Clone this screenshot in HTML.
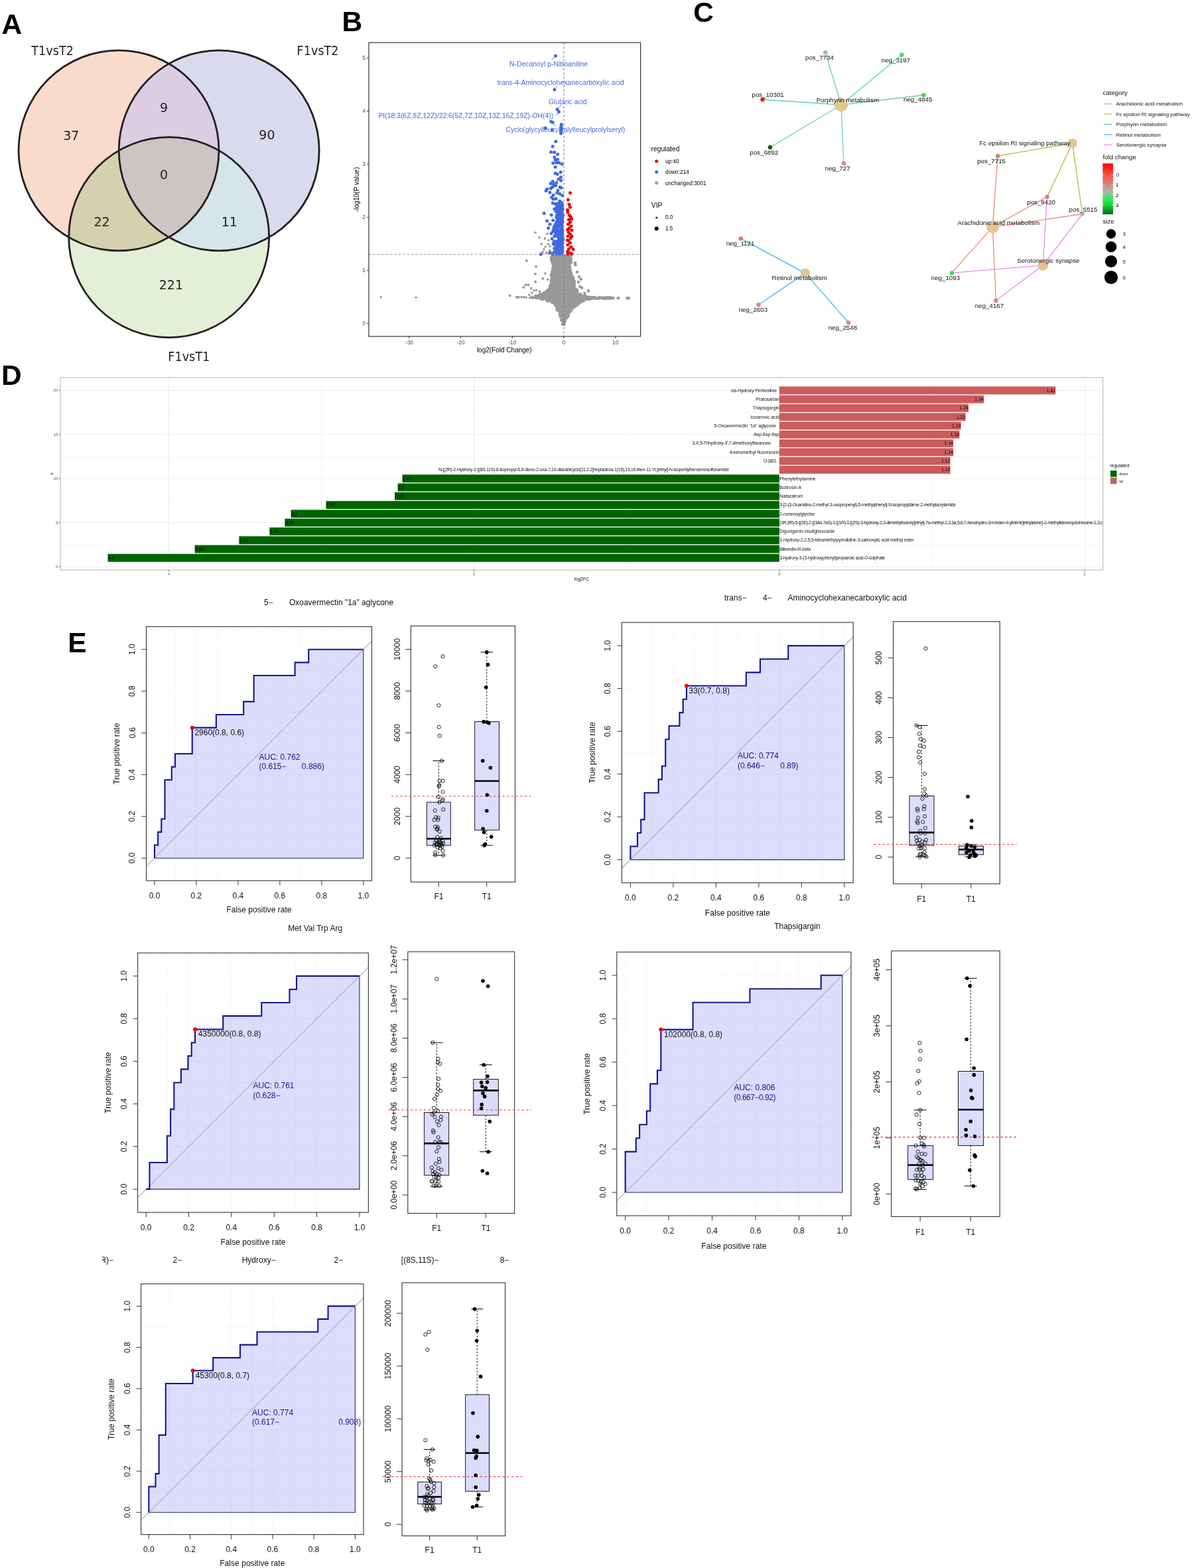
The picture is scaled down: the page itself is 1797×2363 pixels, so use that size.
<!DOCTYPE html>
<html><head><meta charset="utf-8"><title>Figure</title><style>html,body{margin:0;padding:0;background:#fff;}svg{display:block;}</style></head><body>
<svg width="1797" height="2363" viewBox="0 0 1797 2363"><defs><clipPath id="vc1"><circle cx="179" cy="226.8" r="151"/></clipPath><clipPath id="vc2"><circle cx="330.2" cy="226.8" r="151"/></clipPath></defs>
<circle cx="179" cy="226.8" r="151" fill="#f9dbcb"/>
<circle cx="330.2" cy="226.8" r="151" fill="#dadaee"/>
<circle cx="254.7" cy="357.6" r="151" fill="#e3efd6"/>
<circle cx="330.2" cy="226.8" r="151" fill="#dccde3" clip-path="url(#vc1)"/>
<circle cx="254.7" cy="357.6" r="151" fill="#d5d1ae" clip-path="url(#vc1)"/>
<circle cx="254.7" cy="357.6" r="151" fill="#d6e5ea" clip-path="url(#vc2)"/>
<g clip-path="url(#vc1)">
<circle cx="254.7" cy="357.6" r="151" fill="#cbc6c4" clip-path="url(#vc2)"/>
</g>
<circle cx="179" cy="226.8" r="151" fill="none" stroke="#231f1e" stroke-width="2.8"/>
<circle cx="330.2" cy="226.8" r="151" fill="none" stroke="#231f1e" stroke-width="2.8"/>
<circle cx="254.7" cy="357.6" r="151" fill="none" stroke="#231f1e" stroke-width="2.8"/>
<text x="47.3" y="83.2" font-size="19.6" fill="#231f1e" font-family="DejaVu Sans Condensed, DejaVu Sans, sans-serif">T1vsT2</text>
<text x="447.6" y="83.2" font-size="19.6" fill="#231f1e" font-family="DejaVu Sans Condensed, DejaVu Sans, sans-serif">F1vsT2</text>
<text x="253.3" y="543.5" font-size="19.6" fill="#231f1e" font-family="DejaVu Sans Condensed, DejaVu Sans, sans-serif">F1vsT1</text>
<text x="107.3" y="210.5" font-size="19" text-anchor="middle" fill="#231f1e" font-family="DejaVu Sans, sans-serif">37</text>
<text x="247" y="169.3" font-size="19" text-anchor="middle" fill="#231f1e" font-family="DejaVu Sans, sans-serif">9</text>
<text x="402.4" y="210" font-size="19" text-anchor="middle" fill="#231f1e" font-family="DejaVu Sans, sans-serif">90</text>
<text x="247" y="270.3" font-size="19" text-anchor="middle" fill="#231f1e" font-family="DejaVu Sans, sans-serif">0</text>
<text x="153.5" y="341" font-size="19" text-anchor="middle" fill="#231f1e" font-family="DejaVu Sans, sans-serif">22</text>
<text x="345.8" y="341" font-size="19" text-anchor="middle" fill="#231f1e" font-family="DejaVu Sans, sans-serif">11</text>
<text x="257.9" y="436" font-size="19" text-anchor="middle" fill="#231f1e" font-family="DejaVu Sans, sans-serif">221</text>
<defs><clipPath id="bclip"><rect x="556" y="64.2" width="409.6" height="442.8"/></clipPath></defs>
<circle cx="850.53" cy="489" r="2.3" fill="#999999"/>
<circle cx="848.16" cy="489" r="2.3" fill="#999999"/>
<circle cx="850.34" cy="486.6" r="2.3" fill="#999999"/>
<circle cx="849.31" cy="486.6" r="2.3" fill="#999999"/>
<circle cx="848.1" cy="484.21" r="2.3" fill="#999999"/>
<circle cx="850.67" cy="484.09" r="2.3" fill="#999999"/>
<circle cx="848.91" cy="484.2" r="2.3" fill="#999999"/>
<circle cx="851.5" cy="484.2" r="2.3" fill="#999999"/>
<circle cx="846.34" cy="482.32" r="2.3" fill="#999999"/>
<circle cx="848.46" cy="481.36" r="2.3" fill="#999999"/>
<circle cx="851.87" cy="482.52" r="2.3" fill="#999999"/>
<circle cx="846.56" cy="481.8" r="2.3" fill="#999999"/>
<circle cx="851.98" cy="481.8" r="2.3" fill="#999999"/>
<circle cx="847.66" cy="478.67" r="2.3" fill="#999999"/>
<circle cx="850.08" cy="479.06" r="2.3" fill="#999999"/>
<circle cx="851.53" cy="478.79" r="2.3" fill="#999999"/>
<circle cx="847" cy="479.4" r="2.3" fill="#999999"/>
<circle cx="854" cy="479.4" r="2.3" fill="#999999"/>
<circle cx="844.66" cy="477.13" r="2.3" fill="#999999"/>
<circle cx="847.99" cy="476.8" r="2.3" fill="#999999"/>
<circle cx="850.44" cy="476.3" r="2.3" fill="#999999"/>
<circle cx="852.26" cy="476.53" r="2.3" fill="#999999"/>
<circle cx="855.86" cy="476.88" r="2.3" fill="#999999"/>
<circle cx="845.27" cy="477" r="2.3" fill="#999999"/>
<circle cx="856.34" cy="477" r="2.3" fill="#999999"/>
<circle cx="844.14" cy="474.28" r="2.3" fill="#999999"/>
<circle cx="847.29" cy="474.92" r="2.3" fill="#999999"/>
<circle cx="849.01" cy="474.72" r="2.3" fill="#999999"/>
<circle cx="852.06" cy="475.2" r="2.3" fill="#999999"/>
<circle cx="854.99" cy="474.26" r="2.3" fill="#999999"/>
<circle cx="844.32" cy="474.6" r="2.3" fill="#999999"/>
<circle cx="856.9" cy="474.6" r="2.3" fill="#999999"/>
<circle cx="844.99" cy="472.61" r="2.3" fill="#999999"/>
<circle cx="847.17" cy="472.18" r="2.3" fill="#999999"/>
<circle cx="849.59" cy="472.47" r="2.3" fill="#999999"/>
<circle cx="853.35" cy="472.32" r="2.3" fill="#999999"/>
<circle cx="856.13" cy="471.9" r="2.3" fill="#999999"/>
<circle cx="845.22" cy="472.2" r="2.3" fill="#999999"/>
<circle cx="856.81" cy="472.2" r="2.3" fill="#999999"/>
<circle cx="843.46" cy="469.73" r="2.3" fill="#999999"/>
<circle cx="846.47" cy="470.51" r="2.3" fill="#999999"/>
<circle cx="848.49" cy="470.06" r="2.3" fill="#999999"/>
<circle cx="850.43" cy="470.12" r="2.3" fill="#999999"/>
<circle cx="853.96" cy="470.59" r="2.3" fill="#999999"/>
<circle cx="856.84" cy="469.46" r="2.3" fill="#999999"/>
<circle cx="858.75" cy="470.07" r="2.3" fill="#999999"/>
<circle cx="843.43" cy="469.8" r="2.3" fill="#999999"/>
<circle cx="859.42" cy="469.8" r="2.3" fill="#999999"/>
<circle cx="839.5" cy="466.79" r="2.3" fill="#999999"/>
<circle cx="841.92" cy="467.83" r="2.3" fill="#999999"/>
<circle cx="844.63" cy="467" r="2.3" fill="#999999"/>
<circle cx="847.65" cy="467.99" r="2.3" fill="#999999"/>
<circle cx="849.76" cy="467.32" r="2.3" fill="#999999"/>
<circle cx="853.11" cy="468.01" r="2.3" fill="#999999"/>
<circle cx="856.14" cy="467.98" r="2.3" fill="#999999"/>
<circle cx="857.87" cy="467.26" r="2.3" fill="#999999"/>
<circle cx="860.6" cy="468.01" r="2.3" fill="#999999"/>
<circle cx="840.13" cy="467.4" r="2.3" fill="#999999"/>
<circle cx="860.98" cy="467.4" r="2.3" fill="#999999"/>
<circle cx="840.71" cy="464.57" r="2.3" fill="#999999"/>
<circle cx="843.4" cy="464.98" r="2.3" fill="#999999"/>
<circle cx="846.57" cy="464.62" r="2.3" fill="#999999"/>
<circle cx="848.23" cy="464.87" r="2.3" fill="#999999"/>
<circle cx="851.42" cy="465.11" r="2.3" fill="#999999"/>
<circle cx="854.95" cy="465.3" r="2.3" fill="#999999"/>
<circle cx="856.85" cy="465.19" r="2.3" fill="#999999"/>
<circle cx="859.71" cy="464.29" r="2.3" fill="#999999"/>
<circle cx="862.67" cy="465.45" r="2.3" fill="#999999"/>
<circle cx="841.33" cy="465" r="2.3" fill="#999999"/>
<circle cx="862.04" cy="465" r="2.3" fill="#999999"/>
<circle cx="839.31" cy="462.44" r="2.3" fill="#999999"/>
<circle cx="841.45" cy="462.81" r="2.3" fill="#999999"/>
<circle cx="843.98" cy="461.91" r="2.3" fill="#999999"/>
<circle cx="846.82" cy="462.06" r="2.3" fill="#999999"/>
<circle cx="849.63" cy="461.88" r="2.3" fill="#999999"/>
<circle cx="851.68" cy="462.04" r="2.3" fill="#999999"/>
<circle cx="854.44" cy="462.38" r="2.3" fill="#999999"/>
<circle cx="856.92" cy="463.2" r="2.3" fill="#999999"/>
<circle cx="860.46" cy="462.04" r="2.3" fill="#999999"/>
<circle cx="862.49" cy="462.36" r="2.3" fill="#999999"/>
<circle cx="865.27" cy="462" r="2.3" fill="#999999"/>
<circle cx="839.58" cy="462.6" r="2.3" fill="#999999"/>
<circle cx="866.09" cy="462.6" r="2.3" fill="#999999"/>
<circle cx="837.66" cy="460.17" r="2.3" fill="#999999"/>
<circle cx="839.65" cy="459.56" r="2.3" fill="#999999"/>
<circle cx="842.66" cy="459.82" r="2.3" fill="#999999"/>
<circle cx="846.04" cy="459.66" r="2.3" fill="#999999"/>
<circle cx="847.35" cy="460.92" r="2.3" fill="#999999"/>
<circle cx="850.76" cy="459.63" r="2.3" fill="#999999"/>
<circle cx="853.38" cy="459.44" r="2.3" fill="#999999"/>
<circle cx="855.96" cy="460.97" r="2.3" fill="#999999"/>
<circle cx="859.09" cy="460.51" r="2.3" fill="#999999"/>
<circle cx="860.73" cy="459.99" r="2.3" fill="#999999"/>
<circle cx="863.18" cy="460.64" r="2.3" fill="#999999"/>
<circle cx="866.36" cy="460.65" r="2.3" fill="#999999"/>
<circle cx="868.64" cy="459.76" r="2.3" fill="#999999"/>
<circle cx="837.81" cy="460.2" r="2.3" fill="#999999"/>
<circle cx="869.52" cy="460.2" r="2.3" fill="#999999"/>
<circle cx="836.47" cy="458.29" r="2.3" fill="#999999"/>
<circle cx="839.02" cy="458.18" r="2.3" fill="#999999"/>
<circle cx="840.67" cy="457.83" r="2.3" fill="#999999"/>
<circle cx="843.48" cy="457.05" r="2.3" fill="#999999"/>
<circle cx="845.55" cy="457.45" r="2.3" fill="#999999"/>
<circle cx="848.52" cy="458.11" r="2.3" fill="#999999"/>
<circle cx="852.24" cy="457.72" r="2.3" fill="#999999"/>
<circle cx="854.81" cy="458.58" r="2.3" fill="#999999"/>
<circle cx="857.44" cy="457.58" r="2.3" fill="#999999"/>
<circle cx="858.86" cy="457.36" r="2.3" fill="#999999"/>
<circle cx="861.42" cy="457.33" r="2.3" fill="#999999"/>
<circle cx="864.71" cy="458.44" r="2.3" fill="#999999"/>
<circle cx="867.65" cy="457.77" r="2.3" fill="#999999"/>
<circle cx="869.95" cy="458.28" r="2.3" fill="#999999"/>
<circle cx="871.64" cy="458.06" r="2.3" fill="#999999"/>
<circle cx="836.01" cy="457.8" r="2.3" fill="#999999"/>
<circle cx="872.38" cy="457.8" r="2.3" fill="#999999"/>
<circle cx="832.5" cy="455.36" r="2.3" fill="#999999"/>
<circle cx="834.18" cy="455.86" r="2.3" fill="#999999"/>
<circle cx="837.03" cy="455.88" r="2.3" fill="#999999"/>
<circle cx="840.65" cy="455.23" r="2.3" fill="#999999"/>
<circle cx="842.34" cy="456.11" r="2.3" fill="#999999"/>
<circle cx="845.46" cy="454.87" r="2.3" fill="#999999"/>
<circle cx="847.1" cy="454.84" r="2.3" fill="#999999"/>
<circle cx="850.95" cy="455.89" r="2.3" fill="#999999"/>
<circle cx="852.33" cy="455.92" r="2.3" fill="#999999"/>
<circle cx="856.27" cy="455.65" r="2.3" fill="#999999"/>
<circle cx="857.86" cy="455.48" r="2.3" fill="#999999"/>
<circle cx="860.11" cy="454.62" r="2.3" fill="#999999"/>
<circle cx="864.05" cy="455.64" r="2.3" fill="#999999"/>
<circle cx="865.94" cy="456.09" r="2.3" fill="#999999"/>
<circle cx="868.39" cy="455.99" r="2.3" fill="#999999"/>
<circle cx="871.62" cy="454.94" r="2.3" fill="#999999"/>
<circle cx="873.3" cy="455.07" r="2.3" fill="#999999"/>
<circle cx="832.2" cy="455.4" r="2.3" fill="#999999"/>
<circle cx="875.85" cy="455.4" r="2.3" fill="#999999"/>
<circle cx="824.32" cy="452.87" r="2.3" fill="#999999"/>
<circle cx="826.71" cy="453.66" r="2.3" fill="#999999"/>
<circle cx="829.67" cy="452.93" r="2.3" fill="#999999"/>
<circle cx="832.64" cy="453.65" r="2.3" fill="#999999"/>
<circle cx="834.98" cy="453.67" r="2.3" fill="#999999"/>
<circle cx="837.71" cy="453.05" r="2.3" fill="#999999"/>
<circle cx="840.34" cy="452.23" r="2.3" fill="#999999"/>
<circle cx="842.81" cy="452.49" r="2.3" fill="#999999"/>
<circle cx="844.71" cy="453.48" r="2.3" fill="#999999"/>
<circle cx="847.58" cy="452.96" r="2.3" fill="#999999"/>
<circle cx="851.06" cy="453.09" r="2.3" fill="#999999"/>
<circle cx="853.03" cy="453.03" r="2.3" fill="#999999"/>
<circle cx="855.99" cy="453.45" r="2.3" fill="#999999"/>
<circle cx="857.87" cy="453.1" r="2.3" fill="#999999"/>
<circle cx="860.7" cy="452.64" r="2.3" fill="#999999"/>
<circle cx="864.14" cy="453.01" r="2.3" fill="#999999"/>
<circle cx="866.4" cy="453.42" r="2.3" fill="#999999"/>
<circle cx="869.56" cy="452.91" r="2.3" fill="#999999"/>
<circle cx="871.68" cy="453.01" r="2.3" fill="#999999"/>
<circle cx="874.12" cy="453.31" r="2.3" fill="#999999"/>
<circle cx="876.63" cy="453.05" r="2.3" fill="#999999"/>
<circle cx="879.27" cy="453.71" r="2.3" fill="#999999"/>
<circle cx="824.8" cy="453" r="2.3" fill="#999999"/>
<circle cx="880.04" cy="453" r="2.3" fill="#999999"/>
<circle cx="816.03" cy="450.22" r="2.3" fill="#999999"/>
<circle cx="818.01" cy="451.31" r="2.3" fill="#999999"/>
<circle cx="821.06" cy="450.02" r="2.3" fill="#999999"/>
<circle cx="822.51" cy="450.51" r="2.3" fill="#999999"/>
<circle cx="825.04" cy="450.19" r="2.3" fill="#999999"/>
<circle cx="827.64" cy="450.87" r="2.3" fill="#999999"/>
<circle cx="831.37" cy="451.24" r="2.3" fill="#999999"/>
<circle cx="832.97" cy="450.95" r="2.3" fill="#999999"/>
<circle cx="836.38" cy="450.03" r="2.3" fill="#999999"/>
<circle cx="839.33" cy="451.35" r="2.3" fill="#999999"/>
<circle cx="840.87" cy="451.32" r="2.3" fill="#999999"/>
<circle cx="843.76" cy="450.58" r="2.3" fill="#999999"/>
<circle cx="847.3" cy="451.13" r="2.3" fill="#999999"/>
<circle cx="848.58" cy="450.49" r="2.3" fill="#999999"/>
<circle cx="851.74" cy="450.34" r="2.3" fill="#999999"/>
<circle cx="853.83" cy="450.31" r="2.3" fill="#999999"/>
<circle cx="857.27" cy="449.83" r="2.3" fill="#999999"/>
<circle cx="859.61" cy="450.5" r="2.3" fill="#999999"/>
<circle cx="861.35" cy="450.33" r="2.3" fill="#999999"/>
<circle cx="864.92" cy="450.62" r="2.3" fill="#999999"/>
<circle cx="866.62" cy="451.38" r="2.3" fill="#999999"/>
<circle cx="870.38" cy="451.35" r="2.3" fill="#999999"/>
<circle cx="871.89" cy="450.22" r="2.3" fill="#999999"/>
<circle cx="874.38" cy="451.05" r="2.3" fill="#999999"/>
<circle cx="877.35" cy="450.01" r="2.3" fill="#999999"/>
<circle cx="880.19" cy="451.26" r="2.3" fill="#999999"/>
<circle cx="883.43" cy="450.21" r="2.3" fill="#999999"/>
<circle cx="884.96" cy="451.27" r="2.3" fill="#999999"/>
<circle cx="888.23" cy="450.92" r="2.3" fill="#999999"/>
<circle cx="815.42" cy="450.6" r="2.3" fill="#999999"/>
<circle cx="888.57" cy="450.6" r="2.3" fill="#999999"/>
<circle cx="807.71" cy="448.08" r="2.3" fill="#999999"/>
<circle cx="809.32" cy="448.9" r="2.3" fill="#999999"/>
<circle cx="812.82" cy="448.68" r="2.3" fill="#999999"/>
<circle cx="814.54" cy="448.77" r="2.3" fill="#999999"/>
<circle cx="817.11" cy="448.78" r="2.3" fill="#999999"/>
<circle cx="820.33" cy="447.94" r="2.3" fill="#999999"/>
<circle cx="823.09" cy="448.88" r="2.3" fill="#999999"/>
<circle cx="825.23" cy="447.61" r="2.3" fill="#999999"/>
<circle cx="828.25" cy="447.78" r="2.3" fill="#999999"/>
<circle cx="830.18" cy="447.66" r="2.3" fill="#999999"/>
<circle cx="832.68" cy="447.72" r="2.3" fill="#999999"/>
<circle cx="835.7" cy="447.89" r="2.3" fill="#999999"/>
<circle cx="839.02" cy="447.86" r="2.3" fill="#999999"/>
<circle cx="841.2" cy="447.68" r="2.3" fill="#999999"/>
<circle cx="843.56" cy="447.43" r="2.3" fill="#999999"/>
<circle cx="846.01" cy="447.42" r="2.3" fill="#999999"/>
<circle cx="849.38" cy="448.28" r="2.3" fill="#999999"/>
<circle cx="851.11" cy="448.16" r="2.3" fill="#999999"/>
<circle cx="854.9" cy="447.57" r="2.3" fill="#999999"/>
<circle cx="857.31" cy="448.09" r="2.3" fill="#999999"/>
<circle cx="859.4" cy="448.74" r="2.3" fill="#999999"/>
<circle cx="861.83" cy="448.21" r="2.3" fill="#999999"/>
<circle cx="864.9" cy="448.97" r="2.3" fill="#999999"/>
<circle cx="866.95" cy="448.73" r="2.3" fill="#999999"/>
<circle cx="870.14" cy="448.42" r="2.3" fill="#999999"/>
<circle cx="872.25" cy="447.96" r="2.3" fill="#999999"/>
<circle cx="874.29" cy="447.61" r="2.3" fill="#999999"/>
<circle cx="876.92" cy="448.59" r="2.3" fill="#999999"/>
<circle cx="879.81" cy="447.66" r="2.3" fill="#999999"/>
<circle cx="882.14" cy="448.75" r="2.3" fill="#999999"/>
<circle cx="886" cy="448.47" r="2.3" fill="#999999"/>
<circle cx="887.66" cy="447.79" r="2.3" fill="#999999"/>
<circle cx="890.27" cy="448.14" r="2.3" fill="#999999"/>
<circle cx="807.5" cy="448.2" r="2.3" fill="#999999"/>
<circle cx="891.3" cy="448.2" r="2.3" fill="#999999"/>
<circle cx="807.6" cy="446.54" r="2.3" fill="#999999"/>
<circle cx="811.33" cy="445.88" r="2.3" fill="#999999"/>
<circle cx="812.77" cy="446.55" r="2.3" fill="#999999"/>
<circle cx="815.47" cy="445.57" r="2.3" fill="#999999"/>
<circle cx="817.58" cy="445.61" r="2.3" fill="#999999"/>
<circle cx="820.94" cy="445.8" r="2.3" fill="#999999"/>
<circle cx="823.1" cy="445.81" r="2.3" fill="#999999"/>
<circle cx="825.38" cy="445.42" r="2.3" fill="#999999"/>
<circle cx="828.12" cy="445.64" r="2.3" fill="#999999"/>
<circle cx="830.64" cy="445.04" r="2.3" fill="#999999"/>
<circle cx="833.66" cy="445.37" r="2.3" fill="#999999"/>
<circle cx="836.71" cy="445.85" r="2.3" fill="#999999"/>
<circle cx="839.58" cy="446.05" r="2.3" fill="#999999"/>
<circle cx="842.12" cy="446.41" r="2.3" fill="#999999"/>
<circle cx="844.2" cy="445.52" r="2.3" fill="#999999"/>
<circle cx="847.75" cy="445.24" r="2.3" fill="#999999"/>
<circle cx="849.93" cy="446.03" r="2.3" fill="#999999"/>
<circle cx="851.45" cy="446.34" r="2.3" fill="#999999"/>
<circle cx="855.4" cy="446" r="2.3" fill="#999999"/>
<circle cx="857.75" cy="446.3" r="2.3" fill="#999999"/>
<circle cx="859.4" cy="445.84" r="2.3" fill="#999999"/>
<circle cx="862.58" cy="446.34" r="2.3" fill="#999999"/>
<circle cx="865.66" cy="446.32" r="2.3" fill="#999999"/>
<circle cx="867.91" cy="446.43" r="2.3" fill="#999999"/>
<circle cx="870.67" cy="446.11" r="2.3" fill="#999999"/>
<circle cx="872.54" cy="445.05" r="2.3" fill="#999999"/>
<circle cx="874.99" cy="445.58" r="2.3" fill="#999999"/>
<circle cx="877.54" cy="446.34" r="2.3" fill="#999999"/>
<circle cx="880.87" cy="446" r="2.3" fill="#999999"/>
<circle cx="808.08" cy="445.8" r="2.3" fill="#999999"/>
<circle cx="881.58" cy="445.8" r="2.3" fill="#999999"/>
<circle cx="814.3" cy="442.61" r="2.3" fill="#999999"/>
<circle cx="817.39" cy="443.8" r="2.3" fill="#999999"/>
<circle cx="819.52" cy="443.46" r="2.3" fill="#999999"/>
<circle cx="822.37" cy="442.71" r="2.3" fill="#999999"/>
<circle cx="825.09" cy="443" r="2.3" fill="#999999"/>
<circle cx="826.64" cy="443.02" r="2.3" fill="#999999"/>
<circle cx="830.28" cy="442.93" r="2.3" fill="#999999"/>
<circle cx="832.9" cy="444.16" r="2.3" fill="#999999"/>
<circle cx="835.11" cy="443.21" r="2.3" fill="#999999"/>
<circle cx="837.68" cy="443.69" r="2.3" fill="#999999"/>
<circle cx="840.74" cy="443.59" r="2.3" fill="#999999"/>
<circle cx="843.14" cy="442.72" r="2.3" fill="#999999"/>
<circle cx="844.95" cy="443.01" r="2.3" fill="#999999"/>
<circle cx="848.51" cy="443.09" r="2.3" fill="#999999"/>
<circle cx="850.82" cy="442.62" r="2.3" fill="#999999"/>
<circle cx="852.61" cy="443.03" r="2.3" fill="#999999"/>
<circle cx="856.19" cy="443.71" r="2.3" fill="#999999"/>
<circle cx="858.8" cy="443.07" r="2.3" fill="#999999"/>
<circle cx="861.14" cy="443.34" r="2.3" fill="#999999"/>
<circle cx="863.66" cy="442.79" r="2.3" fill="#999999"/>
<circle cx="866.95" cy="442.92" r="2.3" fill="#999999"/>
<circle cx="869.68" cy="444.1" r="2.3" fill="#999999"/>
<circle cx="870.74" cy="443.33" r="2.3" fill="#999999"/>
<circle cx="874.63" cy="444.15" r="2.3" fill="#999999"/>
<circle cx="814.42" cy="443.4" r="2.3" fill="#999999"/>
<circle cx="875.1" cy="443.4" r="2.3" fill="#999999"/>
<circle cx="819.6" cy="441.71" r="2.3" fill="#999999"/>
<circle cx="822.2" cy="441.13" r="2.3" fill="#999999"/>
<circle cx="824.69" cy="441.04" r="2.3" fill="#999999"/>
<circle cx="828.59" cy="440.41" r="2.3" fill="#999999"/>
<circle cx="830.97" cy="441.01" r="2.3" fill="#999999"/>
<circle cx="833.68" cy="441.33" r="2.3" fill="#999999"/>
<circle cx="835.23" cy="441.64" r="2.3" fill="#999999"/>
<circle cx="838.24" cy="440.24" r="2.3" fill="#999999"/>
<circle cx="840.07" cy="440.99" r="2.3" fill="#999999"/>
<circle cx="843.38" cy="440.68" r="2.3" fill="#999999"/>
<circle cx="845.49" cy="440.75" r="2.3" fill="#999999"/>
<circle cx="848.37" cy="441.54" r="2.3" fill="#999999"/>
<circle cx="850.46" cy="441.4" r="2.3" fill="#999999"/>
<circle cx="854.4" cy="440.39" r="2.3" fill="#999999"/>
<circle cx="857.14" cy="441.34" r="2.3" fill="#999999"/>
<circle cx="859.7" cy="440.66" r="2.3" fill="#999999"/>
<circle cx="861.46" cy="440.83" r="2.3" fill="#999999"/>
<circle cx="865.06" cy="441.14" r="2.3" fill="#999999"/>
<circle cx="866.64" cy="440.88" r="2.3" fill="#999999"/>
<circle cx="869.1" cy="440.28" r="2.3" fill="#999999"/>
<circle cx="820.16" cy="441" r="2.3" fill="#999999"/>
<circle cx="870.09" cy="441" r="2.3" fill="#999999"/>
<circle cx="823.61" cy="439.3" r="2.3" fill="#999999"/>
<circle cx="826.15" cy="438.23" r="2.3" fill="#999999"/>
<circle cx="829.17" cy="438.1" r="2.3" fill="#999999"/>
<circle cx="831.55" cy="439.33" r="2.3" fill="#999999"/>
<circle cx="834.96" cy="439.1" r="2.3" fill="#999999"/>
<circle cx="837.16" cy="439.26" r="2.3" fill="#999999"/>
<circle cx="840.25" cy="438.68" r="2.3" fill="#999999"/>
<circle cx="842.5" cy="437.88" r="2.3" fill="#999999"/>
<circle cx="845.12" cy="438.52" r="2.3" fill="#999999"/>
<circle cx="847.75" cy="438.83" r="2.3" fill="#999999"/>
<circle cx="849.61" cy="437.88" r="2.3" fill="#999999"/>
<circle cx="853.23" cy="438" r="2.3" fill="#999999"/>
<circle cx="855.1" cy="438.35" r="2.3" fill="#999999"/>
<circle cx="857.43" cy="438.98" r="2.3" fill="#999999"/>
<circle cx="861.11" cy="438.22" r="2.3" fill="#999999"/>
<circle cx="863.2" cy="438.28" r="2.3" fill="#999999"/>
<circle cx="865.64" cy="438.43" r="2.3" fill="#999999"/>
<circle cx="867.62" cy="438.06" r="2.3" fill="#999999"/>
<circle cx="824.05" cy="438.6" r="2.3" fill="#999999"/>
<circle cx="870.07" cy="438.6" r="2.3" fill="#999999"/>
<circle cx="827.48" cy="435.75" r="2.3" fill="#999999"/>
<circle cx="830.73" cy="436.99" r="2.3" fill="#999999"/>
<circle cx="832.6" cy="435.62" r="2.3" fill="#999999"/>
<circle cx="834.79" cy="435.55" r="2.3" fill="#999999"/>
<circle cx="837.63" cy="435.55" r="2.3" fill="#999999"/>
<circle cx="840.06" cy="435.81" r="2.3" fill="#999999"/>
<circle cx="843.19" cy="436.82" r="2.3" fill="#999999"/>
<circle cx="846.08" cy="436.06" r="2.3" fill="#999999"/>
<circle cx="848.14" cy="436.24" r="2.3" fill="#999999"/>
<circle cx="850.69" cy="435.94" r="2.3" fill="#999999"/>
<circle cx="852.78" cy="435.84" r="2.3" fill="#999999"/>
<circle cx="856.83" cy="435.6" r="2.3" fill="#999999"/>
<circle cx="858.69" cy="436.41" r="2.3" fill="#999999"/>
<circle cx="861.86" cy="435.75" r="2.3" fill="#999999"/>
<circle cx="863.52" cy="435.8" r="2.3" fill="#999999"/>
<circle cx="866.32" cy="436.11" r="2.3" fill="#999999"/>
<circle cx="869.81" cy="436.76" r="2.3" fill="#999999"/>
<circle cx="827.58" cy="436.2" r="2.3" fill="#999999"/>
<circle cx="869.03" cy="436.2" r="2.3" fill="#999999"/>
<circle cx="829.56" cy="434.14" r="2.3" fill="#999999"/>
<circle cx="833.54" cy="433.76" r="2.3" fill="#999999"/>
<circle cx="835.64" cy="433" r="2.3" fill="#999999"/>
<circle cx="837.93" cy="434.48" r="2.3" fill="#999999"/>
<circle cx="841.23" cy="434.37" r="2.3" fill="#999999"/>
<circle cx="844.06" cy="433.4" r="2.3" fill="#999999"/>
<circle cx="845.28" cy="433.25" r="2.3" fill="#999999"/>
<circle cx="848.54" cy="434.09" r="2.3" fill="#999999"/>
<circle cx="851.81" cy="434.15" r="2.3" fill="#999999"/>
<circle cx="853.94" cy="434.22" r="2.3" fill="#999999"/>
<circle cx="856.24" cy="433.88" r="2.3" fill="#999999"/>
<circle cx="858.17" cy="434.25" r="2.3" fill="#999999"/>
<circle cx="861.08" cy="434.47" r="2.3" fill="#999999"/>
<circle cx="864.34" cy="433.49" r="2.3" fill="#999999"/>
<circle cx="830.4" cy="433.8" r="2.3" fill="#999999"/>
<circle cx="865.81" cy="433.8" r="2.3" fill="#999999"/>
<circle cx="829.4" cy="431.72" r="2.3" fill="#999999"/>
<circle cx="831.16" cy="430.71" r="2.3" fill="#999999"/>
<circle cx="834.42" cy="431.53" r="2.3" fill="#999999"/>
<circle cx="836.8" cy="430.96" r="2.3" fill="#999999"/>
<circle cx="839.74" cy="430.62" r="2.3" fill="#999999"/>
<circle cx="841.86" cy="431.34" r="2.3" fill="#999999"/>
<circle cx="845.51" cy="431.63" r="2.3" fill="#999999"/>
<circle cx="847.99" cy="431.36" r="2.3" fill="#999999"/>
<circle cx="849.55" cy="431" r="2.3" fill="#999999"/>
<circle cx="853.32" cy="431.73" r="2.3" fill="#999999"/>
<circle cx="854.87" cy="430.63" r="2.3" fill="#999999"/>
<circle cx="857.78" cy="431.68" r="2.3" fill="#999999"/>
<circle cx="860.25" cy="431.01" r="2.3" fill="#999999"/>
<circle cx="863.25" cy="432.08" r="2.3" fill="#999999"/>
<circle cx="865.14" cy="430.65" r="2.3" fill="#999999"/>
<circle cx="829.28" cy="431.4" r="2.3" fill="#999999"/>
<circle cx="865.72" cy="431.4" r="2.3" fill="#999999"/>
<circle cx="830.67" cy="428.52" r="2.3" fill="#999999"/>
<circle cx="833.46" cy="429.38" r="2.3" fill="#999999"/>
<circle cx="835.59" cy="428.53" r="2.3" fill="#999999"/>
<circle cx="838.93" cy="428.7" r="2.3" fill="#999999"/>
<circle cx="841.29" cy="428.57" r="2.3" fill="#999999"/>
<circle cx="842.94" cy="429.42" r="2.3" fill="#999999"/>
<circle cx="845.65" cy="429.72" r="2.3" fill="#999999"/>
<circle cx="848.57" cy="428.5" r="2.3" fill="#999999"/>
<circle cx="850.74" cy="428.87" r="2.3" fill="#999999"/>
<circle cx="854.05" cy="429.72" r="2.3" fill="#999999"/>
<circle cx="855.82" cy="428.83" r="2.3" fill="#999999"/>
<circle cx="858.52" cy="429.76" r="2.3" fill="#999999"/>
<circle cx="861.01" cy="428.28" r="2.3" fill="#999999"/>
<circle cx="863.48" cy="428.83" r="2.3" fill="#999999"/>
<circle cx="830.48" cy="429" r="2.3" fill="#999999"/>
<circle cx="865.49" cy="429" r="2.3" fill="#999999"/>
<circle cx="832.79" cy="427.4" r="2.3" fill="#999999"/>
<circle cx="835.71" cy="426.33" r="2.3" fill="#999999"/>
<circle cx="837.12" cy="427.3" r="2.3" fill="#999999"/>
<circle cx="840.62" cy="425.85" r="2.3" fill="#999999"/>
<circle cx="843.09" cy="426.41" r="2.3" fill="#999999"/>
<circle cx="845.22" cy="426.33" r="2.3" fill="#999999"/>
<circle cx="847.49" cy="425.8" r="2.3" fill="#999999"/>
<circle cx="850.27" cy="426.36" r="2.3" fill="#999999"/>
<circle cx="853.95" cy="426" r="2.3" fill="#999999"/>
<circle cx="856.57" cy="426.13" r="2.3" fill="#999999"/>
<circle cx="858.19" cy="427.11" r="2.3" fill="#999999"/>
<circle cx="861.54" cy="426.49" r="2.3" fill="#999999"/>
<circle cx="862.9" cy="426.56" r="2.3" fill="#999999"/>
<circle cx="832.52" cy="426.6" r="2.3" fill="#999999"/>
<circle cx="866.09" cy="426.6" r="2.3" fill="#999999"/>
<circle cx="830.93" cy="423.98" r="2.3" fill="#999999"/>
<circle cx="834.66" cy="423.45" r="2.3" fill="#999999"/>
<circle cx="836.48" cy="424.7" r="2.3" fill="#999999"/>
<circle cx="839.65" cy="423.47" r="2.3" fill="#999999"/>
<circle cx="841.08" cy="423.5" r="2.3" fill="#999999"/>
<circle cx="845.1" cy="423.81" r="2.3" fill="#999999"/>
<circle cx="847.42" cy="424.84" r="2.3" fill="#999999"/>
<circle cx="849.37" cy="423.84" r="2.3" fill="#999999"/>
<circle cx="852.96" cy="424.39" r="2.3" fill="#999999"/>
<circle cx="854.44" cy="424.55" r="2.3" fill="#999999"/>
<circle cx="857.13" cy="423.84" r="2.3" fill="#999999"/>
<circle cx="859.23" cy="424.61" r="2.3" fill="#999999"/>
<circle cx="863.29" cy="424.41" r="2.3" fill="#999999"/>
<circle cx="865.93" cy="423.44" r="2.3" fill="#999999"/>
<circle cx="831.52" cy="424.2" r="2.3" fill="#999999"/>
<circle cx="865.5" cy="424.2" r="2.3" fill="#999999"/>
<circle cx="831.79" cy="422.53" r="2.3" fill="#999999"/>
<circle cx="833.47" cy="421.4" r="2.3" fill="#999999"/>
<circle cx="836.14" cy="421.79" r="2.3" fill="#999999"/>
<circle cx="839.54" cy="421.29" r="2.3" fill="#999999"/>
<circle cx="841.94" cy="422.18" r="2.3" fill="#999999"/>
<circle cx="844.57" cy="422.24" r="2.3" fill="#999999"/>
<circle cx="846.83" cy="421.52" r="2.3" fill="#999999"/>
<circle cx="848.97" cy="421.58" r="2.3" fill="#999999"/>
<circle cx="852.31" cy="421.13" r="2.3" fill="#999999"/>
<circle cx="853.97" cy="422.2" r="2.3" fill="#999999"/>
<circle cx="856.65" cy="421.1" r="2.3" fill="#999999"/>
<circle cx="858.91" cy="421.88" r="2.3" fill="#999999"/>
<circle cx="861.98" cy="422.57" r="2.3" fill="#999999"/>
<circle cx="831.15" cy="421.8" r="2.3" fill="#999999"/>
<circle cx="863.52" cy="421.8" r="2.3" fill="#999999"/>
<circle cx="832.5" cy="418.73" r="2.3" fill="#999999"/>
<circle cx="834.83" cy="419.4" r="2.3" fill="#999999"/>
<circle cx="838.41" cy="419.32" r="2.3" fill="#999999"/>
<circle cx="840.25" cy="419.27" r="2.3" fill="#999999"/>
<circle cx="843.47" cy="419.68" r="2.3" fill="#999999"/>
<circle cx="846.27" cy="419.96" r="2.3" fill="#999999"/>
<circle cx="848.74" cy="418.79" r="2.3" fill="#999999"/>
<circle cx="851.62" cy="419.07" r="2.3" fill="#999999"/>
<circle cx="853.78" cy="419.2" r="2.3" fill="#999999"/>
<circle cx="856.65" cy="418.92" r="2.3" fill="#999999"/>
<circle cx="858.47" cy="418.99" r="2.3" fill="#999999"/>
<circle cx="860.92" cy="420.01" r="2.3" fill="#999999"/>
<circle cx="864.2" cy="419.12" r="2.3" fill="#999999"/>
<circle cx="832.97" cy="419.4" r="2.3" fill="#999999"/>
<circle cx="864.22" cy="419.4" r="2.3" fill="#999999"/>
<circle cx="831.64" cy="416.57" r="2.3" fill="#999999"/>
<circle cx="834.72" cy="417.25" r="2.3" fill="#999999"/>
<circle cx="837.61" cy="416.36" r="2.3" fill="#999999"/>
<circle cx="839.39" cy="417.51" r="2.3" fill="#999999"/>
<circle cx="842.57" cy="417.66" r="2.3" fill="#999999"/>
<circle cx="843.89" cy="416.67" r="2.3" fill="#999999"/>
<circle cx="846.62" cy="416.5" r="2.3" fill="#999999"/>
<circle cx="850.58" cy="417.13" r="2.3" fill="#999999"/>
<circle cx="853.12" cy="416.8" r="2.3" fill="#999999"/>
<circle cx="855.61" cy="416.92" r="2.3" fill="#999999"/>
<circle cx="857.24" cy="417.44" r="2.3" fill="#999999"/>
<circle cx="860.94" cy="416.37" r="2.3" fill="#999999"/>
<circle cx="862.98" cy="417.19" r="2.3" fill="#999999"/>
<circle cx="831.73" cy="417" r="2.3" fill="#999999"/>
<circle cx="863.44" cy="417" r="2.3" fill="#999999"/>
<circle cx="831.03" cy="414.13" r="2.3" fill="#999999"/>
<circle cx="833.81" cy="414.76" r="2.3" fill="#999999"/>
<circle cx="837.04" cy="414.13" r="2.3" fill="#999999"/>
<circle cx="838.62" cy="414.32" r="2.3" fill="#999999"/>
<circle cx="842.29" cy="414.1" r="2.3" fill="#999999"/>
<circle cx="844.3" cy="414.13" r="2.3" fill="#999999"/>
<circle cx="847.67" cy="414.68" r="2.3" fill="#999999"/>
<circle cx="849.1" cy="413.96" r="2.3" fill="#999999"/>
<circle cx="852.23" cy="414.68" r="2.3" fill="#999999"/>
<circle cx="855.22" cy="413.95" r="2.3" fill="#999999"/>
<circle cx="857.06" cy="414.91" r="2.3" fill="#999999"/>
<circle cx="860.06" cy="414.25" r="2.3" fill="#999999"/>
<circle cx="831.7" cy="414.6" r="2.3" fill="#999999"/>
<circle cx="860.75" cy="414.6" r="2.3" fill="#999999"/>
<circle cx="832.02" cy="412.31" r="2.3" fill="#999999"/>
<circle cx="834.7" cy="412.07" r="2.3" fill="#999999"/>
<circle cx="838.11" cy="412.99" r="2.3" fill="#999999"/>
<circle cx="839.91" cy="411.72" r="2.3" fill="#999999"/>
<circle cx="843.09" cy="411.73" r="2.3" fill="#999999"/>
<circle cx="844.53" cy="412.84" r="2.3" fill="#999999"/>
<circle cx="847.8" cy="412.71" r="2.3" fill="#999999"/>
<circle cx="850.37" cy="412.81" r="2.3" fill="#999999"/>
<circle cx="853.06" cy="411.66" r="2.3" fill="#999999"/>
<circle cx="854.95" cy="412.28" r="2.3" fill="#999999"/>
<circle cx="858.55" cy="412.86" r="2.3" fill="#999999"/>
<circle cx="860.27" cy="412.4" r="2.3" fill="#999999"/>
<circle cx="832.42" cy="412.2" r="2.3" fill="#999999"/>
<circle cx="861.44" cy="412.2" r="2.3" fill="#999999"/>
<circle cx="832.3" cy="409.45" r="2.3" fill="#999999"/>
<circle cx="835.5" cy="410.48" r="2.3" fill="#999999"/>
<circle cx="837.44" cy="409.78" r="2.3" fill="#999999"/>
<circle cx="841.16" cy="410.55" r="2.3" fill="#999999"/>
<circle cx="842.78" cy="409.2" r="2.3" fill="#999999"/>
<circle cx="846.58" cy="410.56" r="2.3" fill="#999999"/>
<circle cx="848.44" cy="409.09" r="2.3" fill="#999999"/>
<circle cx="851.75" cy="409.62" r="2.3" fill="#999999"/>
<circle cx="854.31" cy="409.99" r="2.3" fill="#999999"/>
<circle cx="856.79" cy="409.26" r="2.3" fill="#999999"/>
<circle cx="859.32" cy="409.36" r="2.3" fill="#999999"/>
<circle cx="832.97" cy="409.8" r="2.3" fill="#999999"/>
<circle cx="859.47" cy="409.8" r="2.3" fill="#999999"/>
<circle cx="833.75" cy="406.89" r="2.3" fill="#999999"/>
<circle cx="835.37" cy="407.24" r="2.3" fill="#999999"/>
<circle cx="838.45" cy="407.21" r="2.3" fill="#999999"/>
<circle cx="840.42" cy="407" r="2.3" fill="#999999"/>
<circle cx="843.98" cy="408.04" r="2.3" fill="#999999"/>
<circle cx="845.49" cy="407.5" r="2.3" fill="#999999"/>
<circle cx="849.23" cy="406.66" r="2.3" fill="#999999"/>
<circle cx="851.96" cy="406.79" r="2.3" fill="#999999"/>
<circle cx="854.18" cy="407.48" r="2.3" fill="#999999"/>
<circle cx="856.82" cy="407.09" r="2.3" fill="#999999"/>
<circle cx="859.09" cy="407.53" r="2.3" fill="#999999"/>
<circle cx="833.32" cy="407.4" r="2.3" fill="#999999"/>
<circle cx="859.95" cy="407.4" r="2.3" fill="#999999"/>
<circle cx="833.45" cy="404.9" r="2.3" fill="#999999"/>
<circle cx="835.38" cy="405.19" r="2.3" fill="#999999"/>
<circle cx="838.72" cy="404.58" r="2.3" fill="#999999"/>
<circle cx="841.76" cy="405.45" r="2.3" fill="#999999"/>
<circle cx="843.87" cy="404.49" r="2.3" fill="#999999"/>
<circle cx="846.5" cy="404.37" r="2.3" fill="#999999"/>
<circle cx="848.54" cy="404.89" r="2.3" fill="#999999"/>
<circle cx="851.08" cy="404.91" r="2.3" fill="#999999"/>
<circle cx="854.35" cy="404.27" r="2.3" fill="#999999"/>
<circle cx="857.16" cy="404.33" r="2.3" fill="#999999"/>
<circle cx="833.64" cy="405" r="2.3" fill="#999999"/>
<circle cx="858.94" cy="405" r="2.3" fill="#999999"/>
<circle cx="834.27" cy="401.89" r="2.3" fill="#999999"/>
<circle cx="836.86" cy="402.4" r="2.3" fill="#999999"/>
<circle cx="840.17" cy="402.02" r="2.3" fill="#999999"/>
<circle cx="842.62" cy="403.39" r="2.3" fill="#999999"/>
<circle cx="845.02" cy="403.1" r="2.3" fill="#999999"/>
<circle cx="846.76" cy="403.37" r="2.3" fill="#999999"/>
<circle cx="849.84" cy="403.33" r="2.3" fill="#999999"/>
<circle cx="853.12" cy="402.06" r="2.3" fill="#999999"/>
<circle cx="855.51" cy="403.29" r="2.3" fill="#999999"/>
<circle cx="856.96" cy="402.36" r="2.3" fill="#999999"/>
<circle cx="834.35" cy="402.6" r="2.3" fill="#999999"/>
<circle cx="859.35" cy="402.6" r="2.3" fill="#999999"/>
<circle cx="834.7" cy="399.84" r="2.3" fill="#999999"/>
<circle cx="837.17" cy="399.63" r="2.3" fill="#999999"/>
<circle cx="839.26" cy="400.87" r="2.3" fill="#999999"/>
<circle cx="841.39" cy="399.82" r="2.3" fill="#999999"/>
<circle cx="844.47" cy="399.91" r="2.3" fill="#999999"/>
<circle cx="846.32" cy="399.69" r="2.3" fill="#999999"/>
<circle cx="849.12" cy="400.9" r="2.3" fill="#999999"/>
<circle cx="852.55" cy="400.83" r="2.3" fill="#999999"/>
<circle cx="854.33" cy="400.66" r="2.3" fill="#999999"/>
<circle cx="856.85" cy="400.25" r="2.3" fill="#999999"/>
<circle cx="834.16" cy="400.2" r="2.3" fill="#999999"/>
<circle cx="857.84" cy="400.2" r="2.3" fill="#999999"/>
<circle cx="834.06" cy="397.89" r="2.3" fill="#999999"/>
<circle cx="836.19" cy="398.41" r="2.3" fill="#999999"/>
<circle cx="838.03" cy="398.59" r="2.3" fill="#999999"/>
<circle cx="841.47" cy="397.63" r="2.3" fill="#999999"/>
<circle cx="844.34" cy="397.42" r="2.3" fill="#999999"/>
<circle cx="847.25" cy="397.92" r="2.3" fill="#999999"/>
<circle cx="848.84" cy="398.22" r="2.3" fill="#999999"/>
<circle cx="851.57" cy="397.28" r="2.3" fill="#999999"/>
<circle cx="854.65" cy="397.08" r="2.3" fill="#999999"/>
<circle cx="857.37" cy="397.41" r="2.3" fill="#999999"/>
<circle cx="833.56" cy="397.8" r="2.3" fill="#999999"/>
<circle cx="858.64" cy="397.8" r="2.3" fill="#999999"/>
<circle cx="833.13" cy="395.66" r="2.3" fill="#999999"/>
<circle cx="835.29" cy="394.6" r="2.3" fill="#999999"/>
<circle cx="837.44" cy="394.84" r="2.3" fill="#999999"/>
<circle cx="840.98" cy="395.29" r="2.3" fill="#999999"/>
<circle cx="843.41" cy="396.03" r="2.3" fill="#999999"/>
<circle cx="845.4" cy="394.96" r="2.3" fill="#999999"/>
<circle cx="848.83" cy="394.64" r="2.3" fill="#999999"/>
<circle cx="850.39" cy="395.17" r="2.3" fill="#999999"/>
<circle cx="853.16" cy="395.17" r="2.3" fill="#999999"/>
<circle cx="855.95" cy="395.53" r="2.3" fill="#999999"/>
<circle cx="859.13" cy="394.93" r="2.3" fill="#999999"/>
<circle cx="833.09" cy="395.4" r="2.3" fill="#999999"/>
<circle cx="861.12" cy="395.4" r="2.3" fill="#999999"/>
<circle cx="831.88" cy="393.7" r="2.3" fill="#999999"/>
<circle cx="834.66" cy="392.44" r="2.3" fill="#999999"/>
<circle cx="837.02" cy="393.22" r="2.3" fill="#999999"/>
<circle cx="840.86" cy="393.45" r="2.3" fill="#999999"/>
<circle cx="842.71" cy="392.62" r="2.3" fill="#999999"/>
<circle cx="844.69" cy="393.23" r="2.3" fill="#999999"/>
<circle cx="848.17" cy="392.76" r="2.3" fill="#999999"/>
<circle cx="850.9" cy="392.91" r="2.3" fill="#999999"/>
<circle cx="853.97" cy="393.37" r="2.3" fill="#999999"/>
<circle cx="855.46" cy="393.65" r="2.3" fill="#999999"/>
<circle cx="857.74" cy="393.05" r="2.3" fill="#999999"/>
<circle cx="832.57" cy="393" r="2.3" fill="#999999"/>
<circle cx="860.44" cy="393" r="2.3" fill="#999999"/>
<circle cx="830.99" cy="391.05" r="2.3" fill="#999999"/>
<circle cx="833.52" cy="390.68" r="2.3" fill="#999999"/>
<circle cx="837.6" cy="390.03" r="2.3" fill="#999999"/>
<circle cx="839.02" cy="390.77" r="2.3" fill="#999999"/>
<circle cx="842.11" cy="390.83" r="2.3" fill="#999999"/>
<circle cx="845.2" cy="390.08" r="2.3" fill="#999999"/>
<circle cx="846.99" cy="390.28" r="2.3" fill="#999999"/>
<circle cx="849.18" cy="391.22" r="2.3" fill="#999999"/>
<circle cx="852.95" cy="390.94" r="2.3" fill="#999999"/>
<circle cx="854.31" cy="391.15" r="2.3" fill="#999999"/>
<circle cx="858.09" cy="390.54" r="2.3" fill="#999999"/>
<circle cx="860.69" cy="390.52" r="2.3" fill="#999999"/>
<circle cx="831.8" cy="390.6" r="2.3" fill="#999999"/>
<circle cx="860.27" cy="390.6" r="2.3" fill="#999999"/>
<circle cx="831.25" cy="387.46" r="2.3" fill="#999999"/>
<circle cx="834.02" cy="388.6" r="2.3" fill="#999999"/>
<circle cx="837.19" cy="388.75" r="2.3" fill="#999999"/>
<circle cx="839.82" cy="387.83" r="2.3" fill="#999999"/>
<circle cx="842.17" cy="388.1" r="2.3" fill="#999999"/>
<circle cx="845.14" cy="388.24" r="2.3" fill="#999999"/>
<circle cx="846.91" cy="388.43" r="2.3" fill="#999999"/>
<circle cx="850.63" cy="387.75" r="2.3" fill="#999999"/>
<circle cx="853.09" cy="387.42" r="2.3" fill="#999999"/>
<circle cx="854.7" cy="387.78" r="2.3" fill="#999999"/>
<circle cx="858.07" cy="388.91" r="2.3" fill="#999999"/>
<circle cx="831.78" cy="388.2" r="2.3" fill="#999999"/>
<circle cx="859.89" cy="388.2" r="2.3" fill="#999999"/>
<circle cx="834.23" cy="385.53" r="2.3" fill="#999999"/>
<circle cx="835.81" cy="386.45" r="2.3" fill="#999999"/>
<circle cx="839.04" cy="386.11" r="2.3" fill="#999999"/>
<circle cx="841.69" cy="386.57" r="2.3" fill="#999999"/>
<circle cx="843.98" cy="386.34" r="2.3" fill="#999999"/>
<circle cx="846.94" cy="386.37" r="2.3" fill="#999999"/>
<circle cx="849.13" cy="386.16" r="2.3" fill="#999999"/>
<circle cx="851.94" cy="385.49" r="2.3" fill="#999999"/>
<circle cx="853.97" cy="386" r="2.3" fill="#999999"/>
<circle cx="856.35" cy="386.46" r="2.3" fill="#999999"/>
<circle cx="859.06" cy="385.04" r="2.3" fill="#999999"/>
<circle cx="833.73" cy="385.8" r="2.3" fill="#999999"/>
<circle cx="860.52" cy="385.8" r="2.3" fill="#999999"/>
<circle cx="884.8" cy="450.09" r="2.3" fill="#999999"/>
<circle cx="895.52" cy="448.13" r="2.3" fill="#999999"/>
<circle cx="881.29" cy="447.56" r="2.3" fill="#999999"/>
<circle cx="911.17" cy="449.14" r="2.3" fill="#999999"/>
<circle cx="911.37" cy="449.29" r="2.3" fill="#999999"/>
<circle cx="882.96" cy="449.16" r="2.3" fill="#999999"/>
<circle cx="896.35" cy="449.62" r="2.3" fill="#999999"/>
<circle cx="916.88" cy="449.41" r="2.3" fill="#999999"/>
<circle cx="882.97" cy="449.95" r="2.3" fill="#999999"/>
<circle cx="921.15" cy="449.39" r="2.3" fill="#999999"/>
<circle cx="884.82" cy="448.1" r="2.3" fill="#999999"/>
<circle cx="885.04" cy="447.63" r="2.3" fill="#999999"/>
<circle cx="918.15" cy="449.3" r="2.3" fill="#999999"/>
<circle cx="908.54" cy="449.46" r="2.3" fill="#999999"/>
<circle cx="908.42" cy="448.61" r="2.3" fill="#999999"/>
<circle cx="884.49" cy="447.79" r="2.3" fill="#999999"/>
<circle cx="914.08" cy="448.57" r="2.3" fill="#999999"/>
<circle cx="894.36" cy="448.75" r="2.3" fill="#999999"/>
<circle cx="880.94" cy="448.18" r="2.3" fill="#999999"/>
<circle cx="892.72" cy="449.43" r="2.3" fill="#999999"/>
<circle cx="896.56" cy="448.54" r="2.3" fill="#999999"/>
<circle cx="923.38" cy="448.98" r="2.3" fill="#999999"/>
<circle cx="918.31" cy="449.09" r="2.3" fill="#999999"/>
<circle cx="881.39" cy="448.65" r="2.3" fill="#999999"/>
<circle cx="899.64" cy="449.48" r="2.3" fill="#999999"/>
<circle cx="895.61" cy="449.38" r="2.3" fill="#999999"/>
<circle cx="904.2" cy="448.43" r="2.3" fill="#999999"/>
<circle cx="918.8" cy="448.53" r="2.3" fill="#999999"/>
<circle cx="916.89" cy="448.58" r="2.3" fill="#999999"/>
<circle cx="880.06" cy="448.01" r="2.3" fill="#999999"/>
<circle cx="914.3" cy="449.57" r="2.3" fill="#999999"/>
<circle cx="880.2" cy="448.87" r="2.3" fill="#999999"/>
<circle cx="902.12" cy="449.5" r="2.3" fill="#999999"/>
<circle cx="888.3" cy="448.9" r="2.3" fill="#999999"/>
<circle cx="895.62" cy="449.66" r="2.3" fill="#999999"/>
<circle cx="891.73" cy="449.99" r="2.3" fill="#999999"/>
<circle cx="892.77" cy="448.25" r="2.3" fill="#999999"/>
<circle cx="911.48" cy="448.95" r="2.3" fill="#999999"/>
<circle cx="884.95" cy="449.28" r="2.3" fill="#999999"/>
<circle cx="883.64" cy="449.72" r="2.3" fill="#999999"/>
<circle cx="911.37" cy="449.36" r="2.3" fill="#999999"/>
<circle cx="908.26" cy="448.72" r="2.3" fill="#999999"/>
<circle cx="898.06" cy="448.71" r="2.3" fill="#999999"/>
<circle cx="920.07" cy="448.55" r="2.3" fill="#999999"/>
<circle cx="919.98" cy="448.49" r="2.3" fill="#999999"/>
<circle cx="889.28" cy="448.31" r="2.3" fill="#999999"/>
<circle cx="920.55" cy="448.97" r="2.3" fill="#999999"/>
<circle cx="897.07" cy="449.75" r="2.3" fill="#999999"/>
<circle cx="890.51" cy="448.82" r="2.3" fill="#999999"/>
<circle cx="903.92" cy="449.4" r="2.3" fill="#999999"/>
<circle cx="913.88" cy="449.15" r="2.3" fill="#999999"/>
<circle cx="895.68" cy="448.54" r="2.3" fill="#999999"/>
<circle cx="886.99" cy="449.82" r="2.3" fill="#999999"/>
<circle cx="909.79" cy="449.32" r="2.3" fill="#999999"/>
<circle cx="887.63" cy="448.75" r="2.3" fill="#999999"/>
<circle cx="914.8" cy="449.06" r="2.3" fill="#999999"/>
<circle cx="885.67" cy="448.81" r="2.3" fill="#999999"/>
<circle cx="919.83" cy="448.7" r="2.3" fill="#999999"/>
<circle cx="888.62" cy="448.4" r="2.3" fill="#999999"/>
<circle cx="911.64" cy="449.44" r="2.3" fill="#999999"/>
<circle cx="886.96" cy="448" r="2.3" fill="#999999"/>
<circle cx="891.14" cy="448.49" r="2.3" fill="#999999"/>
<circle cx="903.5" cy="448.32" r="2.3" fill="#999999"/>
<circle cx="894.76" cy="448.22" r="2.3" fill="#999999"/>
<circle cx="923.88" cy="449.16" r="2.3" fill="#999999"/>
<circle cx="884.58" cy="450.19" r="2.3" fill="#999999"/>
<circle cx="884.57" cy="448.59" r="2.3" fill="#999999"/>
<circle cx="924.27" cy="449.21" r="2.3" fill="#999999"/>
<circle cx="913" cy="448.87" r="2.3" fill="#999999"/>
<circle cx="888.83" cy="449.27" r="2.3" fill="#999999"/>
<circle cx="802.35" cy="447.55" r="1.9" fill="#999999"/>
<circle cx="808.54" cy="447.17" r="1.9" fill="#999999"/>
<circle cx="808.78" cy="448.84" r="1.9" fill="#999999"/>
<circle cx="815.26" cy="448.2" r="1.9" fill="#999999"/>
<circle cx="813.91" cy="448.12" r="1.9" fill="#999999"/>
<circle cx="803.12" cy="448.43" r="1.9" fill="#999999"/>
<circle cx="808.9" cy="448.73" r="1.9" fill="#999999"/>
<circle cx="819.98" cy="448.05" r="1.9" fill="#999999"/>
<circle cx="812.63" cy="448.75" r="1.9" fill="#999999"/>
<circle cx="809.27" cy="447.6" r="1.9" fill="#999999"/>
<circle cx="815.89" cy="449.04" r="1.9" fill="#999999"/>
<circle cx="817.03" cy="448.64" r="1.9" fill="#999999"/>
<circle cx="818.75" cy="448.6" r="1.9" fill="#999999"/>
<circle cx="814.11" cy="448.1" r="1.9" fill="#999999"/>
<circle cx="806.89" cy="448.48" r="1.9" fill="#999999"/>
<circle cx="802.15" cy="448.02" r="1.9" fill="#999999"/>
<circle cx="817.21" cy="448.67" r="1.9" fill="#999999"/>
<circle cx="813.85" cy="447.65" r="1.9" fill="#999999"/>
<circle cx="809.32" cy="448.1" r="1.9" fill="#999999"/>
<circle cx="813.67" cy="448" r="1.9" fill="#999999"/>
<circle cx="814.86" cy="449.15" r="1.9" fill="#999999"/>
<circle cx="804.03" cy="448.54" r="1.9" fill="#999999"/>
<circle cx="817.12" cy="447.96" r="1.9" fill="#999999"/>
<circle cx="810.78" cy="449.24" r="1.9" fill="#999999"/>
<circle cx="800.84" cy="448.3" r="1.9" fill="#999999"/>
<circle cx="803.54" cy="448.82" r="1.9" fill="#999999"/>
<circle cx="820.69" cy="448.24" r="1.9" fill="#999999"/>
<circle cx="802.22" cy="448.36" r="1.9" fill="#999999"/>
<circle cx="811.9" cy="448.68" r="1.9" fill="#999999"/>
<circle cx="811.27" cy="448.51" r="1.9" fill="#999999"/>
<circle cx="932" cy="449.3" r="2.4" fill="#999999"/>
<circle cx="945.6" cy="449.3" r="2.4" fill="#999999"/>
<circle cx="947.6" cy="449.3" r="2.4" fill="#999999"/>
<circle cx="867" cy="396.3" r="2.3" fill="#999999"/>
<circle cx="867.5" cy="399.3" r="2.3" fill="#999999"/>
<circle cx="876" cy="420.7" r="2.3" fill="#999999"/>
<circle cx="873" cy="417" r="2.3" fill="#999999"/>
<circle cx="877.2" cy="433.8" r="2.3" fill="#999999"/>
<circle cx="874.5" cy="432" r="2.3" fill="#999999"/>
<circle cx="887" cy="438.3" r="2.4" fill="#999999"/>
<circle cx="881.4" cy="442.1" r="2.3" fill="#999999"/>
<circle cx="870" cy="410" r="2.3" fill="#999999"/>
<circle cx="872" cy="425" r="2.3" fill="#999999"/>
<circle cx="793.9" cy="392.7" r="1.8" fill="#999999"/>
<circle cx="808.2" cy="401.6" r="1.8" fill="#999999"/>
<circle cx="807" cy="412.7" r="1.8" fill="#999999"/>
<circle cx="821.9" cy="412" r="1.8" fill="#999999"/>
<circle cx="818.3" cy="419.9" r="1.9" fill="#999999"/>
<circle cx="825.8" cy="421.3" r="1.8" fill="#999999"/>
<circle cx="807.4" cy="424.9" r="1.8" fill="#999999"/>
<circle cx="792.4" cy="429.3" r="1.8" fill="#999999"/>
<circle cx="796.5" cy="429.3" r="1.8" fill="#999999"/>
<circle cx="789.5" cy="433.2" r="1.8" fill="#999999"/>
<circle cx="800.8" cy="434.6" r="1.8" fill="#999999"/>
<circle cx="805.2" cy="437.6" r="1.8" fill="#999999"/>
<circle cx="808.8" cy="437.6" r="1.8" fill="#999999"/>
<circle cx="813.6" cy="438.8" r="1.8" fill="#999999"/>
<circle cx="801.9" cy="441.3" r="1.8" fill="#999999"/>
<circle cx="798" cy="444.5" r="1.8" fill="#999999"/>
<circle cx="768.6" cy="445.3" r="1.8" fill="#999999"/>
<circle cx="779" cy="448" r="1.8" fill="#999999"/>
<circle cx="782" cy="448" r="1.8" fill="#999999"/>
<circle cx="789.75" cy="447.7" r="1.8" fill="#999999"/>
<circle cx="793.3" cy="448.3" r="1.8" fill="#999999"/>
<circle cx="798.7" cy="448.7" r="1.8" fill="#999999"/>
<circle cx="574.3" cy="447.7" r="1.8" fill="#999999"/>
<circle cx="627.1" cy="448.3" r="1.8" fill="#999999"/>
<circle cx="768.6" cy="445.7" r="1.8" fill="#999999"/>
<circle cx="778.6" cy="447.7" r="1.8" fill="#999999"/>
<circle cx="781.4" cy="447.7" r="1.8" fill="#999999"/>
<circle cx="786" cy="447.7" r="1.8" fill="#999999"/>
<circle cx="790" cy="447.7" r="1.8" fill="#999999"/>
<circle cx="789.1" cy="432.9" r="1.8" fill="#999999"/>
<circle cx="793" cy="429.4" r="1.8" fill="#999999"/>
<circle cx="796.6" cy="429.4" r="1.8" fill="#999999"/>
<circle cx="793.7" cy="392.9" r="1.8" fill="#999999"/>
<circle cx="807.1" cy="350.6" r="1.8" fill="#999999"/>
<circle cx="808" cy="402" r="1.8" fill="#999999"/>
<circle cx="807.1" cy="412.9" r="1.8" fill="#999999"/>
<circle cx="807.1" cy="424.3" r="1.8" fill="#999999"/>
<circle cx="821.4" cy="359.4" r="1.8" fill="#999999"/>
<circle cx="816.3" cy="367.7" r="1.8" fill="#999999"/>
<circle cx="820" cy="375.7" r="1.8" fill="#999999"/>
<circle cx="826.3" cy="367.7" r="1.8" fill="#999999"/>
<circle cx="825.1" cy="352.3" r="1.8" fill="#999999"/>
<circle cx="818" cy="380" r="1.9" fill="#999999"/>
<circle cx="824" cy="381" r="2" fill="#999999"/>
<circle cx="829" cy="378" r="2" fill="#999999"/>
<circle cx="822" cy="372" r="1.8" fill="#999999"/>
<circle cx="813" cy="358" r="1.8" fill="#999999"/>
<circle cx="827" cy="362" r="1.8" fill="#999999"/>
<circle cx="829" cy="371" r="1.8" fill="#999999"/>
<circle cx="831" cy="381" r="2.1" fill="#999999"/>
<circle cx="837.5" cy="84.3" r="2.5" fill="#4169e1"/>
<circle cx="836" cy="135" r="2.5" fill="#4169e1"/>
<circle cx="840.2" cy="164.8" r="2.5" fill="#4169e1"/>
<circle cx="842.5" cy="168.6" r="2.5" fill="#4169e1"/>
<circle cx="830.8" cy="183.2" r="2.5" fill="#4169e1"/>
<circle cx="833.2" cy="184.5" r="2.5" fill="#4169e1"/>
<circle cx="822.3" cy="193" r="2.5" fill="#4169e1"/>
<circle cx="832.5" cy="196" r="2.5" fill="#4169e1"/>
<circle cx="846.2" cy="187.5" r="2.5" fill="#4169e1"/>
<circle cx="846.2" cy="190.5" r="2.5" fill="#4169e1"/>
<circle cx="846.2" cy="193.5" r="2.5" fill="#4169e1"/>
<circle cx="846" cy="196.5" r="2.5" fill="#4169e1"/>
<circle cx="845.8" cy="199.5" r="2.5" fill="#4169e1"/>
<circle cx="845.6" cy="201" r="2.5" fill="#4169e1"/>
<circle cx="837.9" cy="213.2" r="2.5" fill="#4169e1"/>
<circle cx="833.2" cy="220.8" r="2.5" fill="#4169e1"/>
<circle cx="830.7" cy="229.3" r="2.5" fill="#4169e1"/>
<circle cx="835.7" cy="229.6" r="2.5" fill="#4169e1"/>
<circle cx="840.7" cy="232.6" r="2.5" fill="#4169e1"/>
<circle cx="835.9" cy="237" r="2.5" fill="#4169e1"/>
<circle cx="840.7" cy="240.3" r="2.5" fill="#4169e1"/>
<circle cx="833.7" cy="245.7" r="2.5" fill="#4169e1"/>
<circle cx="838.7" cy="245.2" r="2.5" fill="#4169e1"/>
<circle cx="842.7" cy="245.2" r="2.5" fill="#4169e1"/>
<circle cx="837.2" cy="251.7" r="2.5" fill="#4169e1"/>
<circle cx="847.2" cy="247.2" r="2.5" fill="#4169e1"/>
<circle cx="837.2" cy="241" r="2.5" fill="#4169e1"/>
<circle cx="837.2" cy="261.2" r="2.5" fill="#4169e1"/>
<circle cx="840.2" cy="262.5" r="2.5" fill="#4169e1"/>
<circle cx="845.2" cy="259.5" r="2.5" fill="#4169e1"/>
<circle cx="845.5" cy="266.9" r="2.5" fill="#4169e1"/>
<circle cx="845.7" cy="272.1" r="2.5" fill="#4169e1"/>
<circle cx="833.2" cy="273.6" r="2.5" fill="#4169e1"/>
<circle cx="830.2" cy="276.6" r="2.5" fill="#4169e1"/>
<circle cx="834.7" cy="277.6" r="2.5" fill="#4169e1"/>
<circle cx="837.7" cy="279.6" r="2.5" fill="#4169e1"/>
<circle cx="844.2" cy="282.1" r="2.5" fill="#4169e1"/>
<circle cx="824.7" cy="285.1" r="2.5" fill="#4169e1"/>
<circle cx="823.2" cy="287.6" r="2.5" fill="#4169e1"/>
<circle cx="830.2" cy="284.1" r="2.5" fill="#4169e1"/>
<circle cx="832.5" cy="282" r="2.5" fill="#4169e1"/>
<circle cx="835" cy="280" r="2.5" fill="#4169e1"/>
<circle cx="839.7" cy="290.6" r="2.5" fill="#4169e1"/>
<circle cx="843.7" cy="292.1" r="2.5" fill="#4169e1"/>
<circle cx="847.7" cy="294.5" r="2.5" fill="#4169e1"/>
<circle cx="834.2" cy="294" r="2.5" fill="#4169e1"/>
<circle cx="831.7" cy="297.5" r="2.5" fill="#4169e1"/>
<circle cx="838.2" cy="299.5" r="2.5" fill="#4169e1"/>
<circle cx="843.7" cy="303" r="2.5" fill="#4169e1"/>
<circle cx="833.2" cy="306" r="2.5" fill="#4169e1"/>
<circle cx="837.2" cy="307.5" r="2.5" fill="#4169e1"/>
<circle cx="839.7" cy="309.5" r="2.5" fill="#4169e1"/>
<circle cx="843.7" cy="312.5" r="2.5" fill="#4169e1"/>
<circle cx="835.7" cy="315" r="2.5" fill="#4169e1"/>
<circle cx="820.3" cy="321.4" r="2.5" fill="#4169e1"/>
<circle cx="831.2" cy="324" r="2.5" fill="#4169e1"/>
<circle cx="824.7" cy="332.9" r="2.5" fill="#4169e1"/>
<circle cx="833.7" cy="331.9" r="2.5" fill="#4169e1"/>
<circle cx="826.7" cy="343.8" r="2.5" fill="#4169e1"/>
<circle cx="833.7" cy="348.3" r="2.5" fill="#4169e1"/>
<circle cx="832.2" cy="359.8" r="2.5" fill="#4169e1"/>
<circle cx="834.2" cy="367.2" r="2.5" fill="#4169e1"/>
<circle cx="835.7" cy="374.2" r="2.5" fill="#4169e1"/>
<circle cx="815.3" cy="383.2" r="2.5" fill="#4169e1"/>
<circle cx="833.2" cy="383.2" r="2.5" fill="#4169e1"/>
<circle cx="829" cy="381" r="2.5" fill="#4169e1"/>
<circle cx="831" cy="352" r="2.5" fill="#4169e1"/>
<circle cx="829" cy="338" r="2.5" fill="#4169e1"/>
<circle cx="836" cy="356" r="2.5" fill="#4169e1"/>
<circle cx="834" cy="300" r="2.5" fill="#4169e1"/>
<circle cx="829" cy="290" r="2.5" fill="#4169e1"/>
<circle cx="841" cy="287" r="2.5" fill="#4169e1"/>
<circle cx="846" cy="283" r="2.5" fill="#4169e1"/>
<circle cx="842" cy="270" r="2.5" fill="#4169e1"/>
<circle cx="839" cy="275" r="2.5" fill="#4169e1"/>
<circle cx="846" cy="305" r="2.5" fill="#4169e1"/>
<circle cx="842" cy="318" r="2.5" fill="#4169e1"/>
<circle cx="846" cy="322" r="2.5" fill="#4169e1"/>
<circle cx="839.05" cy="382.9" r="2.5" fill="#4169e1"/>
<circle cx="842.3" cy="381.78" r="2.5" fill="#4169e1"/>
<circle cx="843.88" cy="382.97" r="2.5" fill="#4169e1"/>
<circle cx="846.44" cy="381.55" r="2.5" fill="#4169e1"/>
<circle cx="847.22" cy="382" r="2.5" fill="#4169e1"/>
<circle cx="835.4" cy="379.8" r="2.5" fill="#4169e1"/>
<circle cx="837.79" cy="378.85" r="2.5" fill="#4169e1"/>
<circle cx="841.84" cy="379.45" r="2.5" fill="#4169e1"/>
<circle cx="844.26" cy="379.18" r="2.5" fill="#4169e1"/>
<circle cx="845.62" cy="379.95" r="2.5" fill="#4169e1"/>
<circle cx="847.55" cy="379.4" r="2.5" fill="#4169e1"/>
<circle cx="838.48" cy="376.25" r="2.5" fill="#4169e1"/>
<circle cx="840.76" cy="377.08" r="2.5" fill="#4169e1"/>
<circle cx="844.39" cy="376.74" r="2.5" fill="#4169e1"/>
<circle cx="846.55" cy="376.05" r="2.5" fill="#4169e1"/>
<circle cx="847.57" cy="376.8" r="2.5" fill="#4169e1"/>
<circle cx="836.63" cy="373.95" r="2.5" fill="#4169e1"/>
<circle cx="839.65" cy="373.57" r="2.5" fill="#4169e1"/>
<circle cx="844.76" cy="373.69" r="2.5" fill="#4169e1"/>
<circle cx="847.86" cy="374.06" r="2.5" fill="#4169e1"/>
<circle cx="847.41" cy="374.2" r="2.5" fill="#4169e1"/>
<circle cx="839.32" cy="372.31" r="2.5" fill="#4169e1"/>
<circle cx="844.68" cy="372.17" r="2.5" fill="#4169e1"/>
<circle cx="847.23" cy="371.87" r="2.5" fill="#4169e1"/>
<circle cx="846.91" cy="371.6" r="2.5" fill="#4169e1"/>
<circle cx="835.86" cy="368.5" r="2.5" fill="#4169e1"/>
<circle cx="840.42" cy="369.55" r="2.5" fill="#4169e1"/>
<circle cx="842.96" cy="369.81" r="2.5" fill="#4169e1"/>
<circle cx="845.69" cy="369.78" r="2.5" fill="#4169e1"/>
<circle cx="847.39" cy="369" r="2.5" fill="#4169e1"/>
<circle cx="839.8" cy="366.98" r="2.5" fill="#4169e1"/>
<circle cx="841.11" cy="366.79" r="2.5" fill="#4169e1"/>
<circle cx="844.9" cy="366.28" r="2.5" fill="#4169e1"/>
<circle cx="847.23" cy="365.93" r="2.5" fill="#4169e1"/>
<circle cx="847.09" cy="366.4" r="2.5" fill="#4169e1"/>
<circle cx="835.24" cy="363.73" r="2.5" fill="#4169e1"/>
<circle cx="838.81" cy="363.8" r="2.5" fill="#4169e1"/>
<circle cx="842.25" cy="362.81" r="2.5" fill="#4169e1"/>
<circle cx="844.16" cy="363.93" r="2.5" fill="#4169e1"/>
<circle cx="847.61" cy="363.55" r="2.5" fill="#4169e1"/>
<circle cx="847.24" cy="363.8" r="2.5" fill="#4169e1"/>
<circle cx="842.8" cy="360.26" r="2.5" fill="#4169e1"/>
<circle cx="845.59" cy="362.06" r="2.5" fill="#4169e1"/>
<circle cx="848.89" cy="361.22" r="2.5" fill="#4169e1"/>
<circle cx="847.29" cy="361.2" r="2.5" fill="#4169e1"/>
<circle cx="842.49" cy="358.28" r="2.5" fill="#4169e1"/>
<circle cx="844.67" cy="358.55" r="2.5" fill="#4169e1"/>
<circle cx="848.18" cy="358.02" r="2.5" fill="#4169e1"/>
<circle cx="847.25" cy="358.6" r="2.5" fill="#4169e1"/>
<circle cx="838.05" cy="355.59" r="2.5" fill="#4169e1"/>
<circle cx="839.91" cy="356.01" r="2.5" fill="#4169e1"/>
<circle cx="842.81" cy="356.95" r="2.5" fill="#4169e1"/>
<circle cx="846.08" cy="355.66" r="2.5" fill="#4169e1"/>
<circle cx="847.15" cy="356" r="2.5" fill="#4169e1"/>
<circle cx="837.12" cy="353.97" r="2.5" fill="#4169e1"/>
<circle cx="843.02" cy="353.49" r="2.5" fill="#4169e1"/>
<circle cx="846.66" cy="352.78" r="2.5" fill="#4169e1"/>
<circle cx="847.64" cy="353.4" r="2.5" fill="#4169e1"/>
<circle cx="838.82" cy="351.62" r="2.5" fill="#4169e1"/>
<circle cx="841.17" cy="351.05" r="2.5" fill="#4169e1"/>
<circle cx="843.83" cy="351.16" r="2.5" fill="#4169e1"/>
<circle cx="846.67" cy="350.72" r="2.5" fill="#4169e1"/>
<circle cx="847.51" cy="350.8" r="2.5" fill="#4169e1"/>
<circle cx="835.03" cy="348.75" r="2.5" fill="#4169e1"/>
<circle cx="838.97" cy="347.94" r="2.5" fill="#4169e1"/>
<circle cx="841.93" cy="348.32" r="2.5" fill="#4169e1"/>
<circle cx="843.66" cy="348.04" r="2.5" fill="#4169e1"/>
<circle cx="846.62" cy="348.48" r="2.5" fill="#4169e1"/>
<circle cx="847.65" cy="348.2" r="2.5" fill="#4169e1"/>
<circle cx="834.82" cy="344.84" r="2.5" fill="#4169e1"/>
<circle cx="838.6" cy="346.44" r="2.5" fill="#4169e1"/>
<circle cx="840.17" cy="345.37" r="2.5" fill="#4169e1"/>
<circle cx="844.72" cy="346.56" r="2.5" fill="#4169e1"/>
<circle cx="846.37" cy="344.8" r="2.5" fill="#4169e1"/>
<circle cx="847.42" cy="345.6" r="2.5" fill="#4169e1"/>
<circle cx="835.49" cy="342.01" r="2.5" fill="#4169e1"/>
<circle cx="838.4" cy="343.93" r="2.5" fill="#4169e1"/>
<circle cx="843.81" cy="342.04" r="2.5" fill="#4169e1"/>
<circle cx="846.74" cy="343.47" r="2.5" fill="#4169e1"/>
<circle cx="847.05" cy="343" r="2.5" fill="#4169e1"/>
<circle cx="836.15" cy="341.11" r="2.5" fill="#4169e1"/>
<circle cx="837.59" cy="340.66" r="2.5" fill="#4169e1"/>
<circle cx="841.05" cy="341.26" r="2.5" fill="#4169e1"/>
<circle cx="844.75" cy="340.83" r="2.5" fill="#4169e1"/>
<circle cx="846.91" cy="340.4" r="2.5" fill="#4169e1"/>
<circle cx="837.59" cy="337.42" r="2.5" fill="#4169e1"/>
<circle cx="840.46" cy="338.52" r="2.5" fill="#4169e1"/>
<circle cx="842.95" cy="337.54" r="2.5" fill="#4169e1"/>
<circle cx="846.41" cy="338.15" r="2.5" fill="#4169e1"/>
<circle cx="847.02" cy="337.8" r="2.5" fill="#4169e1"/>
<circle cx="839.38" cy="335.46" r="2.5" fill="#4169e1"/>
<circle cx="841.56" cy="335.77" r="2.5" fill="#4169e1"/>
<circle cx="845.06" cy="335.33" r="2.5" fill="#4169e1"/>
<circle cx="846.31" cy="336.15" r="2.5" fill="#4169e1"/>
<circle cx="847.46" cy="335.2" r="2.5" fill="#4169e1"/>
<circle cx="839.43" cy="333.55" r="2.5" fill="#4169e1"/>
<circle cx="842.13" cy="332.22" r="2.5" fill="#4169e1"/>
<circle cx="845.4" cy="332.35" r="2.5" fill="#4169e1"/>
<circle cx="847.53" cy="333.39" r="2.5" fill="#4169e1"/>
<circle cx="847.55" cy="332.6" r="2.5" fill="#4169e1"/>
<circle cx="840.82" cy="330.17" r="2.5" fill="#4169e1"/>
<circle cx="844.45" cy="329.08" r="2.5" fill="#4169e1"/>
<circle cx="847" cy="330.73" r="2.5" fill="#4169e1"/>
<circle cx="847.36" cy="330" r="2.5" fill="#4169e1"/>
<circle cx="838.85" cy="327.77" r="2.5" fill="#4169e1"/>
<circle cx="840.63" cy="326.57" r="2.5" fill="#4169e1"/>
<circle cx="844.23" cy="326.8" r="2.5" fill="#4169e1"/>
<circle cx="847.2" cy="326.87" r="2.5" fill="#4169e1"/>
<circle cx="847.39" cy="327.4" r="2.5" fill="#4169e1"/>
<circle cx="839.46" cy="324.31" r="2.5" fill="#4169e1"/>
<circle cx="843.33" cy="324.72" r="2.5" fill="#4169e1"/>
<circle cx="848.69" cy="324.27" r="2.5" fill="#4169e1"/>
<circle cx="847.36" cy="324.8" r="2.5" fill="#4169e1"/>
<circle cx="841.08" cy="322.15" r="2.5" fill="#4169e1"/>
<circle cx="843.11" cy="321.58" r="2.5" fill="#4169e1"/>
<circle cx="846.84" cy="321.93" r="2.5" fill="#4169e1"/>
<circle cx="847.35" cy="322.2" r="2.5" fill="#4169e1"/>
<circle cx="838.11" cy="318.69" r="2.5" fill="#4169e1"/>
<circle cx="841.26" cy="318.81" r="2.5" fill="#4169e1"/>
<circle cx="844.79" cy="318.91" r="2.5" fill="#4169e1"/>
<circle cx="846.6" cy="319.64" r="2.5" fill="#4169e1"/>
<circle cx="846.92" cy="319.6" r="2.5" fill="#4169e1"/>
<circle cx="839.4" cy="316.97" r="2.5" fill="#4169e1"/>
<circle cx="840.89" cy="317.56" r="2.5" fill="#4169e1"/>
<circle cx="844.96" cy="317.53" r="2.5" fill="#4169e1"/>
<circle cx="847.69" cy="316.51" r="2.5" fill="#4169e1"/>
<circle cx="846.93" cy="317" r="2.5" fill="#4169e1"/>
<circle cx="838.67" cy="313.5" r="2.5" fill="#4169e1"/>
<circle cx="842.95" cy="314.32" r="2.5" fill="#4169e1"/>
<circle cx="845.72" cy="313.53" r="2.5" fill="#4169e1"/>
<circle cx="847.4" cy="313.64" r="2.5" fill="#4169e1"/>
<circle cx="847.67" cy="314.4" r="2.5" fill="#4169e1"/>
<circle cx="840.07" cy="312.71" r="2.5" fill="#4169e1"/>
<circle cx="842.27" cy="311.7" r="2.5" fill="#4169e1"/>
<circle cx="846.12" cy="312.78" r="2.5" fill="#4169e1"/>
<circle cx="846.96" cy="311.31" r="2.5" fill="#4169e1"/>
<circle cx="847.18" cy="311.8" r="2.5" fill="#4169e1"/>
<circle cx="843.69" cy="308.29" r="2.5" fill="#4169e1"/>
<circle cx="846.13" cy="309.49" r="2.5" fill="#4169e1"/>
<circle cx="847.69" cy="309.2" r="2.5" fill="#4169e1"/>
<circle cx="839.29" cy="307.48" r="2.5" fill="#4169e1"/>
<circle cx="841.08" cy="306.78" r="2.5" fill="#4169e1"/>
<circle cx="843.39" cy="306.25" r="2.5" fill="#4169e1"/>
<circle cx="846.13" cy="306.56" r="2.5" fill="#4169e1"/>
<circle cx="847.03" cy="306.6" r="2.5" fill="#4169e1"/>
<circle cx="859.6" cy="290.8" r="2.5" fill="#ee0000"/>
<circle cx="856.4" cy="301" r="2.5" fill="#ee0000"/>
<circle cx="859.4" cy="312.3" r="2.5" fill="#ee0000"/>
<circle cx="855.5" cy="316.5" r="2.5" fill="#ee0000"/>
<circle cx="856" cy="320" r="2.5" fill="#ee0000"/>
<circle cx="858.5" cy="324.5" r="2.5" fill="#ee0000"/>
<circle cx="860.5" cy="327" r="2.5" fill="#ee0000"/>
<circle cx="857.5" cy="331" r="2.5" fill="#ee0000"/>
<circle cx="859.5" cy="335" r="2.5" fill="#ee0000"/>
<circle cx="856.5" cy="338" r="2.5" fill="#ee0000"/>
<circle cx="861" cy="341" r="2.5" fill="#ee0000"/>
<circle cx="858" cy="344" r="2.5" fill="#ee0000"/>
<circle cx="862" cy="347" r="2.5" fill="#ee0000"/>
<circle cx="857" cy="350" r="2.5" fill="#ee0000"/>
<circle cx="859.5" cy="353" r="2.5" fill="#ee0000"/>
<circle cx="856" cy="356" r="2.5" fill="#ee0000"/>
<circle cx="860.5" cy="359" r="2.5" fill="#ee0000"/>
<circle cx="857" cy="362.5" r="2.5" fill="#ee0000"/>
<circle cx="859.5" cy="366" r="2.5" fill="#ee0000"/>
<circle cx="856" cy="369" r="2.5" fill="#ee0000"/>
<circle cx="861" cy="372" r="2.5" fill="#ee0000"/>
<circle cx="864.1" cy="375.7" r="2.5" fill="#ee0000"/>
<circle cx="857.5" cy="375" r="2.5" fill="#ee0000"/>
<circle cx="855.5" cy="379" r="2.5" fill="#ee0000"/>
<circle cx="859" cy="381" r="2.5" fill="#ee0000"/>
<circle cx="862" cy="382.5" r="2.5" fill="#ee0000"/>
<circle cx="856" cy="383" r="2.5" fill="#ee0000"/>
<circle cx="855.5" cy="346" r="2.5" fill="#ee0000"/>
<circle cx="855.5" cy="362" r="2.5" fill="#ee0000"/>
<circle cx="861.5" cy="330" r="2.5" fill="#ee0000"/>
<circle cx="862" cy="356" r="2.5" fill="#ee0000"/>
<circle cx="858" cy="308" r="2.5" fill="#ee0000"/>
<line x1="850" y1="64.2" x2="850" y2="507" stroke="#7a7a7a" stroke-width="1.1" stroke-dasharray="3.2,3.2"/>
<line x1="556" y1="383.3" x2="965.6" y2="383.3" stroke="#8c8c8c" stroke-width="1.1" stroke-dasharray="3.2,3.2"/>
<line x1="835.3" y1="86.5" x2="832.3" y2="89.8" stroke="#4169e1" stroke-width="1"/>
<line x1="837.8" y1="132.6" x2="840.6" y2="129.6" stroke="#4169e1" stroke-width="1"/>
<line x1="842" y1="162.5" x2="846.5" y2="157.8" stroke="#4169e1" stroke-width="1"/>
<line x1="841" y1="170.5" x2="838" y2="174" stroke="#4169e1" stroke-width="1"/>
<line x1="834.8" y1="186.5" x2="837.3" y2="189.5" stroke="#4169e1" stroke-width="1"/>
<text x="768" y="99.6" font-size="10.4" fill="#4169e1" font-family="Liberation Sans, Arial, sans-serif">N-Decanoyl p-Nitroaniline</text>
<text x="749.7" y="128.4" font-size="10.4" fill="#4169e1" font-family="Liberation Sans, Arial, sans-serif">trans-4-Aminocyclohexanecarboxylic acid</text>
<text x="827" y="157.1" font-size="10.4" fill="#4169e1" font-family="Liberation Sans, Arial, sans-serif">Glutaric acid</text>
<text x="570.4" y="178.1" font-size="10.4" fill="#4169e1" font-family="Liberation Sans, Arial, sans-serif">PI(18:3(6Z,9Z,12Z)/22:6(5Z,7Z,10Z,13Z,16Z,19Z)-OH(4))</text>
<text x="762.6" y="199.1" font-size="10.4" fill="#4169e1" font-family="Liberation Sans, Arial, sans-serif">Cyclo(glycylleucylvalylleucylprolylseryl)</text>
<rect x="556" y="64.2" width="409.6" height="442.8" fill="none" stroke="#333333" stroke-width="1.2"/>
<line x1="553" y1="487.4" x2="556" y2="487.4" stroke="#333333" stroke-width="1"/>
<text x="551" y="490.4" font-size="8.4" text-anchor="end" fill="#4d4d4d" font-family="Liberation Sans, Arial, sans-serif">0</text>
<line x1="553" y1="407.4" x2="556" y2="407.4" stroke="#333333" stroke-width="1"/>
<text x="551" y="410.4" font-size="8.4" text-anchor="end" fill="#4d4d4d" font-family="Liberation Sans, Arial, sans-serif">1</text>
<line x1="553" y1="327.4" x2="556" y2="327.4" stroke="#333333" stroke-width="1"/>
<text x="551" y="330.4" font-size="8.4" text-anchor="end" fill="#4d4d4d" font-family="Liberation Sans, Arial, sans-serif">2</text>
<line x1="553" y1="247.4" x2="556" y2="247.4" stroke="#333333" stroke-width="1"/>
<text x="551" y="250.4" font-size="8.4" text-anchor="end" fill="#4d4d4d" font-family="Liberation Sans, Arial, sans-serif">3</text>
<line x1="553" y1="167.4" x2="556" y2="167.4" stroke="#333333" stroke-width="1"/>
<text x="551" y="170.4" font-size="8.4" text-anchor="end" fill="#4d4d4d" font-family="Liberation Sans, Arial, sans-serif">4</text>
<line x1="553" y1="87.4" x2="556" y2="87.4" stroke="#333333" stroke-width="1"/>
<text x="551" y="90.4" font-size="8.4" text-anchor="end" fill="#4d4d4d" font-family="Liberation Sans, Arial, sans-serif">5</text>
<line x1="616.9" y1="507" x2="616.9" y2="510" stroke="#333333" stroke-width="1"/>
<text x="616.9" y="519.1" font-size="8.4" text-anchor="middle" fill="#4d4d4d" font-family="Liberation Sans, Arial, sans-serif">-30</text>
<line x1="694.6" y1="507" x2="694.6" y2="510" stroke="#333333" stroke-width="1"/>
<text x="694.6" y="519.1" font-size="8.4" text-anchor="middle" fill="#4d4d4d" font-family="Liberation Sans, Arial, sans-serif">-20</text>
<line x1="772.3" y1="507" x2="772.3" y2="510" stroke="#333333" stroke-width="1"/>
<text x="772.3" y="519.1" font-size="8.4" text-anchor="middle" fill="#4d4d4d" font-family="Liberation Sans, Arial, sans-serif">-10</text>
<line x1="850" y1="507" x2="850" y2="510" stroke="#333333" stroke-width="1"/>
<text x="850" y="519.1" font-size="8.4" text-anchor="middle" fill="#4d4d4d" font-family="Liberation Sans, Arial, sans-serif">0</text>
<line x1="927.7" y1="507" x2="927.7" y2="510" stroke="#333333" stroke-width="1"/>
<text x="927.7" y="519.1" font-size="8.4" text-anchor="middle" fill="#4d4d4d" font-family="Liberation Sans, Arial, sans-serif">10</text>
<text x="760.3" y="531.4" font-size="10" text-anchor="middle" fill="#000" font-family="Liberation Sans, Arial, sans-serif">log2(Fold Change)</text>
<text x="541.2" y="285.6" font-size="10" text-anchor="middle" fill="#000" font-family="Liberation Sans, Arial, sans-serif" transform="rotate(-90 541.2 285.6)">-log10(P value)</text>
<text x="981.5" y="228.2" font-size="10.3" font-family="Liberation Sans, Arial, sans-serif">regulated</text>
<circle cx="989.75" cy="242.9" r="2.5" fill="#ee0000"/>
<text x="1002.9" y="245.8" font-size="8.3" font-family="Liberation Sans, Arial, sans-serif">up:40</text>
<circle cx="989.75" cy="259.3" r="2.5" fill="#4169e1"/>
<text x="1002.9" y="262.2" font-size="8.3" font-family="Liberation Sans, Arial, sans-serif">down:214</text>
<circle cx="989.75" cy="275.7" r="2.5" fill="#999999"/>
<text x="1002.9" y="278.6" font-size="8.3" font-family="Liberation Sans, Arial, sans-serif">unchanged:3001</text>
<text x="981.8" y="313.3" font-size="10.3" font-family="Liberation Sans, Arial, sans-serif">VIP</text>
<circle cx="989.75" cy="327.9" r="1.5" fill="#000"/>
<text x="1002.9" y="330.4" font-size="8.3" font-family="Liberation Sans, Arial, sans-serif">0.0</text>
<circle cx="989.75" cy="344.6" r="3" fill="#000"/>
<text x="1002.9" y="347.1" font-size="8.3" font-family="Liberation Sans, Arial, sans-serif">1.5</text>
<line x1="1268" y1="158" x2="1244.25" y2="79" stroke="#66d1a9" stroke-width="1.3"/>
<line x1="1268" y1="158" x2="1359.5" y2="82.5" stroke="#66d1a9" stroke-width="1.3"/>
<line x1="1268" y1="158" x2="1149.5" y2="150" stroke="#66d1a9" stroke-width="1.3"/>
<line x1="1268" y1="158" x2="1392.5" y2="143.25" stroke="#66d1a9" stroke-width="1.3"/>
<line x1="1268" y1="158" x2="1161" y2="222" stroke="#66d1a9" stroke-width="1.3"/>
<line x1="1268" y1="158" x2="1272" y2="246.25" stroke="#66d1a9" stroke-width="1.3"/>
<line x1="1213.9" y1="411.6" x2="1116.8" y2="359.4" stroke="#3fb8e8" stroke-width="1.3"/>
<line x1="1213.9" y1="411.6" x2="1143.5" y2="459.2" stroke="#3fb8e8" stroke-width="1.3"/>
<line x1="1213.9" y1="411.6" x2="1279.2" y2="486.3" stroke="#3fb8e8" stroke-width="1.3"/>
<line x1="1616.6" y1="215.9" x2="1504.1" y2="235" stroke="#b8b83c" stroke-width="1.3"/>
<line x1="1616.6" y1="215.9" x2="1578.6" y2="296.6" stroke="#b8b83c" stroke-width="1.3"/>
<line x1="1616.6" y1="215.9" x2="1631.8" y2="322.5" stroke="#b8b83c" stroke-width="1.3"/>
<line x1="1496.4" y1="342.1" x2="1504.1" y2="235" stroke="#ec8a80" stroke-width="1.3"/>
<line x1="1496.4" y1="342.1" x2="1578.6" y2="296.6" stroke="#ec8a80" stroke-width="1.3"/>
<line x1="1496.4" y1="342.1" x2="1631.8" y2="322.5" stroke="#ec8a80" stroke-width="1.3"/>
<line x1="1496.4" y1="342.1" x2="1434.8" y2="411.4" stroke="#ec8a80" stroke-width="1.3"/>
<line x1="1496.4" y1="342.1" x2="1501.4" y2="453" stroke="#ec8a80" stroke-width="1.3"/>
<line x1="1572.3" y1="399.8" x2="1578.6" y2="296.6" stroke="#e88ae8" stroke-width="1.3"/>
<line x1="1572.3" y1="399.8" x2="1631.8" y2="322.5" stroke="#e88ae8" stroke-width="1.3"/>
<line x1="1572.3" y1="399.8" x2="1434.8" y2="411.4" stroke="#e88ae8" stroke-width="1.3"/>
<line x1="1572.3" y1="399.8" x2="1501.4" y2="453" stroke="#e88ae8" stroke-width="1.3"/>
<circle cx="1268" cy="158" r="10.2" fill="#e5c494"/>
<circle cx="1213.9" cy="411.6" r="7.2" fill="#e5c494"/>
<circle cx="1616.6" cy="215.9" r="7.2" fill="#e5c494"/>
<circle cx="1496.4" cy="342.1" r="9.3" fill="#e5c494"/>
<circle cx="1572.3" cy="399.8" r="8" fill="#e5c494"/>
<circle cx="1244.25" cy="79" r="3.2" fill="#9dbf9d"/>
<circle cx="1359.5" cy="82.5" r="3.2" fill="#4ddc5a"/>
<circle cx="1149.5" cy="150" r="3.2" fill="#ee1c1c"/>
<circle cx="1392.5" cy="143.25" r="3.2" fill="#3dd84f"/>
<circle cx="1161" cy="222" r="3.2" fill="#0a5a14"/>
<circle cx="1272" cy="246.25" r="3.2" fill="#d88c80"/>
<circle cx="1116.8" cy="359.4" r="3.2" fill="#e07a6a"/>
<circle cx="1143.5" cy="459.2" r="3.2" fill="#d4867a"/>
<circle cx="1279.2" cy="486.3" r="3.2" fill="#cc8c86"/>
<circle cx="1504.1" cy="235" r="3.2" fill="#cc8480"/>
<circle cx="1578.6" cy="296.6" r="3.2" fill="#cc8480"/>
<circle cx="1631.8" cy="322.5" r="3.2" fill="#b4b4b4"/>
<circle cx="1434.8" cy="411.4" r="3.2" fill="#3ddc4a"/>
<circle cx="1501.4" cy="453" r="3.2" fill="#cc8480"/>
<text x="1214" y="89.5" font-size="9.75" fill="#0d0d0d" font-family="Liberation Sans, Arial, sans-serif">pos_7734</text>
<text x="1328.75" y="93.75" font-size="9.75" fill="#0d0d0d" font-family="Liberation Sans, Arial, sans-serif">neg_3197</text>
<text x="1133.5" y="146" font-size="9.75" fill="#0d0d0d" font-family="Liberation Sans, Arial, sans-serif">pos_10301</text>
<text x="1230.75" y="153.75" font-size="9.75" fill="#0d0d0d" font-family="Liberation Sans, Arial, sans-serif">Porphyrin metabolism</text>
<text x="1362" y="153" font-size="9.75" fill="#0d0d0d" font-family="Liberation Sans, Arial, sans-serif">neg_4845</text>
<text x="1130.5" y="232.5" font-size="9.75" fill="#0d0d0d" font-family="Liberation Sans, Arial, sans-serif">pos_6892</text>
<text x="1243.75" y="256.75" font-size="9.75" fill="#0d0d0d" font-family="Liberation Sans, Arial, sans-serif">neg_727</text>
<text x="1094.7" y="370" font-size="9.75" fill="#0d0d0d" font-family="Liberation Sans, Arial, sans-serif">neg_1121</text>
<text x="1163.6" y="422" font-size="9.75" fill="#0d0d0d" font-family="Liberation Sans, Arial, sans-serif">Retinol metabolism</text>
<text x="1113.7" y="470" font-size="9.75" fill="#0d0d0d" font-family="Liberation Sans, Arial, sans-serif">neg_2603</text>
<text x="1248.7" y="496.8" font-size="9.75" fill="#0d0d0d" font-family="Liberation Sans, Arial, sans-serif">neg_2548</text>
<text x="1476.4" y="218.9" font-size="9.75" fill="#0d0d0d" font-family="Liberation Sans, Arial, sans-serif">Fc epsilon RI signaling pathway</text>
<text x="1473.2" y="246.25" font-size="9.75" fill="#0d0d0d" font-family="Liberation Sans, Arial, sans-serif">pos_7715</text>
<text x="1548.2" y="307.5" font-size="9.75" fill="#0d0d0d" font-family="Liberation Sans, Arial, sans-serif">pos_9420</text>
<text x="1611.6" y="318.6" font-size="9.75" fill="#0d0d0d" font-family="Liberation Sans, Arial, sans-serif">pos_5515</text>
<text x="1443.4" y="338.6" font-size="9.75" fill="#0d0d0d" font-family="Liberation Sans, Arial, sans-serif">Arachidonic acid metabolism</text>
<text x="1533.2" y="395.7" font-size="9.75" fill="#0d0d0d" font-family="Liberation Sans, Arial, sans-serif">Serotonergic synapse</text>
<text x="1403.75" y="422" font-size="9.75" fill="#0d0d0d" font-family="Liberation Sans, Arial, sans-serif">neg_1093</text>
<text x="1469.8" y="463.75" font-size="9.75" fill="#0d0d0d" font-family="Liberation Sans, Arial, sans-serif">neg_4167</text>
<text x="1662.4" y="142.9" font-size="9.75" fill="#0d0d0d" font-family="Liberation Sans, Arial, sans-serif">category</text>
<line x1="1663.9" y1="156.6" x2="1676.2" y2="156.6" stroke="#f4a096" stroke-width="1.4"/>
<text x="1682.7" y="159.3" font-size="7.9" fill="#0d0d0d" font-family="Liberation Sans, Arial, sans-serif">Arachidonic acid metabolism</text>
<line x1="1663.9" y1="172" x2="1676.2" y2="172" stroke="#c4c45e" stroke-width="1.4"/>
<text x="1682.7" y="174.7" font-size="7.9" fill="#0d0d0d" font-family="Liberation Sans, Arial, sans-serif">Fc epsilon RI signaling pathway</text>
<line x1="1663.9" y1="187.4" x2="1676.2" y2="187.4" stroke="#5fd3b0" stroke-width="1.4"/>
<text x="1682.7" y="190.1" font-size="7.9" fill="#0d0d0d" font-family="Liberation Sans, Arial, sans-serif">Porphyrin metabolism</text>
<line x1="1663.9" y1="202.8" x2="1676.2" y2="202.8" stroke="#4fc0ec" stroke-width="1.4"/>
<text x="1682.7" y="205.5" font-size="7.9" fill="#0d0d0d" font-family="Liberation Sans, Arial, sans-serif">Retinol metabolism</text>
<line x1="1663.9" y1="218.2" x2="1676.2" y2="218.2" stroke="#ee99ee" stroke-width="1.4"/>
<text x="1682.7" y="220.9" font-size="7.9" fill="#0d0d0d" font-family="Liberation Sans, Arial, sans-serif">Serotonergic synapse</text>
<text x="1662.4" y="240.2" font-size="9.75" fill="#0d0d0d" font-family="Liberation Sans, Arial, sans-serif">fold change</text>
<defs><linearGradient id="fcg" x1="0" y1="0" x2="0" y2="1"><stop offset="0" stop-color="#ff0000"/><stop offset="0.25" stop-color="#f85a48"/><stop offset="0.45" stop-color="#c89490"/><stop offset="0.55" stop-color="#a8b8a8"/><stop offset="0.75" stop-color="#18f03c"/><stop offset="1" stop-color="#007020"/></linearGradient></defs>
<rect x="1662.4" y="246.3" width="15.7" height="76.7" fill="url(#fcg)"/>
<line x1="1662.4" y1="263.4" x2="1665.2" y2="263.4" stroke="#ffffff" stroke-width="0.6"/>
<line x1="1675.3" y1="263.4" x2="1678.1" y2="263.4" stroke="#ffffff" stroke-width="0.6"/>
<text x="1682.7" y="266.1" font-size="7.9" fill="#0d0d0d" font-family="Liberation Sans, Arial, sans-serif">0</text>
<line x1="1662.4" y1="278.6" x2="1665.2" y2="278.6" stroke="#ffffff" stroke-width="0.6"/>
<line x1="1675.3" y1="278.6" x2="1678.1" y2="278.6" stroke="#ffffff" stroke-width="0.6"/>
<text x="1682.7" y="281.3" font-size="7.9" fill="#0d0d0d" font-family="Liberation Sans, Arial, sans-serif" letter-spacing="-3.2">-1</text>
<line x1="1662.4" y1="293.8" x2="1665.2" y2="293.8" stroke="#ffffff" stroke-width="0.6"/>
<line x1="1675.3" y1="293.8" x2="1678.1" y2="293.8" stroke="#ffffff" stroke-width="0.6"/>
<text x="1682.7" y="296.5" font-size="7.9" fill="#0d0d0d" font-family="Liberation Sans, Arial, sans-serif" letter-spacing="-3.2">-2</text>
<line x1="1662.4" y1="309" x2="1665.2" y2="309" stroke="#ffffff" stroke-width="0.6"/>
<line x1="1675.3" y1="309" x2="1678.1" y2="309" stroke="#ffffff" stroke-width="0.6"/>
<text x="1682.7" y="311.7" font-size="7.9" fill="#0d0d0d" font-family="Liberation Sans, Arial, sans-serif" letter-spacing="-3.2">-3</text>
<text x="1662.4" y="337.3" font-size="9.75" fill="#0d0d0d" font-family="Liberation Sans, Arial, sans-serif">size</text>
<circle cx="1675" cy="352.5" r="7.2" fill="#000"/>
<text x="1692.4" y="355.3" font-size="7.9" fill="#0d0d0d" font-family="Liberation Sans, Arial, sans-serif">3</text>
<circle cx="1675" cy="372" r="8.3" fill="#000"/>
<text x="1692.4" y="374.8" font-size="7.9" fill="#0d0d0d" font-family="Liberation Sans, Arial, sans-serif">4</text>
<circle cx="1675" cy="393.8" r="9.1" fill="#000"/>
<text x="1692.4" y="396.6" font-size="7.9" fill="#0d0d0d" font-family="Liberation Sans, Arial, sans-serif">5</text>
<circle cx="1675" cy="418" r="10.1" fill="#000"/>
<text x="1692.4" y="420.8" font-size="7.9" fill="#0d0d0d" font-family="Liberation Sans, Arial, sans-serif">6</text>
<rect x="91" y="569" width="1571.7" height="290" fill="#ffffff"/>
<defs><clipPath id="dclip"><rect x="91" y="569" width="1571.7" height="290"/></clipPath></defs>
<g clip-path="url(#dclip)">
<line x1="484.6" y1="569" x2="484.6" y2="859" stroke="#f4f4f4" stroke-width="0.8"/>
<line x1="944.8" y1="569" x2="944.8" y2="859" stroke="#f4f4f4" stroke-width="0.8"/>
<line x1="1405" y1="569" x2="1405" y2="859" stroke="#f4f4f4" stroke-width="0.8"/>
<line x1="91" y1="820.8" x2="1662.7" y2="820.8" stroke="#f4f4f4" stroke-width="0.8"/>
<line x1="91" y1="754.4" x2="1662.7" y2="754.4" stroke="#f4f4f4" stroke-width="0.8"/>
<line x1="91" y1="688" x2="1662.7" y2="688" stroke="#f4f4f4" stroke-width="0.8"/>
<line x1="91" y1="621.6" x2="1662.7" y2="621.6" stroke="#f4f4f4" stroke-width="0.8"/>
<line x1="254.5" y1="569" x2="254.5" y2="859" stroke="#ebebeb" stroke-width="1"/>
<line x1="714.7" y1="569" x2="714.7" y2="859" stroke="#ebebeb" stroke-width="1"/>
<line x1="1174.9" y1="569" x2="1174.9" y2="859" stroke="#ebebeb" stroke-width="1"/>
<line x1="1635.1" y1="569" x2="1635.1" y2="859" stroke="#ebebeb" stroke-width="1"/>
<line x1="91" y1="854" x2="1662.7" y2="854" stroke="#ebebeb" stroke-width="1"/>
<line x1="91" y1="787.6" x2="1662.7" y2="787.6" stroke="#ebebeb" stroke-width="1"/>
<line x1="91" y1="721.2" x2="1662.7" y2="721.2" stroke="#ebebeb" stroke-width="1"/>
<line x1="91" y1="654.8" x2="1662.7" y2="654.8" stroke="#ebebeb" stroke-width="1"/>
<line x1="91" y1="588.4" x2="1662.7" y2="588.4" stroke="#ebebeb" stroke-width="1"/>
<rect x="162.46" y="834.74" width="1012.44" height="11.95" fill="#006400"/>
<rect x="293.62" y="821.46" width="881.28" height="11.95" fill="#006400"/>
<rect x="360.35" y="808.18" width="814.55" height="11.95" fill="#006400"/>
<rect x="406.37" y="794.9" width="768.53" height="11.95" fill="#006400"/>
<rect x="429.38" y="781.62" width="745.52" height="11.95" fill="#006400"/>
<rect x="438.58" y="768.34" width="736.32" height="11.95" fill="#006400"/>
<rect x="491.5" y="755.06" width="683.4" height="11.95" fill="#006400"/>
<rect x="595.05" y="741.78" width="579.85" height="11.95" fill="#006400"/>
<rect x="599.65" y="728.5" width="575.25" height="11.95" fill="#006400"/>
<rect x="606.55" y="715.22" width="568.35" height="11.95" fill="#006400"/>
<rect x="1174.9" y="701.94" width="257.71" height="11.95" fill="#cd5c5c"/>
<rect x="1174.9" y="688.66" width="257.71" height="11.95" fill="#cd5c5c"/>
<rect x="1174.9" y="675.38" width="262.31" height="11.95" fill="#cd5c5c"/>
<rect x="1174.9" y="662.1" width="262.31" height="11.95" fill="#cd5c5c"/>
<rect x="1174.9" y="648.82" width="271.52" height="11.95" fill="#cd5c5c"/>
<rect x="1174.9" y="635.54" width="273.82" height="11.95" fill="#cd5c5c"/>
<rect x="1174.9" y="622.26" width="280.72" height="11.95" fill="#cd5c5c"/>
<rect x="1174.9" y="608.98" width="285.32" height="11.95" fill="#cd5c5c"/>
<rect x="1174.9" y="595.7" width="308.33" height="11.95" fill="#cd5c5c"/>
<rect x="1174.9" y="582.42" width="416.48" height="11.95" fill="#cd5c5c"/>
<text x="1175.2" y="843.02" font-size="6.9" fill="#111111" font-family="Liberation Sans, Arial, sans-serif" textLength="159.2" lengthAdjust="spacing">3-hydroxy-3-(3-hydroxyphenyl)propanoic acid-O-sulphate</text>
<text x="162.76" y="843.12" font-size="6.9" fill="#000" font-family="Liberation Sans, Arial, sans-serif">4.4</text>
<text x="1175.2" y="829.74" font-size="6.9" fill="#111111" font-family="Liberation Sans, Arial, sans-serif" textLength="47" lengthAdjust="spacing">Biliverdin-IX-beta</text>
<text x="293.92" y="829.84" font-size="6.9" fill="#000" font-family="Liberation Sans, Arial, sans-serif">3.83</text>
<text x="1175.2" y="816.46" font-size="6.9" fill="#111111" font-family="Liberation Sans, Arial, sans-serif" textLength="202.3" lengthAdjust="spacing">1-Hydroxy-2,2,5,5-tetramethylpyrrolidine-3-carboxylic acid methyl ester</text>
<text x="360.65" y="816.56" font-size="6.9" fill="#000" font-family="Liberation Sans, Arial, sans-serif">3.54</text>
<text x="1175.2" y="803.18" font-size="6.9" fill="#111111" font-family="Liberation Sans, Arial, sans-serif">Digoxigenin bisdigitoxoside</text>
<text x="406.67" y="803.28" font-size="6.9" fill="#000" font-family="Liberation Sans, Arial, sans-serif">3.34</text>
<text x="1175.2" y="789.9" font-size="6.9" fill="#111111" font-family="Liberation Sans, Arial, sans-serif" textLength="494" lengthAdjust="spacing">(1R,3R)-5-[(2E)-2-[(3As,7aS)-1-[(1R)-1-[(2S)-3-hydroxy-2,3-dimethylbutoxy]ethyl]-7a-methyl-2,3,3a,5,6,7-hexahydro-1H-inden-4-ylidene]ethylidene]-2-methylidenecyclohexane-1,3-diol</text>
<text x="429.68" y="790" font-size="6.9" fill="#000" font-family="Liberation Sans, Arial, sans-serif">3.24</text>
<text x="1175.2" y="776.62" font-size="6.9" fill="#111111" font-family="Liberation Sans, Arial, sans-serif" textLength="52.8" lengthAdjust="spacing">2-nonenoylglycine</text>
<text x="438.88" y="776.72" font-size="6.9" fill="#000" font-family="Liberation Sans, Arial, sans-serif">3.2</text>
<text x="1175.2" y="763.34" font-size="6.9" fill="#111111" font-family="Liberation Sans, Arial, sans-serif" textLength="265.9" lengthAdjust="spacing">3-[2-(3-Guanidino-2-methyl-3-oxopropenyl)-5-methylphenyl]-N-isopropylidene-2-methylacrylamide</text>
<text x="491.8" y="763.44" font-size="6.9" fill="#000" font-family="Liberation Sans, Arial, sans-serif">2.97</text>
<text x="1175.2" y="750.06" font-size="6.9" fill="#111111" font-family="Liberation Sans, Arial, sans-serif">Nafazatrom</text>
<text x="595.35" y="750.16" font-size="6.9" fill="#000" font-family="Liberation Sans, Arial, sans-serif">2.52</text>
<text x="1175.2" y="736.78" font-size="6.9" fill="#111111" font-family="Liberation Sans, Arial, sans-serif">Butirosin A</text>
<text x="599.95" y="736.88" font-size="6.9" fill="#000" font-family="Liberation Sans, Arial, sans-serif">2.5</text>
<text x="1175.2" y="723.5" font-size="6.9" fill="#111111" font-family="Liberation Sans, Arial, sans-serif">Phenylethylamine</text>
<text x="606.85" y="723.6" font-size="6.9" fill="#000" font-family="Liberation Sans, Arial, sans-serif">2.47</text>
<text x="1099" y="710.22" font-size="6.9" text-anchor="end" fill="#111111" font-family="Liberation Sans, Arial, sans-serif" textLength="438.1" lengthAdjust="spacing">N-[(2R)-2-Hydroxy-2-[(8S,11S)-8-isopropyl-6,9-dioxo-2-oxa-7,10-diazabicyclo[11.2.2]heptadeca-1(15),13,16-trien-11-YL]ethyl]-N-isopentylbenzenesulfonamide</text>
<text x="1432.31" y="710.32" font-size="6.9" text-anchor="end" fill="#000" font-family="Liberation Sans, Arial, sans-serif">1.12</text>
<text x="1170.8" y="696.94" font-size="6.9" text-anchor="end" fill="#111111" font-family="Liberation Sans, Arial, sans-serif" textLength="19.9" lengthAdjust="spacing">O-1821</text>
<text x="1432.31" y="697.04" font-size="6.9" text-anchor="end" fill="#000" font-family="Liberation Sans, Arial, sans-serif">1.12</text>
<text x="1174.9" y="683.66" font-size="6.9" text-anchor="end" fill="#111111" font-family="Liberation Sans, Arial, sans-serif">Aminomethyl fluorescein</text>
<text x="1436.91" y="683.76" font-size="6.9" text-anchor="end" fill="#000" font-family="Liberation Sans, Arial, sans-serif">1.14</text>
<text x="1162" y="670.38" font-size="6.9" text-anchor="end" fill="#111111" font-family="Liberation Sans, Arial, sans-serif" textLength="118.5" lengthAdjust="spacing">3,4',5-Trihydroxy-3',7-dimethoxyflavanone</text>
<text x="1436.91" y="670.48" font-size="6.9" text-anchor="end" fill="#000" font-family="Liberation Sans, Arial, sans-serif">1.14</text>
<text x="1174.9" y="657.1" font-size="6.9" text-anchor="end" fill="#111111" font-family="Liberation Sans, Arial, sans-serif">Asp Asp Asp</text>
<text x="1446.12" y="657.2" font-size="6.9" text-anchor="end" fill="#000" font-family="Liberation Sans, Arial, sans-serif">1.18</text>
<text x="1170" y="643.82" font-size="6.9" text-anchor="end" fill="#111111" font-family="Liberation Sans, Arial, sans-serif" textLength="93.4" lengthAdjust="spacing">5-Oxoavermectin &quot;1a&quot; aglycone</text>
<text x="1448.42" y="643.92" font-size="6.9" text-anchor="end" fill="#000" font-family="Liberation Sans, Arial, sans-serif">1.19</text>
<text x="1174.9" y="630.54" font-size="6.9" text-anchor="end" fill="#111111" font-family="Liberation Sans, Arial, sans-serif">Icosenoic acid</text>
<text x="1455.32" y="630.64" font-size="6.9" text-anchor="end" fill="#000" font-family="Liberation Sans, Arial, sans-serif">1.22</text>
<text x="1174.9" y="617.26" font-size="6.9" text-anchor="end" fill="#111111" font-family="Liberation Sans, Arial, sans-serif">Thapsigargin</text>
<text x="1459.92" y="617.36" font-size="6.9" text-anchor="end" fill="#000" font-family="Liberation Sans, Arial, sans-serif">1.24</text>
<text x="1174.9" y="603.98" font-size="6.9" text-anchor="end" fill="#111111" font-family="Liberation Sans, Arial, sans-serif">Pratosartan</text>
<text x="1482.93" y="604.08" font-size="6.9" text-anchor="end" fill="#000" font-family="Liberation Sans, Arial, sans-serif">1.34</text>
<text x="1171" y="590.7" font-size="6.9" text-anchor="end" fill="#111111" font-family="Liberation Sans, Arial, sans-serif" textLength="69" lengthAdjust="spacing">cis-Hydroxy Perhexiline</text>
<text x="1591.08" y="590.8" font-size="6.9" text-anchor="end" fill="#000" font-family="Liberation Sans, Arial, sans-serif">1.81</text>
</g>
<rect x="91" y="569" width="1571.7" height="290" fill="none" stroke="#b3b3b3" stroke-width="1"/>
<line x1="88.5" y1="854" x2="91" y2="854" stroke="#555" stroke-width="0.8"/>
<text x="87" y="856" font-size="5.6" text-anchor="end" fill="#4d4d4d" font-family="Liberation Sans, Arial, sans-serif">0</text>
<line x1="88.5" y1="787.6" x2="91" y2="787.6" stroke="#555" stroke-width="0.8"/>
<text x="87" y="789.6" font-size="5.6" text-anchor="end" fill="#4d4d4d" font-family="Liberation Sans, Arial, sans-serif">5</text>
<line x1="88.5" y1="721.2" x2="91" y2="721.2" stroke="#555" stroke-width="0.8"/>
<text x="87" y="723.2" font-size="5.6" text-anchor="end" fill="#4d4d4d" font-family="Liberation Sans, Arial, sans-serif">10</text>
<line x1="88.5" y1="654.8" x2="91" y2="654.8" stroke="#555" stroke-width="0.8"/>
<text x="87" y="656.8" font-size="5.6" text-anchor="end" fill="#4d4d4d" font-family="Liberation Sans, Arial, sans-serif">15</text>
<line x1="88.5" y1="588.4" x2="91" y2="588.4" stroke="#555" stroke-width="0.8"/>
<text x="87" y="590.4" font-size="5.6" text-anchor="end" fill="#4d4d4d" font-family="Liberation Sans, Arial, sans-serif">20</text>
<line x1="254.5" y1="859" x2="254.5" y2="861.5" stroke="#555" stroke-width="0.8"/>
<text x="254.5" y="866.5" font-size="5.6" text-anchor="middle" fill="#4d4d4d" font-family="Liberation Sans, Arial, sans-serif">4</text>
<line x1="714.7" y1="859" x2="714.7" y2="861.5" stroke="#555" stroke-width="0.8"/>
<text x="714.7" y="866.5" font-size="5.6" text-anchor="middle" fill="#4d4d4d" font-family="Liberation Sans, Arial, sans-serif">2</text>
<line x1="1174.9" y1="859" x2="1174.9" y2="861.5" stroke="#555" stroke-width="0.8"/>
<text x="1174.9" y="866.5" font-size="5.6" text-anchor="middle" fill="#4d4d4d" font-family="Liberation Sans, Arial, sans-serif">0</text>
<line x1="1635.1" y1="859" x2="1635.1" y2="861.5" stroke="#555" stroke-width="0.8"/>
<text x="1635.1" y="866.5" font-size="5.6" text-anchor="middle" fill="#4d4d4d" font-family="Liberation Sans, Arial, sans-serif">2</text>
<text x="877" y="874.5" font-size="7" text-anchor="middle" fill="#000" font-family="Liberation Sans, Arial, sans-serif">log2FC</text>
<text x="79.5" y="714" font-size="7" text-anchor="middle" fill="#000" font-family="Liberation Sans, Arial, sans-serif" transform="rotate(-90 79.5 714)">x</text>
<text x="1673.2" y="704.2" font-size="7" fill="#000" font-family="Liberation Sans, Arial, sans-serif">regulated</text>
<rect x="1674" y="709.2" width="9.6" height="9.5" fill="#006400"/>
<rect x="1674" y="719.9" width="9.6" height="9.5" fill="#cd5c5c"/>
<text x="1687.2" y="715.9" font-size="5.6" fill="#000" font-family="Liberation Sans, Arial, sans-serif">down</text>
<text x="1687.2" y="726.6" font-size="5.6" fill="#000" font-family="Liberation Sans, Arial, sans-serif">up</text>
<path d="M233,1293.2 L233,1273.54 L238.16,1273.54 L238.16,1253.89 L243.32,1253.89 L243.32,1234.23 L248.48,1234.23 L248.48,1175.26 L258.8,1175.26 L258.8,1155.61 L263.96,1155.61 L263.96,1135.95 L289.77,1135.95 L289.77,1096.64 L325.89,1096.64 L325.89,1076.98 L367.18,1076.98 L367.18,1057.33 L382.66,1057.33 L382.66,1018.01 L444.59,1018.01 L444.59,998.36 L465.23,998.36 L465.23,978.7 L547.8,978.7 L547.8,1293.2 Z" fill="#dcdcfd"/>
<path d="M233,944.4V1327.2M220.5,1293.2H560.5M264.48,944.4V1327.2M220.5,1261.75H560.5M295.96,944.4V1327.2M220.5,1230.3H560.5M327.44,944.4V1327.2M220.5,1198.85H560.5M358.92,944.4V1327.2M220.5,1167.4H560.5M390.4,944.4V1327.2M220.5,1135.95H560.5M421.88,944.4V1327.2M220.5,1104.5H560.5M453.36,944.4V1327.2M220.5,1073.05H560.5M484.84,944.4V1327.2M220.5,1041.6H560.5M516.32,944.4V1327.2M220.5,1010.15H560.5M547.8,944.4V1327.2M220.5,978.7H560.5" fill="none" stroke="#000" stroke-width="1" stroke-opacity="0.075" stroke-dasharray="1.3,1.7"/>
<path d="M233,1293.2L547.8,1293.2L547.8,978.7" fill="none" stroke="#2a2a50" stroke-width="1.1"/>
<defs><clipPath id="rc1"><rect x="220.5" y="944.4" width="340" height="382.8"/></clipPath></defs>
<line x1="170.04" y1="1356.1" x2="610.76" y2="915.8" stroke="#b4b4b4" stroke-width="1.25" clip-path="url(#rc1)"/>
<path d="M233,1293.2 L233,1273.54 L238.16,1273.54 L238.16,1253.89 L243.32,1253.89 L243.32,1234.23 L248.48,1234.23 L248.48,1175.26 L258.8,1175.26 L258.8,1155.61 L263.96,1155.61 L263.96,1135.95 L289.77,1135.95 L289.77,1096.64 L325.89,1096.64 L325.89,1076.98 L367.18,1076.98 L367.18,1057.33 L382.66,1057.33 L382.66,1018.01 L444.59,1018.01 L444.59,998.36 L465.23,998.36 L465.23,978.7 L547.8,978.7" fill="none" stroke="#15158c" stroke-width="2.1" stroke-linejoin="miter" stroke-linecap="butt"/>
<rect x="220.5" y="944.4" width="340" height="382.8" fill="none" stroke="#333333" stroke-width="1.1"/>
<line x1="233" y1="1327.2" x2="233" y2="1334.2" stroke="#333" stroke-width="1"/>
<line x1="213.5" y1="1293.2" x2="220.5" y2="1293.2" stroke="#333" stroke-width="1"/>
<text x="233" y="1353.6" font-size="12" text-anchor="middle" fill="#111" font-family="Liberation Sans, Arial, sans-serif">0.0</text>
<text x="203.5" y="1293.2" font-size="12" text-anchor="middle" fill="#111" font-family="Liberation Sans, Arial, sans-serif" transform="rotate(-90 203.5 1293.2)">0.0</text>
<line x1="295.96" y1="1327.2" x2="295.96" y2="1334.2" stroke="#333" stroke-width="1"/>
<line x1="213.5" y1="1230.3" x2="220.5" y2="1230.3" stroke="#333" stroke-width="1"/>
<text x="295.96" y="1353.6" font-size="12" text-anchor="middle" fill="#111" font-family="Liberation Sans, Arial, sans-serif">0.2</text>
<text x="203.5" y="1230.3" font-size="12" text-anchor="middle" fill="#111" font-family="Liberation Sans, Arial, sans-serif" transform="rotate(-90 203.5 1230.3)">0.2</text>
<line x1="358.92" y1="1327.2" x2="358.92" y2="1334.2" stroke="#333" stroke-width="1"/>
<line x1="213.5" y1="1167.4" x2="220.5" y2="1167.4" stroke="#333" stroke-width="1"/>
<text x="358.92" y="1353.6" font-size="12" text-anchor="middle" fill="#111" font-family="Liberation Sans, Arial, sans-serif">0.4</text>
<text x="203.5" y="1167.4" font-size="12" text-anchor="middle" fill="#111" font-family="Liberation Sans, Arial, sans-serif" transform="rotate(-90 203.5 1167.4)">0.4</text>
<line x1="421.88" y1="1327.2" x2="421.88" y2="1334.2" stroke="#333" stroke-width="1"/>
<line x1="213.5" y1="1104.5" x2="220.5" y2="1104.5" stroke="#333" stroke-width="1"/>
<text x="421.88" y="1353.6" font-size="12" text-anchor="middle" fill="#111" font-family="Liberation Sans, Arial, sans-serif">0.6</text>
<text x="203.5" y="1104.5" font-size="12" text-anchor="middle" fill="#111" font-family="Liberation Sans, Arial, sans-serif" transform="rotate(-90 203.5 1104.5)">0.6</text>
<line x1="484.84" y1="1327.2" x2="484.84" y2="1334.2" stroke="#333" stroke-width="1"/>
<line x1="213.5" y1="1041.6" x2="220.5" y2="1041.6" stroke="#333" stroke-width="1"/>
<text x="484.84" y="1353.6" font-size="12" text-anchor="middle" fill="#111" font-family="Liberation Sans, Arial, sans-serif">0.8</text>
<text x="203.5" y="1041.6" font-size="12" text-anchor="middle" fill="#111" font-family="Liberation Sans, Arial, sans-serif" transform="rotate(-90 203.5 1041.6)">0.8</text>
<line x1="547.8" y1="1327.2" x2="547.8" y2="1334.2" stroke="#333" stroke-width="1"/>
<line x1="213.5" y1="978.7" x2="220.5" y2="978.7" stroke="#333" stroke-width="1"/>
<text x="547.8" y="1353.6" font-size="12" text-anchor="middle" fill="#111" font-family="Liberation Sans, Arial, sans-serif">1.0</text>
<text x="203.5" y="978.7" font-size="12" text-anchor="middle" fill="#111" font-family="Liberation Sans, Arial, sans-serif" transform="rotate(-90 203.5 978.7)">1.0</text>
<text x="390.5" y="1374.6" font-size="12.1" text-anchor="middle" fill="#111" font-family="Liberation Sans, Arial, sans-serif">False positive rate</text>
<text x="180" y="1135.8" font-size="12" text-anchor="middle" fill="#111" font-family="Liberation Sans, Arial, sans-serif" transform="rotate(-90 180 1135.8)">True positive rate</text>
<circle cx="289.77" cy="1096.64" r="3" fill="#ee0000"/>
<text x="293.4" y="1108" font-size="12" fill="#111" font-family="Liberation Sans, Arial, sans-serif">2960(0.8, 0.6)</text>
<text x="390.5" y="1144.8" font-size="12" fill="#15158c" font-family="Liberation Sans, Arial, sans-serif" xml:space="preserve" >AUC: 0.762</text>
<text x="390.5" y="1159.3" font-size="12" fill="#15158c" font-family="Liberation Sans, Arial, sans-serif" xml:space="preserve" >(0.615−       0.886)</text>
<path d="M950.4,1295.6 L950.4,1275.44 L960.97,1275.44 L960.97,1255.29 L966.26,1255.29 L966.26,1235.13 L971.55,1235.13 L971.55,1194.82 L992.7,1194.82 L992.7,1174.66 L997.98,1174.66 L997.98,1154.51 L1003.27,1154.51 L1003.27,1114.19 L1008.56,1114.19 L1008.56,1094.04 L1024.42,1094.04 L1024.42,1073.88 L1029.7,1073.88 L1029.7,1053.72 L1034.99,1053.72 L1034.99,1033.57 L1124.87,1033.57 L1124.87,1013.41 L1146.01,1013.41 L1146.01,993.26 L1188.31,993.26 L1188.31,973.1 L1272.9,973.1 L1272.9,1295.6 Z" fill="#dcdcfd"/>
<path d="M950.4,938V1330.4M937.5,1295.6H1286.3M982.65,938V1330.4M937.5,1263.35H1286.3M1014.9,938V1330.4M937.5,1231.1H1286.3M1047.15,938V1330.4M937.5,1198.85H1286.3M1079.4,938V1330.4M937.5,1166.6H1286.3M1111.65,938V1330.4M937.5,1134.35H1286.3M1143.9,938V1330.4M937.5,1102.1H1286.3M1176.15,938V1330.4M937.5,1069.85H1286.3M1208.4,938V1330.4M937.5,1037.6H1286.3M1240.65,938V1330.4M937.5,1005.35H1286.3M1272.9,938V1330.4M937.5,973.1H1286.3" fill="none" stroke="#000" stroke-width="1" stroke-opacity="0.075" stroke-dasharray="1.3,1.7"/>
<path d="M950.4,1295.6L1272.9,1295.6L1272.9,973.1" fill="none" stroke="#2a2a50" stroke-width="1.1"/>
<defs><clipPath id="rc2"><rect x="937.5" y="938" width="348.8" height="392.4"/></clipPath></defs>
<line x1="885.9" y1="1360.1" x2="1337.4" y2="908.6" stroke="#b4b4b4" stroke-width="1.25" clip-path="url(#rc2)"/>
<path d="M950.4,1295.6 L950.4,1275.44 L960.97,1275.44 L960.97,1255.29 L966.26,1255.29 L966.26,1235.13 L971.55,1235.13 L971.55,1194.82 L992.7,1194.82 L992.7,1174.66 L997.98,1174.66 L997.98,1154.51 L1003.27,1154.51 L1003.27,1114.19 L1008.56,1114.19 L1008.56,1094.04 L1024.42,1094.04 L1024.42,1073.88 L1029.7,1073.88 L1029.7,1053.72 L1034.99,1053.72 L1034.99,1033.57 L1124.87,1033.57 L1124.87,1013.41 L1146.01,1013.41 L1146.01,993.26 L1188.31,993.26 L1188.31,973.1 L1272.9,973.1" fill="none" stroke="#15158c" stroke-width="2.1" stroke-linejoin="miter" stroke-linecap="butt"/>
<rect x="937.5" y="938" width="348.8" height="392.4" fill="none" stroke="#333333" stroke-width="1.1"/>
<line x1="950.4" y1="1330.4" x2="950.4" y2="1337.4" stroke="#333" stroke-width="1"/>
<line x1="930.5" y1="1295.6" x2="937.5" y2="1295.6" stroke="#333" stroke-width="1"/>
<text x="950.4" y="1356.8" font-size="12" text-anchor="middle" fill="#111" font-family="Liberation Sans, Arial, sans-serif">0.0</text>
<text x="920.5" y="1295.6" font-size="12" text-anchor="middle" fill="#111" font-family="Liberation Sans, Arial, sans-serif" transform="rotate(-90 920.5 1295.6)">0.0</text>
<line x1="1014.9" y1="1330.4" x2="1014.9" y2="1337.4" stroke="#333" stroke-width="1"/>
<line x1="930.5" y1="1231.1" x2="937.5" y2="1231.1" stroke="#333" stroke-width="1"/>
<text x="1014.9" y="1356.8" font-size="12" text-anchor="middle" fill="#111" font-family="Liberation Sans, Arial, sans-serif">0.2</text>
<text x="920.5" y="1231.1" font-size="12" text-anchor="middle" fill="#111" font-family="Liberation Sans, Arial, sans-serif" transform="rotate(-90 920.5 1231.1)">0.2</text>
<line x1="1079.4" y1="1330.4" x2="1079.4" y2="1337.4" stroke="#333" stroke-width="1"/>
<line x1="930.5" y1="1166.6" x2="937.5" y2="1166.6" stroke="#333" stroke-width="1"/>
<text x="1079.4" y="1356.8" font-size="12" text-anchor="middle" fill="#111" font-family="Liberation Sans, Arial, sans-serif">0.4</text>
<text x="920.5" y="1166.6" font-size="12" text-anchor="middle" fill="#111" font-family="Liberation Sans, Arial, sans-serif" transform="rotate(-90 920.5 1166.6)">0.4</text>
<line x1="1143.9" y1="1330.4" x2="1143.9" y2="1337.4" stroke="#333" stroke-width="1"/>
<line x1="930.5" y1="1102.1" x2="937.5" y2="1102.1" stroke="#333" stroke-width="1"/>
<text x="1143.9" y="1356.8" font-size="12" text-anchor="middle" fill="#111" font-family="Liberation Sans, Arial, sans-serif">0.6</text>
<text x="920.5" y="1102.1" font-size="12" text-anchor="middle" fill="#111" font-family="Liberation Sans, Arial, sans-serif" transform="rotate(-90 920.5 1102.1)">0.6</text>
<line x1="1208.4" y1="1330.4" x2="1208.4" y2="1337.4" stroke="#333" stroke-width="1"/>
<line x1="930.5" y1="1037.6" x2="937.5" y2="1037.6" stroke="#333" stroke-width="1"/>
<text x="1208.4" y="1356.8" font-size="12" text-anchor="middle" fill="#111" font-family="Liberation Sans, Arial, sans-serif">0.8</text>
<text x="920.5" y="1037.6" font-size="12" text-anchor="middle" fill="#111" font-family="Liberation Sans, Arial, sans-serif" transform="rotate(-90 920.5 1037.6)">0.8</text>
<line x1="1272.9" y1="1330.4" x2="1272.9" y2="1337.4" stroke="#333" stroke-width="1"/>
<line x1="930.5" y1="973.1" x2="937.5" y2="973.1" stroke="#333" stroke-width="1"/>
<text x="1272.9" y="1356.8" font-size="12" text-anchor="middle" fill="#111" font-family="Liberation Sans, Arial, sans-serif">1.0</text>
<text x="920.5" y="973.1" font-size="12" text-anchor="middle" fill="#111" font-family="Liberation Sans, Arial, sans-serif" transform="rotate(-90 920.5 973.1)">1.0</text>
<text x="1111.9" y="1379.5" font-size="12.1" text-anchor="middle" fill="#111" font-family="Liberation Sans, Arial, sans-serif">False positive rate</text>
<text x="897" y="1134.2" font-size="12" text-anchor="middle" fill="#111" font-family="Liberation Sans, Arial, sans-serif" transform="rotate(-90 897 1134.2)">True positive rate</text>
<circle cx="1034.99" cy="1033.57" r="3" fill="#ee0000"/>
<text x="1038.5" y="1044.5" font-size="12" fill="#111" font-family="Liberation Sans, Arial, sans-serif">33(0.7, 0.8)</text>
<text x="1111.9" y="1143" font-size="12" fill="#15158c" font-family="Liberation Sans, Arial, sans-serif" xml:space="preserve" >AUC: 0.774</text>
<text x="1111.9" y="1158.1" font-size="12" fill="#15158c" font-family="Liberation Sans, Arial, sans-serif" xml:space="preserve" >(0.646−       0.89)</text>
<path d="M220.2,1792.1 L225.48,1792.1 L225.48,1751.95 L251.85,1751.95 L251.85,1711.8 L257.13,1711.8 L257.13,1671.65 L262.4,1671.65 L262.4,1631.5 L272.95,1631.5 L272.95,1611.42 L283.5,1611.42 L283.5,1591.35 L288.78,1591.35 L288.78,1571.28 L294.06,1571.28 L294.06,1551.2 L336.26,1551.2 L336.26,1531.12 L394.29,1531.12 L394.29,1511.05 L436.49,1511.05 L436.49,1490.98 L447.04,1490.98 L447.04,1470.9 L542,1470.9 L542,1792.1 Z" fill="#dcdcfd"/>
<path d="M220.2,1436.1V1827.1M207.6,1792.1H555.4M252.38,1436.1V1827.1M207.6,1759.98H555.4M284.56,1436.1V1827.1M207.6,1727.86H555.4M316.74,1436.1V1827.1M207.6,1695.74H555.4M348.92,1436.1V1827.1M207.6,1663.62H555.4M381.1,1436.1V1827.1M207.6,1631.5H555.4M413.28,1436.1V1827.1M207.6,1599.38H555.4M445.46,1436.1V1827.1M207.6,1567.26H555.4M477.64,1436.1V1827.1M207.6,1535.14H555.4M509.82,1436.1V1827.1M207.6,1503.02H555.4M542,1436.1V1827.1M207.6,1470.9H555.4" fill="none" stroke="#000" stroke-width="1" stroke-opacity="0.075" stroke-dasharray="1.3,1.7"/>
<path d="M220.2,1792.1L542,1792.1L542,1470.9" fill="none" stroke="#2a2a50" stroke-width="1.1"/>
<defs><clipPath id="rc3"><rect x="207.6" y="1436.1" width="347.8" height="391"/></clipPath></defs>
<line x1="155.84" y1="1856.34" x2="606.36" y2="1406.66" stroke="#b4b4b4" stroke-width="1.25" clip-path="url(#rc3)"/>
<path d="M220.2,1792.1 L225.48,1792.1 L225.48,1751.95 L251.85,1751.95 L251.85,1711.8 L257.13,1711.8 L257.13,1671.65 L262.4,1671.65 L262.4,1631.5 L272.95,1631.5 L272.95,1611.42 L283.5,1611.42 L283.5,1591.35 L288.78,1591.35 L288.78,1571.28 L294.06,1571.28 L294.06,1551.2 L336.26,1551.2 L336.26,1531.12 L394.29,1531.12 L394.29,1511.05 L436.49,1511.05 L436.49,1490.98 L447.04,1490.98 L447.04,1470.9 L542,1470.9" fill="none" stroke="#15158c" stroke-width="2.1" stroke-linejoin="miter" stroke-linecap="butt"/>
<rect x="207.6" y="1436.1" width="347.8" height="391" fill="none" stroke="#333333" stroke-width="1.1"/>
<line x1="220.2" y1="1827.1" x2="220.2" y2="1834.1" stroke="#333" stroke-width="1"/>
<line x1="200.6" y1="1792.1" x2="207.6" y2="1792.1" stroke="#333" stroke-width="1"/>
<text x="220.2" y="1853.5" font-size="12" text-anchor="middle" fill="#111" font-family="Liberation Sans, Arial, sans-serif">0.0</text>
<text x="190.6" y="1792.1" font-size="12" text-anchor="middle" fill="#111" font-family="Liberation Sans, Arial, sans-serif" transform="rotate(-90 190.6 1792.1)">0.0</text>
<line x1="284.56" y1="1827.1" x2="284.56" y2="1834.1" stroke="#333" stroke-width="1"/>
<line x1="200.6" y1="1727.86" x2="207.6" y2="1727.86" stroke="#333" stroke-width="1"/>
<text x="284.56" y="1853.5" font-size="12" text-anchor="middle" fill="#111" font-family="Liberation Sans, Arial, sans-serif">0.2</text>
<text x="190.6" y="1727.86" font-size="12" text-anchor="middle" fill="#111" font-family="Liberation Sans, Arial, sans-serif" transform="rotate(-90 190.6 1727.86)">0.2</text>
<line x1="348.92" y1="1827.1" x2="348.92" y2="1834.1" stroke="#333" stroke-width="1"/>
<line x1="200.6" y1="1663.62" x2="207.6" y2="1663.62" stroke="#333" stroke-width="1"/>
<text x="348.92" y="1853.5" font-size="12" text-anchor="middle" fill="#111" font-family="Liberation Sans, Arial, sans-serif">0.4</text>
<text x="190.6" y="1663.62" font-size="12" text-anchor="middle" fill="#111" font-family="Liberation Sans, Arial, sans-serif" transform="rotate(-90 190.6 1663.62)">0.4</text>
<line x1="413.28" y1="1827.1" x2="413.28" y2="1834.1" stroke="#333" stroke-width="1"/>
<line x1="200.6" y1="1599.38" x2="207.6" y2="1599.38" stroke="#333" stroke-width="1"/>
<text x="413.28" y="1853.5" font-size="12" text-anchor="middle" fill="#111" font-family="Liberation Sans, Arial, sans-serif">0.6</text>
<text x="190.6" y="1599.38" font-size="12" text-anchor="middle" fill="#111" font-family="Liberation Sans, Arial, sans-serif" transform="rotate(-90 190.6 1599.38)">0.6</text>
<line x1="477.64" y1="1827.1" x2="477.64" y2="1834.1" stroke="#333" stroke-width="1"/>
<line x1="200.6" y1="1535.14" x2="207.6" y2="1535.14" stroke="#333" stroke-width="1"/>
<text x="477.64" y="1853.5" font-size="12" text-anchor="middle" fill="#111" font-family="Liberation Sans, Arial, sans-serif">0.8</text>
<text x="190.6" y="1535.14" font-size="12" text-anchor="middle" fill="#111" font-family="Liberation Sans, Arial, sans-serif" transform="rotate(-90 190.6 1535.14)">0.8</text>
<line x1="542" y1="1827.1" x2="542" y2="1834.1" stroke="#333" stroke-width="1"/>
<line x1="200.6" y1="1470.9" x2="207.6" y2="1470.9" stroke="#333" stroke-width="1"/>
<text x="542" y="1853.5" font-size="12" text-anchor="middle" fill="#111" font-family="Liberation Sans, Arial, sans-serif">1.0</text>
<text x="190.6" y="1470.9" font-size="12" text-anchor="middle" fill="#111" font-family="Liberation Sans, Arial, sans-serif" transform="rotate(-90 190.6 1470.9)">1.0</text>
<text x="381.5" y="1875.7" font-size="12.1" text-anchor="middle" fill="#111" font-family="Liberation Sans, Arial, sans-serif">False positive rate</text>
<text x="167.1" y="1631.6" font-size="12" text-anchor="middle" fill="#111" font-family="Liberation Sans, Arial, sans-serif" transform="rotate(-90 167.1 1631.6)">True positive rate</text>
<circle cx="294.06" cy="1551.2" r="3" fill="#ee0000"/>
<text x="298.8" y="1562.3" font-size="12" fill="#111" font-family="Liberation Sans, Arial, sans-serif">4350000(0.8, 0.8)</text>
<text x="381.5" y="1640.3" font-size="12" fill="#15158c" font-family="Liberation Sans, Arial, sans-serif" xml:space="preserve" >AUC: 0.761</text>
<text x="381.5" y="1655.3" font-size="12" fill="#15158c" font-family="Liberation Sans, Arial, sans-serif" xml:space="preserve" >(0.628−</text>
<path d="M942.7,1797 L942.7,1735.65 L958.79,1735.65 L958.79,1715.2 L964.16,1715.2 L964.16,1694.75 L974.88,1694.75 L974.88,1674.3 L980.25,1674.3 L980.25,1633.4 L990.98,1633.4 L990.98,1612.95 L996.34,1612.95 L996.34,1551.6 L1044.61,1551.6 L1044.61,1510.7 L1130.44,1510.7 L1130.44,1490.25 L1237.72,1490.25 L1237.72,1469.8 L1269.9,1469.8 L1269.9,1797 Z" fill="#dcdcfd"/>
<path d="M942.7,1434.8V1832.1M929.8,1797H1283M975.42,1434.8V1832.1M929.8,1764.28H1283M1008.14,1434.8V1832.1M929.8,1731.56H1283M1040.86,1434.8V1832.1M929.8,1698.84H1283M1073.58,1434.8V1832.1M929.8,1666.12H1283M1106.3,1434.8V1832.1M929.8,1633.4H1283M1139.02,1434.8V1832.1M929.8,1600.68H1283M1171.74,1434.8V1832.1M929.8,1567.96H1283M1204.46,1434.8V1832.1M929.8,1535.24H1283M1237.18,1434.8V1832.1M929.8,1502.52H1283M1269.9,1434.8V1832.1M929.8,1469.8H1283" fill="none" stroke="#000" stroke-width="1" stroke-opacity="0.075" stroke-dasharray="1.3,1.7"/>
<path d="M942.7,1797L1269.9,1797L1269.9,1469.8" fill="none" stroke="#2a2a50" stroke-width="1.1"/>
<defs><clipPath id="rc4"><rect x="929.8" y="1434.8" width="353.2" height="397.3"/></clipPath></defs>
<line x1="877.26" y1="1862.44" x2="1335.34" y2="1404.36" stroke="#b4b4b4" stroke-width="1.25" clip-path="url(#rc4)"/>
<path d="M942.7,1797 L942.7,1735.65 L958.79,1735.65 L958.79,1715.2 L964.16,1715.2 L964.16,1694.75 L974.88,1694.75 L974.88,1674.3 L980.25,1674.3 L980.25,1633.4 L990.98,1633.4 L990.98,1612.95 L996.34,1612.95 L996.34,1551.6 L1044.61,1551.6 L1044.61,1510.7 L1130.44,1510.7 L1130.44,1490.25 L1237.72,1490.25 L1237.72,1469.8 L1269.9,1469.8" fill="none" stroke="#15158c" stroke-width="2.1" stroke-linejoin="miter" stroke-linecap="butt"/>
<rect x="929.8" y="1434.8" width="353.2" height="397.3" fill="none" stroke="#333333" stroke-width="1.1"/>
<line x1="942.7" y1="1832.1" x2="942.7" y2="1839.1" stroke="#333" stroke-width="1"/>
<line x1="922.8" y1="1797" x2="929.8" y2="1797" stroke="#333" stroke-width="1"/>
<text x="942.7" y="1858.5" font-size="12" text-anchor="middle" fill="#111" font-family="Liberation Sans, Arial, sans-serif">0.0</text>
<text x="912.8" y="1797" font-size="12" text-anchor="middle" fill="#111" font-family="Liberation Sans, Arial, sans-serif" transform="rotate(-90 912.8 1797)">0.0</text>
<line x1="1008.14" y1="1832.1" x2="1008.14" y2="1839.1" stroke="#333" stroke-width="1"/>
<line x1="922.8" y1="1731.56" x2="929.8" y2="1731.56" stroke="#333" stroke-width="1"/>
<text x="1008.14" y="1858.5" font-size="12" text-anchor="middle" fill="#111" font-family="Liberation Sans, Arial, sans-serif">0.2</text>
<text x="912.8" y="1731.56" font-size="12" text-anchor="middle" fill="#111" font-family="Liberation Sans, Arial, sans-serif" transform="rotate(-90 912.8 1731.56)">0.2</text>
<line x1="1073.58" y1="1832.1" x2="1073.58" y2="1839.1" stroke="#333" stroke-width="1"/>
<line x1="922.8" y1="1666.12" x2="929.8" y2="1666.12" stroke="#333" stroke-width="1"/>
<text x="1073.58" y="1858.5" font-size="12" text-anchor="middle" fill="#111" font-family="Liberation Sans, Arial, sans-serif">0.4</text>
<text x="912.8" y="1666.12" font-size="12" text-anchor="middle" fill="#111" font-family="Liberation Sans, Arial, sans-serif" transform="rotate(-90 912.8 1666.12)">0.4</text>
<line x1="1139.02" y1="1832.1" x2="1139.02" y2="1839.1" stroke="#333" stroke-width="1"/>
<line x1="922.8" y1="1600.68" x2="929.8" y2="1600.68" stroke="#333" stroke-width="1"/>
<text x="1139.02" y="1858.5" font-size="12" text-anchor="middle" fill="#111" font-family="Liberation Sans, Arial, sans-serif">0.6</text>
<text x="912.8" y="1600.68" font-size="12" text-anchor="middle" fill="#111" font-family="Liberation Sans, Arial, sans-serif" transform="rotate(-90 912.8 1600.68)">0.6</text>
<line x1="1204.46" y1="1832.1" x2="1204.46" y2="1839.1" stroke="#333" stroke-width="1"/>
<line x1="922.8" y1="1535.24" x2="929.8" y2="1535.24" stroke="#333" stroke-width="1"/>
<text x="1204.46" y="1858.5" font-size="12" text-anchor="middle" fill="#111" font-family="Liberation Sans, Arial, sans-serif">0.8</text>
<text x="912.8" y="1535.24" font-size="12" text-anchor="middle" fill="#111" font-family="Liberation Sans, Arial, sans-serif" transform="rotate(-90 912.8 1535.24)">0.8</text>
<line x1="1269.9" y1="1832.1" x2="1269.9" y2="1839.1" stroke="#333" stroke-width="1"/>
<line x1="922.8" y1="1469.8" x2="929.8" y2="1469.8" stroke="#333" stroke-width="1"/>
<text x="1269.9" y="1858.5" font-size="12" text-anchor="middle" fill="#111" font-family="Liberation Sans, Arial, sans-serif">1.0</text>
<text x="912.8" y="1469.8" font-size="12" text-anchor="middle" fill="#111" font-family="Liberation Sans, Arial, sans-serif" transform="rotate(-90 912.8 1469.8)">1.0</text>
<text x="1106.4" y="1881.6" font-size="12.1" text-anchor="middle" fill="#111" font-family="Liberation Sans, Arial, sans-serif">False positive rate</text>
<text x="889.3" y="1633.45" font-size="12" text-anchor="middle" fill="#111" font-family="Liberation Sans, Arial, sans-serif" transform="rotate(-90 889.3 1633.45)">True positive rate</text>
<circle cx="996.34" cy="1551.6" r="3" fill="#ee0000"/>
<text x="1001" y="1563.1" font-size="12" fill="#111" font-family="Liberation Sans, Arial, sans-serif">102000(0.8, 0.8)</text>
<text x="1106.4" y="1642.5" font-size="12" fill="#15158c" font-family="Liberation Sans, Arial, sans-serif" xml:space="preserve" >AUC: 0.806</text>
<text x="1106.4" y="1657.6" font-size="12" fill="#15158c" font-family="Liberation Sans, Arial, sans-serif" xml:space="preserve" textLength="63" lengthAdjust="spacing">(0.667−0.92)</text>
<path d="M224.3,2279.2 L224.3,2240.35 L234.5,2240.35 L234.5,2220.92 L239.6,2220.92 L239.6,2162.65 L249.8,2162.65 L249.8,2084.95 L290.6,2084.95 L290.6,2065.53 L321.2,2065.53 L321.2,2046.1 L362,2046.1 L362,2026.67 L387.5,2026.67 L387.5,2007.25 L479.3,2007.25 L479.3,1987.83 L494.6,1987.83 L494.6,1968.4 L535.4,1968.4 L535.4,2279.2 Z" fill="#dcdcfd"/>
<path d="M224.3,1934.8V2312.6M212.6,2279.2H548M255.41,1934.8V2312.6M212.6,2248.12H548M286.52,1934.8V2312.6M212.6,2217.04H548M317.63,1934.8V2312.6M212.6,2185.96H548M348.74,1934.8V2312.6M212.6,2154.88H548M379.85,1934.8V2312.6M212.6,2123.8H548M410.96,1934.8V2312.6M212.6,2092.72H548M442.07,1934.8V2312.6M212.6,2061.64H548M473.18,1934.8V2312.6M212.6,2030.56H548M504.29,1934.8V2312.6M212.6,1999.48H548M535.4,1934.8V2312.6M212.6,1968.4H548" fill="none" stroke="#000" stroke-width="1" stroke-opacity="0.075" stroke-dasharray="1.3,1.7"/>
<path d="M224.3,2279.2L535.4,2279.2L535.4,1968.4" fill="none" stroke="#2a2a50" stroke-width="1.1"/>
<defs><clipPath id="rc5"><rect x="212.6" y="1934.8" width="335.4" height="377.8"/></clipPath></defs>
<line x1="162.08" y1="2341.36" x2="597.62" y2="1906.24" stroke="#b4b4b4" stroke-width="1.25" clip-path="url(#rc5)"/>
<path d="M224.3,2279.2 L224.3,2240.35 L234.5,2240.35 L234.5,2220.92 L239.6,2220.92 L239.6,2162.65 L249.8,2162.65 L249.8,2084.95 L290.6,2084.95 L290.6,2065.53 L321.2,2065.53 L321.2,2046.1 L362,2046.1 L362,2026.67 L387.5,2026.67 L387.5,2007.25 L479.3,2007.25 L479.3,1987.83 L494.6,1987.83 L494.6,1968.4 L535.4,1968.4" fill="none" stroke="#15158c" stroke-width="2.1" stroke-linejoin="miter" stroke-linecap="butt"/>
<rect x="212.6" y="1934.8" width="335.4" height="377.8" fill="none" stroke="#333333" stroke-width="1.1"/>
<line x1="224.3" y1="2312.6" x2="224.3" y2="2319.6" stroke="#333" stroke-width="1"/>
<line x1="205.6" y1="2279.2" x2="212.6" y2="2279.2" stroke="#333" stroke-width="1"/>
<text x="224.3" y="2339" font-size="12" text-anchor="middle" fill="#111" font-family="Liberation Sans, Arial, sans-serif">0.0</text>
<text x="195.6" y="2279.2" font-size="12" text-anchor="middle" fill="#111" font-family="Liberation Sans, Arial, sans-serif" transform="rotate(-90 195.6 2279.2)">0.0</text>
<line x1="286.52" y1="2312.6" x2="286.52" y2="2319.6" stroke="#333" stroke-width="1"/>
<line x1="205.6" y1="2217.04" x2="212.6" y2="2217.04" stroke="#333" stroke-width="1"/>
<text x="286.52" y="2339" font-size="12" text-anchor="middle" fill="#111" font-family="Liberation Sans, Arial, sans-serif">0.2</text>
<text x="195.6" y="2217.04" font-size="12" text-anchor="middle" fill="#111" font-family="Liberation Sans, Arial, sans-serif" transform="rotate(-90 195.6 2217.04)">0.2</text>
<line x1="348.74" y1="2312.6" x2="348.74" y2="2319.6" stroke="#333" stroke-width="1"/>
<line x1="205.6" y1="2154.88" x2="212.6" y2="2154.88" stroke="#333" stroke-width="1"/>
<text x="348.74" y="2339" font-size="12" text-anchor="middle" fill="#111" font-family="Liberation Sans, Arial, sans-serif">0.4</text>
<text x="195.6" y="2154.88" font-size="12" text-anchor="middle" fill="#111" font-family="Liberation Sans, Arial, sans-serif" transform="rotate(-90 195.6 2154.88)">0.4</text>
<line x1="410.96" y1="2312.6" x2="410.96" y2="2319.6" stroke="#333" stroke-width="1"/>
<line x1="205.6" y1="2092.72" x2="212.6" y2="2092.72" stroke="#333" stroke-width="1"/>
<text x="410.96" y="2339" font-size="12" text-anchor="middle" fill="#111" font-family="Liberation Sans, Arial, sans-serif">0.6</text>
<text x="195.6" y="2092.72" font-size="12" text-anchor="middle" fill="#111" font-family="Liberation Sans, Arial, sans-serif" transform="rotate(-90 195.6 2092.72)">0.6</text>
<line x1="473.18" y1="2312.6" x2="473.18" y2="2319.6" stroke="#333" stroke-width="1"/>
<line x1="205.6" y1="2030.56" x2="212.6" y2="2030.56" stroke="#333" stroke-width="1"/>
<text x="473.18" y="2339" font-size="12" text-anchor="middle" fill="#111" font-family="Liberation Sans, Arial, sans-serif">0.8</text>
<text x="195.6" y="2030.56" font-size="12" text-anchor="middle" fill="#111" font-family="Liberation Sans, Arial, sans-serif" transform="rotate(-90 195.6 2030.56)">0.8</text>
<line x1="535.4" y1="2312.6" x2="535.4" y2="2319.6" stroke="#333" stroke-width="1"/>
<line x1="205.6" y1="1968.4" x2="212.6" y2="1968.4" stroke="#333" stroke-width="1"/>
<text x="535.4" y="2339" font-size="12" text-anchor="middle" fill="#111" font-family="Liberation Sans, Arial, sans-serif">1.0</text>
<text x="195.6" y="1968.4" font-size="12" text-anchor="middle" fill="#111" font-family="Liberation Sans, Arial, sans-serif" transform="rotate(-90 195.6 1968.4)">1.0</text>
<text x="380.3" y="2359.8" font-size="12.1" text-anchor="middle" fill="#111" font-family="Liberation Sans, Arial, sans-serif">False positive rate</text>
<text x="172.1" y="2123.7" font-size="12" text-anchor="middle" fill="#111" font-family="Liberation Sans, Arial, sans-serif" transform="rotate(-90 172.1 2123.7)">True positive rate</text>
<circle cx="290.6" cy="2065.53" r="3" fill="#ee0000"/>
<text x="294.7" y="2076.8" font-size="12" fill="#111" font-family="Liberation Sans, Arial, sans-serif">45300(0.8, 0.7)</text>
<text x="380.1" y="2132.9" font-size="12" fill="#15158c" font-family="Liberation Sans, Arial, sans-serif" xml:space="preserve" >AUC: 0.774</text>
<text x="380.1" y="2147.2" font-size="12" fill="#15158c" font-family="Liberation Sans, Arial, sans-serif" xml:space="preserve" >(0.617−</text>
<text x="510.2" y="2147.2" font-size="12" fill="#15158c" font-family="Liberation Sans, Arial, sans-serif" xml:space="preserve" >0.908)</text>
<text x="398" y="911.8" font-size="12" fill="#111" font-family="Liberation Sans, Arial, sans-serif">5−</text>
<text x="435.9" y="911.8" font-size="12" fill="#111" font-family="Liberation Sans, Arial, sans-serif">Oxoavermectin &quot;1a&quot; aglycone</text>
<text x="1092" y="904.5" font-size="12" fill="#111" font-family="Liberation Sans, Arial, sans-serif">trans−</text>
<text x="1149.9" y="904.5" font-size="12" fill="#111" font-family="Liberation Sans, Arial, sans-serif">4−</text>
<text x="1187.5" y="904.5" font-size="12" fill="#111" font-family="Liberation Sans, Arial, sans-serif">Aminocyclohexanecarboxylic acid</text>
<text x="434.3" y="1402.9" font-size="12" fill="#111" font-family="Liberation Sans, Arial, sans-serif">Met Val Trp Arg</text>
<text x="1167.2" y="1400.4" font-size="12" fill="#111" font-family="Liberation Sans, Arial, sans-serif">Thapsigargin</text>
<text x="260.6" y="1902.8" font-size="12" fill="#111" font-family="Liberation Sans, Arial, sans-serif">2−</text>
<text x="364.7" y="1902.8" font-size="12" fill="#111" font-family="Liberation Sans, Arial, sans-serif">Hydroxy−</text>
<text x="503.4" y="1902.8" font-size="12" fill="#111" font-family="Liberation Sans, Arial, sans-serif">2−</text>
<text x="604.8" y="1902.8" font-size="12" fill="#111" font-family="Liberation Sans, Arial, sans-serif">[(8S,11S)−</text>
<text x="753.7" y="1902.8" font-size="12" fill="#111" font-family="Liberation Sans, Arial, sans-serif">8−</text>
<defs><clipPath id="rclip"><rect x="154" y="1880" width="40" height="30"/></clipPath></defs>
<text x="147.4" y="1902.8" font-size="12" fill="#111" font-family="Liberation Sans, Arial, sans-serif" clip-path="url(#rclip)">(R)−</text>
<rect x="619.3" y="943.3" width="157.2" height="385.9" fill="none" stroke="#333333" stroke-width="1.1"/>
<line x1="611.3" y1="1293.2" x2="619.3" y2="1293.2" stroke="#333" stroke-width="1"/>
<text x="602.8" y="1293.2" font-size="12" text-anchor="middle" fill="#111" font-family="Liberation Sans, Arial, sans-serif" transform="rotate(-90 602.8 1293.2)">0</text>
<line x1="611.3" y1="1230.26" x2="619.3" y2="1230.26" stroke="#333" stroke-width="1"/>
<text x="602.8" y="1230.26" font-size="12" text-anchor="middle" fill="#111" font-family="Liberation Sans, Arial, sans-serif" transform="rotate(-90 602.8 1230.26)">2000</text>
<line x1="611.3" y1="1167.32" x2="619.3" y2="1167.32" stroke="#333" stroke-width="1"/>
<text x="602.8" y="1167.32" font-size="12" text-anchor="middle" fill="#111" font-family="Liberation Sans, Arial, sans-serif" transform="rotate(-90 602.8 1167.32)">4000</text>
<line x1="611.3" y1="1104.38" x2="619.3" y2="1104.38" stroke="#333" stroke-width="1"/>
<text x="602.8" y="1104.38" font-size="12" text-anchor="middle" fill="#111" font-family="Liberation Sans, Arial, sans-serif" transform="rotate(-90 602.8 1104.38)">6000</text>
<line x1="611.3" y1="1041.44" x2="619.3" y2="1041.44" stroke="#333" stroke-width="1"/>
<text x="602.8" y="1041.44" font-size="12" text-anchor="middle" fill="#111" font-family="Liberation Sans, Arial, sans-serif" transform="rotate(-90 602.8 1041.44)">8000</text>
<line x1="611.3" y1="978.5" x2="619.3" y2="978.5" stroke="#333" stroke-width="1"/>
<text x="602.8" y="978.5" font-size="12" text-anchor="middle" fill="#111" font-family="Liberation Sans, Arial, sans-serif" transform="rotate(-90 602.8 978.5)">10000</text>
<line x1="661.4" y1="1329.2" x2="661.4" y2="1336.2" stroke="#333" stroke-width="1"/>
<text x="661.4" y="1355.3" font-size="12" text-anchor="middle" fill="#111" font-family="Liberation Sans, Arial, sans-serif">F1</text>
<line x1="733.8" y1="1329.2" x2="733.8" y2="1336.2" stroke="#333" stroke-width="1"/>
<text x="733.8" y="1355.3" font-size="12" text-anchor="middle" fill="#111" font-family="Liberation Sans, Arial, sans-serif">T1</text>
<line x1="661.4" y1="1209" x2="661.4" y2="1146.6" stroke="#000" stroke-width="0.9" stroke-dasharray="2.6,2.2"/>
<line x1="661.4" y1="1274" x2="661.4" y2="1289" stroke="#000" stroke-width="0.9" stroke-dasharray="2.6,2.2"/>
<line x1="652.4" y1="1146.6" x2="670.4" y2="1146.6" stroke="#000" stroke-width="1"/>
<line x1="652.4" y1="1289" x2="670.4" y2="1289" stroke="#000" stroke-width="1"/>
<rect x="643.3" y="1209" width="36" height="65" fill="#dcdcfd" stroke="#000" stroke-width="0.9"/>
<line x1="643.3" y1="1264" x2="679.3" y2="1264" stroke="#000" stroke-width="2.6"/>
<line x1="733.8" y1="1087.6" x2="733.8" y2="982.9" stroke="#000" stroke-width="0.9" stroke-dasharray="2.6,2.2"/>
<line x1="733.8" y1="1251" x2="733.8" y2="1274" stroke="#000" stroke-width="0.9" stroke-dasharray="2.6,2.2"/>
<line x1="724.4" y1="982.9" x2="743.2" y2="982.9" stroke="#000" stroke-width="1"/>
<line x1="724.4" y1="1274" x2="743.2" y2="1274" stroke="#000" stroke-width="1"/>
<rect x="715.7" y="1087.6" width="36.8" height="163.4" fill="#dcdcfd" stroke="#000" stroke-width="0.9"/>
<line x1="715.7" y1="1177" x2="752.5" y2="1177" stroke="#000" stroke-width="2.6"/>
<line x1="589.8" y1="1200" x2="802" y2="1200" stroke="#f03030" stroke-width="1.1" stroke-dasharray="3.4,3.3"/>
<circle cx="667.61" cy="989.14" r="2.6" fill="none" stroke="#000" stroke-width="0.85"/>
<circle cx="656.17" cy="1004.34" r="2.6" fill="none" stroke="#000" stroke-width="0.85"/>
<circle cx="661.37" cy="1063.06" r="2.6" fill="none" stroke="#000" stroke-width="0.85"/>
<circle cx="661.79" cy="1095.75" r="2.6" fill="none" stroke="#000" stroke-width="0.85"/>
<circle cx="662.83" cy="1108.87" r="2.6" fill="none" stroke="#000" stroke-width="0.85"/>
<circle cx="665.74" cy="1146.57" r="2.6" fill="none" stroke="#000" stroke-width="0.85"/>
<circle cx="662.62" cy="1176.76" r="2.6" fill="none" stroke="#000" stroke-width="0.85"/>
<circle cx="667.82" cy="1176.76" r="2.6" fill="none" stroke="#000" stroke-width="0.85"/>
<circle cx="661.58" cy="1184.46" r="2.6" fill="none" stroke="#000" stroke-width="0.85"/>
<circle cx="662.41" cy="1183.42" r="2.6" fill="none" stroke="#000" stroke-width="0.85"/>
<circle cx="667.61" cy="1193.42" r="2.6" fill="none" stroke="#000" stroke-width="0.85"/>
<circle cx="660.74" cy="1201.12" r="2.6" fill="none" stroke="#000" stroke-width="0.85"/>
<circle cx="667.61" cy="1204.87" r="2.6" fill="none" stroke="#000" stroke-width="0.85"/>
<circle cx="666.78" cy="1206.33" r="2.6" fill="none" stroke="#000" stroke-width="0.85"/>
<circle cx="662.41" cy="1209.04" r="2.6" fill="none" stroke="#000" stroke-width="0.85"/>
<circle cx="655.75" cy="1221.53" r="2.6" fill="none" stroke="#000" stroke-width="0.85"/>
<circle cx="668.24" cy="1219.87" r="2.6" fill="none" stroke="#000" stroke-width="0.85"/>
<circle cx="657" cy="1231.74" r="2.6" fill="none" stroke="#000" stroke-width="0.85"/>
<circle cx="660.74" cy="1232.36" r="2.6" fill="none" stroke="#000" stroke-width="0.85"/>
<circle cx="654.71" cy="1235.48" r="2.6" fill="none" stroke="#000" stroke-width="0.85"/>
<circle cx="660.33" cy="1235.48" r="2.6" fill="none" stroke="#000" stroke-width="0.85"/>
<circle cx="656.17" cy="1245.9" r="2.6" fill="none" stroke="#000" stroke-width="0.85"/>
<circle cx="659.91" cy="1246.52" r="2.6" fill="none" stroke="#000" stroke-width="0.85"/>
<circle cx="659.29" cy="1249.02" r="2.6" fill="none" stroke="#000" stroke-width="0.85"/>
<circle cx="658.87" cy="1250.06" r="2.6" fill="none" stroke="#000" stroke-width="0.85"/>
<circle cx="662.83" cy="1253.18" r="2.6" fill="none" stroke="#000" stroke-width="0.85"/>
<circle cx="659.5" cy="1261.51" r="2.6" fill="none" stroke="#000" stroke-width="0.85"/>
<circle cx="665.12" cy="1263.18" r="2.6" fill="none" stroke="#000" stroke-width="0.85"/>
<circle cx="657.83" cy="1266.72" r="2.6" fill="none" stroke="#000" stroke-width="0.85"/>
<circle cx="661.99" cy="1266.72" r="2.6" fill="none" stroke="#000" stroke-width="0.85"/>
<circle cx="667.2" cy="1266.72" r="2.6" fill="none" stroke="#000" stroke-width="0.85"/>
<circle cx="655.75" cy="1269.84" r="2.6" fill="none" stroke="#000" stroke-width="0.85"/>
<circle cx="660.54" cy="1269.84" r="2.6" fill="none" stroke="#000" stroke-width="0.85"/>
<circle cx="664.08" cy="1270.47" r="2.6" fill="none" stroke="#000" stroke-width="0.85"/>
<circle cx="668.24" cy="1270.88" r="2.6" fill="none" stroke="#000" stroke-width="0.85"/>
<circle cx="654.92" cy="1274.01" r="2.6" fill="none" stroke="#000" stroke-width="0.85"/>
<circle cx="657.83" cy="1272.97" r="2.6" fill="none" stroke="#000" stroke-width="0.85"/>
<circle cx="661.99" cy="1274.01" r="2.6" fill="none" stroke="#000" stroke-width="0.85"/>
<circle cx="665.12" cy="1274.01" r="2.6" fill="none" stroke="#000" stroke-width="0.85"/>
<circle cx="666.57" cy="1276.09" r="2.6" fill="none" stroke="#000" stroke-width="0.85"/>
<circle cx="659.91" cy="1277.13" r="2.6" fill="none" stroke="#000" stroke-width="0.85"/>
<circle cx="663.66" cy="1278.17" r="2.6" fill="none" stroke="#000" stroke-width="0.85"/>
<circle cx="656.17" cy="1284.84" r="2.6" fill="none" stroke="#000" stroke-width="0.85"/>
<circle cx="667.61" cy="1282.34" r="2.6" fill="none" stroke="#000" stroke-width="0.85"/>
<circle cx="656.37" cy="1288.58" r="2.6" fill="none" stroke="#000" stroke-width="0.85"/>
<circle cx="668.24" cy="1289" r="2.6" fill="none" stroke="#000" stroke-width="0.85"/>
<circle cx="658.25" cy="1271.93" r="2.6" fill="none" stroke="#000" stroke-width="0.85"/>
<circle cx="665.74" cy="1271.93" r="2.6" fill="none" stroke="#000" stroke-width="0.85"/>
<circle cx="663.03" cy="1268.8" r="2.6" fill="none" stroke="#000" stroke-width="0.85"/>
<circle cx="733.81" cy="982.89" r="2.8" fill="#000"/>
<circle cx="735.47" cy="1001.63" r="2.8" fill="#000"/>
<circle cx="732.76" cy="1035.78" r="2.8" fill="#000"/>
<circle cx="729.23" cy="1087.63" r="2.8" fill="#000"/>
<circle cx="734.43" cy="1088.26" r="2.8" fill="#000"/>
<circle cx="736.93" cy="1089.72" r="2.8" fill="#000"/>
<circle cx="727.77" cy="1146.57" r="2.8" fill="#000"/>
<circle cx="739.43" cy="1156.98" r="2.8" fill="#000"/>
<circle cx="734.43" cy="1198" r="2.8" fill="#000"/>
<circle cx="733.81" cy="1221.95" r="2.8" fill="#000"/>
<circle cx="728.19" cy="1249.02" r="2.8" fill="#000"/>
<circle cx="729.64" cy="1254.23" r="2.8" fill="#000"/>
<circle cx="740.67" cy="1261.1" r="2.8" fill="#000"/>
<circle cx="731.31" cy="1271.93" r="2.8" fill="#000"/>
<circle cx="730.27" cy="1274.01" r="2.8" fill="#000"/>
<rect x="1346.6" y="936.7" width="160.7" height="395.2" fill="none" stroke="#333333" stroke-width="1.1"/>
<line x1="1338.6" y1="1291.7" x2="1346.6" y2="1291.7" stroke="#333" stroke-width="1"/>
<text x="1329.1" y="1291.7" font-size="12" text-anchor="middle" fill="#111" font-family="Liberation Sans, Arial, sans-serif" transform="rotate(-90 1329.1 1291.7)">0</text>
<line x1="1338.6" y1="1231.65" x2="1346.6" y2="1231.65" stroke="#333" stroke-width="1"/>
<text x="1329.1" y="1231.65" font-size="12" text-anchor="middle" fill="#111" font-family="Liberation Sans, Arial, sans-serif" transform="rotate(-90 1329.1 1231.65)">100</text>
<line x1="1338.6" y1="1171.6" x2="1346.6" y2="1171.6" stroke="#333" stroke-width="1"/>
<text x="1329.1" y="1171.6" font-size="12" text-anchor="middle" fill="#111" font-family="Liberation Sans, Arial, sans-serif" transform="rotate(-90 1329.1 1171.6)">200</text>
<line x1="1338.6" y1="1111.55" x2="1346.6" y2="1111.55" stroke="#333" stroke-width="1"/>
<text x="1329.1" y="1111.55" font-size="12" text-anchor="middle" fill="#111" font-family="Liberation Sans, Arial, sans-serif" transform="rotate(-90 1329.1 1111.55)">300</text>
<line x1="1338.6" y1="1051.5" x2="1346.6" y2="1051.5" stroke="#333" stroke-width="1"/>
<text x="1329.1" y="1051.5" font-size="12" text-anchor="middle" fill="#111" font-family="Liberation Sans, Arial, sans-serif" transform="rotate(-90 1329.1 1051.5)">400</text>
<line x1="1338.6" y1="991.45" x2="1346.6" y2="991.45" stroke="#333" stroke-width="1"/>
<text x="1329.1" y="991.45" font-size="12" text-anchor="middle" fill="#111" font-family="Liberation Sans, Arial, sans-serif" transform="rotate(-90 1329.1 991.45)">500</text>
<line x1="1389.3" y1="1331.9" x2="1389.3" y2="1338.9" stroke="#333" stroke-width="1"/>
<text x="1389.3" y="1358.5" font-size="12" text-anchor="middle" fill="#111" font-family="Liberation Sans, Arial, sans-serif">F1</text>
<line x1="1463.8" y1="1331.9" x2="1463.8" y2="1338.9" stroke="#333" stroke-width="1"/>
<text x="1463.8" y="1358.5" font-size="12" text-anchor="middle" fill="#111" font-family="Liberation Sans, Arial, sans-serif">T1</text>
<line x1="1389.3" y1="1199.5" x2="1389.3" y2="1093.3" stroke="#000" stroke-width="0.9" stroke-dasharray="2.6,2.2"/>
<line x1="1389.3" y1="1274" x2="1389.3" y2="1291" stroke="#000" stroke-width="0.9" stroke-dasharray="2.6,2.2"/>
<line x1="1380" y1="1093.3" x2="1398.6" y2="1093.3" stroke="#000" stroke-width="1"/>
<line x1="1380" y1="1291" x2="1398.6" y2="1291" stroke="#000" stroke-width="1"/>
<rect x="1371" y="1199.5" width="37" height="74.5" fill="#dcdcfd" stroke="#000" stroke-width="0.9"/>
<line x1="1371" y1="1254.6" x2="1408" y2="1254.6" stroke="#000" stroke-width="2.6"/>
<line x1="1463.8" y1="1275" x2="1463.8" y2="1272.5" stroke="#000" stroke-width="0.9" stroke-dasharray="2.6,2.2"/>
<line x1="1463.8" y1="1288" x2="1463.8" y2="1291" stroke="#000" stroke-width="0.9" stroke-dasharray="2.6,2.2"/>
<line x1="1454.5" y1="1272.5" x2="1473.1" y2="1272.5" stroke="#000" stroke-width="1"/>
<line x1="1454.5" y1="1291" x2="1473.1" y2="1291" stroke="#000" stroke-width="1"/>
<rect x="1445.5" y="1275" width="37.1" height="13" fill="#dcdcfd" stroke="#000" stroke-width="0.9"/>
<line x1="1445.5" y1="1280.2" x2="1482.6" y2="1280.2" stroke="#000" stroke-width="2.6"/>
<line x1="1317.1" y1="1272.5" x2="1532.8" y2="1272.5" stroke="#f03030" stroke-width="1.1" stroke-dasharray="3.4,3.3"/>
<circle cx="1395.52" cy="977.27" r="2.6" fill="none" stroke="#000" stroke-width="0.85"/>
<circle cx="1381.58" cy="1093.26" r="2.6" fill="none" stroke="#000" stroke-width="0.85"/>
<circle cx="1386.57" cy="1095.96" r="2.6" fill="none" stroke="#000" stroke-width="0.85"/>
<circle cx="1385.74" cy="1105.75" r="2.6" fill="none" stroke="#000" stroke-width="0.85"/>
<circle cx="1387.82" cy="1113.66" r="2.6" fill="none" stroke="#000" stroke-width="0.85"/>
<circle cx="1393.03" cy="1116.16" r="2.6" fill="none" stroke="#000" stroke-width="0.85"/>
<circle cx="1386.78" cy="1123.66" r="2.6" fill="none" stroke="#000" stroke-width="0.85"/>
<circle cx="1393.03" cy="1125.53" r="2.6" fill="none" stroke="#000" stroke-width="0.85"/>
<circle cx="1385.12" cy="1132.82" r="2.6" fill="none" stroke="#000" stroke-width="0.85"/>
<circle cx="1385.12" cy="1141.15" r="2.6" fill="none" stroke="#000" stroke-width="0.85"/>
<circle cx="1387.2" cy="1149.06" r="2.6" fill="none" stroke="#000" stroke-width="0.85"/>
<circle cx="1394.07" cy="1166.14" r="2.6" fill="none" stroke="#000" stroke-width="0.85"/>
<circle cx="1393.86" cy="1189.05" r="2.6" fill="none" stroke="#000" stroke-width="0.85"/>
<circle cx="1393.44" cy="1195.92" r="2.6" fill="none" stroke="#000" stroke-width="0.85"/>
<circle cx="1396.56" cy="1199.04" r="2.6" fill="none" stroke="#000" stroke-width="0.85"/>
<circle cx="1390.74" cy="1203.62" r="2.6" fill="none" stroke="#000" stroke-width="0.85"/>
<circle cx="1393.44" cy="1215.28" r="2.6" fill="none" stroke="#000" stroke-width="0.85"/>
<circle cx="1383.03" cy="1218.82" r="2.6" fill="none" stroke="#000" stroke-width="0.85"/>
<circle cx="1383.45" cy="1221.53" r="2.6" fill="none" stroke="#000" stroke-width="0.85"/>
<circle cx="1392.82" cy="1219.24" r="2.6" fill="none" stroke="#000" stroke-width="0.85"/>
<circle cx="1394.07" cy="1230.28" r="2.6" fill="none" stroke="#000" stroke-width="0.85"/>
<circle cx="1384.08" cy="1232.36" r="2.6" fill="none" stroke="#000" stroke-width="0.85"/>
<circle cx="1382.62" cy="1238.19" r="2.6" fill="none" stroke="#000" stroke-width="0.85"/>
<circle cx="1383.66" cy="1240.27" r="2.6" fill="none" stroke="#000" stroke-width="0.85"/>
<circle cx="1391.36" cy="1238.61" r="2.6" fill="none" stroke="#000" stroke-width="0.85"/>
<circle cx="1387.2" cy="1252.14" r="2.6" fill="none" stroke="#000" stroke-width="0.85"/>
<circle cx="1394.9" cy="1247.98" r="2.6" fill="none" stroke="#000" stroke-width="0.85"/>
<circle cx="1387.61" cy="1255.68" r="2.6" fill="none" stroke="#000" stroke-width="0.85"/>
<circle cx="1394.48" cy="1255.68" r="2.6" fill="none" stroke="#000" stroke-width="0.85"/>
<circle cx="1381.37" cy="1261.93" r="2.6" fill="none" stroke="#000" stroke-width="0.85"/>
<circle cx="1386.57" cy="1265.68" r="2.6" fill="none" stroke="#000" stroke-width="0.85"/>
<circle cx="1396.15" cy="1265.68" r="2.6" fill="none" stroke="#000" stroke-width="0.85"/>
<circle cx="1381.99" cy="1267.34" r="2.6" fill="none" stroke="#000" stroke-width="0.85"/>
<circle cx="1390.32" cy="1268.39" r="2.6" fill="none" stroke="#000" stroke-width="0.85"/>
<circle cx="1384.08" cy="1270.88" r="2.6" fill="none" stroke="#000" stroke-width="0.85"/>
<circle cx="1394.48" cy="1269.84" r="2.6" fill="none" stroke="#000" stroke-width="0.85"/>
<circle cx="1389.28" cy="1274.01" r="2.6" fill="none" stroke="#000" stroke-width="0.85"/>
<circle cx="1386.57" cy="1275.05" r="2.6" fill="none" stroke="#000" stroke-width="0.85"/>
<circle cx="1394.07" cy="1278.17" r="2.6" fill="none" stroke="#000" stroke-width="0.85"/>
<circle cx="1385.12" cy="1278.59" r="2.6" fill="none" stroke="#000" stroke-width="0.85"/>
<circle cx="1388.24" cy="1278.17" r="2.6" fill="none" stroke="#000" stroke-width="0.85"/>
<circle cx="1393.44" cy="1284.42" r="2.6" fill="none" stroke="#000" stroke-width="0.85"/>
<circle cx="1387.82" cy="1286.92" r="2.6" fill="none" stroke="#000" stroke-width="0.85"/>
<circle cx="1386.16" cy="1288.58" r="2.6" fill="none" stroke="#000" stroke-width="0.85"/>
<circle cx="1392.4" cy="1287.54" r="2.6" fill="none" stroke="#000" stroke-width="0.85"/>
<circle cx="1386.57" cy="1291.71" r="2.6" fill="none" stroke="#000" stroke-width="0.85"/>
<circle cx="1396.56" cy="1291.08" r="2.6" fill="none" stroke="#000" stroke-width="0.85"/>
<circle cx="1394.07" cy="1289.63" r="2.6" fill="none" stroke="#000" stroke-width="0.85"/>
<circle cx="1459.01" cy="1200.5" r="2.8" fill="#000"/>
<circle cx="1464.84" cy="1236.94" r="2.8" fill="#000"/>
<circle cx="1464.42" cy="1246.94" r="2.8" fill="#000"/>
<circle cx="1457.97" cy="1273.38" r="2.8" fill="#000"/>
<circle cx="1464.21" cy="1275.05" r="2.8" fill="#000"/>
<circle cx="1469.42" cy="1276.51" r="2.8" fill="#000"/>
<circle cx="1456.93" cy="1278.17" r="2.8" fill="#000"/>
<circle cx="1461.09" cy="1282.34" r="2.8" fill="#000"/>
<circle cx="1456.93" cy="1284.84" r="2.8" fill="#000"/>
<circle cx="1467.34" cy="1283.38" r="2.8" fill="#000"/>
<circle cx="1463.17" cy="1288.58" r="2.8" fill="#000"/>
<circle cx="1461.09" cy="1291.71" r="2.8" fill="#000"/>
<circle cx="1469.83" cy="1290.25" r="2.8" fill="#000"/>
<circle cx="1471.5" cy="1288.58" r="2.8" fill="#000"/>
<circle cx="1468.38" cy="1286.5" r="2.8" fill="#000"/>
<rect x="614.8" y="1434.3" width="160.9" height="394.2" fill="none" stroke="#333333" stroke-width="1.1"/>
<line x1="606.8" y1="1800.9" x2="614.8" y2="1800.9" stroke="#333" stroke-width="1"/>
<text x="598" y="1800.9" font-size="12" text-anchor="middle" fill="#111" font-family="Liberation Sans, Arial, sans-serif" transform="rotate(-90 598 1800.9)">0.0e+00</text>
<line x1="606.8" y1="1741.8" x2="614.8" y2="1741.8" stroke="#333" stroke-width="1"/>
<text x="598" y="1741.8" font-size="12" text-anchor="middle" fill="#111" font-family="Liberation Sans, Arial, sans-serif" transform="rotate(-90 598 1741.8)">2.0e+06</text>
<line x1="606.8" y1="1682.7" x2="614.8" y2="1682.7" stroke="#333" stroke-width="1"/>
<text x="598" y="1682.7" font-size="12" text-anchor="middle" fill="#111" font-family="Liberation Sans, Arial, sans-serif" transform="rotate(-90 598 1682.7)">4.0e+06</text>
<line x1="606.8" y1="1623.6" x2="614.8" y2="1623.6" stroke="#333" stroke-width="1"/>
<text x="598" y="1623.6" font-size="12" text-anchor="middle" fill="#111" font-family="Liberation Sans, Arial, sans-serif" transform="rotate(-90 598 1623.6)">6.0e+06</text>
<line x1="606.8" y1="1564.5" x2="614.8" y2="1564.5" stroke="#333" stroke-width="1"/>
<text x="598" y="1564.5" font-size="12" text-anchor="middle" fill="#111" font-family="Liberation Sans, Arial, sans-serif" transform="rotate(-90 598 1564.5)">8.0e+06</text>
<line x1="606.8" y1="1505.4" x2="614.8" y2="1505.4" stroke="#333" stroke-width="1"/>
<text x="598" y="1505.4" font-size="12" text-anchor="middle" fill="#111" font-family="Liberation Sans, Arial, sans-serif" transform="rotate(-90 598 1505.4)">1.0e+07</text>
<line x1="606.8" y1="1446.3" x2="614.8" y2="1446.3" stroke="#333" stroke-width="1"/>
<text x="598" y="1446.3" font-size="12" text-anchor="middle" fill="#111" font-family="Liberation Sans, Arial, sans-serif" transform="rotate(-90 598 1446.3)">1.2e+07</text>
<line x1="658.3" y1="1828.5" x2="658.3" y2="1835.5" stroke="#333" stroke-width="1"/>
<text x="658.3" y="1855.2" font-size="12" text-anchor="middle" fill="#111" font-family="Liberation Sans, Arial, sans-serif">F1</text>
<line x1="732.4" y1="1828.5" x2="732.4" y2="1835.5" stroke="#333" stroke-width="1"/>
<text x="732.4" y="1855.2" font-size="12" text-anchor="middle" fill="#111" font-family="Liberation Sans, Arial, sans-serif">T1</text>
<line x1="658.3" y1="1676.4" x2="658.3" y2="1571.2" stroke="#000" stroke-width="0.9" stroke-dasharray="2.6,2.2"/>
<line x1="658.3" y1="1771.1" x2="658.3" y2="1787.9" stroke="#000" stroke-width="0.9" stroke-dasharray="2.6,2.2"/>
<line x1="649" y1="1571.2" x2="667.6" y2="1571.2" stroke="#000" stroke-width="1"/>
<line x1="649" y1="1787.9" x2="667.6" y2="1787.9" stroke="#000" stroke-width="1"/>
<rect x="639.6" y="1676.4" width="37.1" height="94.7" fill="#dcdcfd" stroke="#000" stroke-width="0.9"/>
<line x1="639.6" y1="1723.1" x2="676.7" y2="1723.1" stroke="#000" stroke-width="2.6"/>
<line x1="732.4" y1="1626.4" x2="732.4" y2="1604.7" stroke="#000" stroke-width="0.9" stroke-dasharray="2.6,2.2"/>
<line x1="732.4" y1="1680.7" x2="732.4" y2="1735.7" stroke="#000" stroke-width="0.9" stroke-dasharray="2.6,2.2"/>
<line x1="723.1" y1="1604.7" x2="741.7" y2="1604.7" stroke="#000" stroke-width="1"/>
<line x1="723.1" y1="1735.7" x2="741.7" y2="1735.7" stroke="#000" stroke-width="1"/>
<rect x="713.7" y="1626.4" width="37.6" height="54.3" fill="#dcdcfd" stroke="#000" stroke-width="0.9"/>
<line x1="713.7" y1="1643.4" x2="751.3" y2="1643.4" stroke="#000" stroke-width="2.6"/>
<line x1="585.3" y1="1672.7" x2="801.2" y2="1672.7" stroke="#f03030" stroke-width="1.1" stroke-dasharray="3.4,3.3"/>
<circle cx="658.26" cy="1475.4" r="2.6" fill="none" stroke="#000" stroke-width="0.85"/>
<circle cx="652.39" cy="1571.22" r="2.6" fill="none" stroke="#000" stroke-width="0.85"/>
<circle cx="660.43" cy="1595.56" r="2.6" fill="none" stroke="#000" stroke-width="0.85"/>
<circle cx="660" cy="1600.99" r="2.6" fill="none" stroke="#000" stroke-width="0.85"/>
<circle cx="663.26" cy="1603.17" r="2.6" fill="none" stroke="#000" stroke-width="0.85"/>
<circle cx="661.09" cy="1625.98" r="2.6" fill="none" stroke="#000" stroke-width="0.85"/>
<circle cx="660.43" cy="1634.67" r="2.6" fill="none" stroke="#000" stroke-width="0.85"/>
<circle cx="660.43" cy="1641.19" r="2.6" fill="none" stroke="#000" stroke-width="0.85"/>
<circle cx="663.91" cy="1643.8" r="2.6" fill="none" stroke="#000" stroke-width="0.85"/>
<circle cx="658.91" cy="1649.88" r="2.6" fill="none" stroke="#000" stroke-width="0.85"/>
<circle cx="655" cy="1655.97" r="2.6" fill="none" stroke="#000" stroke-width="0.85"/>
<circle cx="654.13" cy="1669.87" r="2.6" fill="none" stroke="#000" stroke-width="0.85"/>
<circle cx="660" cy="1674.22" r="2.6" fill="none" stroke="#000" stroke-width="0.85"/>
<circle cx="651.3" cy="1679.22" r="2.6" fill="none" stroke="#000" stroke-width="0.85"/>
<circle cx="653.91" cy="1677.04" r="2.6" fill="none" stroke="#000" stroke-width="0.85"/>
<circle cx="655.65" cy="1683.56" r="2.6" fill="none" stroke="#000" stroke-width="0.85"/>
<circle cx="665" cy="1683.13" r="2.6" fill="none" stroke="#000" stroke-width="0.85"/>
<circle cx="664.35" cy="1687.91" r="2.6" fill="none" stroke="#000" stroke-width="0.85"/>
<circle cx="658.91" cy="1690.08" r="2.6" fill="none" stroke="#000" stroke-width="0.85"/>
<circle cx="661.52" cy="1695.51" r="2.6" fill="none" stroke="#000" stroke-width="0.85"/>
<circle cx="653.04" cy="1703.77" r="2.6" fill="none" stroke="#000" stroke-width="0.85"/>
<circle cx="653.48" cy="1706.38" r="2.6" fill="none" stroke="#000" stroke-width="0.85"/>
<circle cx="660.65" cy="1713.98" r="2.6" fill="none" stroke="#000" stroke-width="0.85"/>
<circle cx="656.3" cy="1721.15" r="2.6" fill="none" stroke="#000" stroke-width="0.85"/>
<circle cx="662.17" cy="1721.15" r="2.6" fill="none" stroke="#000" stroke-width="0.85"/>
<circle cx="664.35" cy="1721.15" r="2.6" fill="none" stroke="#000" stroke-width="0.85"/>
<circle cx="661.09" cy="1729.19" r="2.6" fill="none" stroke="#000" stroke-width="0.85"/>
<circle cx="658.26" cy="1735.28" r="2.6" fill="none" stroke="#000" stroke-width="0.85"/>
<circle cx="661.74" cy="1746.58" r="2.6" fill="none" stroke="#000" stroke-width="0.85"/>
<circle cx="662.61" cy="1750.92" r="2.6" fill="none" stroke="#000" stroke-width="0.85"/>
<circle cx="656.74" cy="1753.75" r="2.6" fill="none" stroke="#000" stroke-width="0.85"/>
<circle cx="650.87" cy="1759.61" r="2.6" fill="none" stroke="#000" stroke-width="0.85"/>
<circle cx="660.65" cy="1760.7" r="2.6" fill="none" stroke="#000" stroke-width="0.85"/>
<circle cx="665.43" cy="1762.87" r="2.6" fill="none" stroke="#000" stroke-width="0.85"/>
<circle cx="652.39" cy="1765.05" r="2.6" fill="none" stroke="#000" stroke-width="0.85"/>
<circle cx="655.65" cy="1766.79" r="2.6" fill="none" stroke="#000" stroke-width="0.85"/>
<circle cx="653.04" cy="1769.39" r="2.6" fill="none" stroke="#000" stroke-width="0.85"/>
<circle cx="658.91" cy="1769.39" r="2.6" fill="none" stroke="#000" stroke-width="0.85"/>
<circle cx="662.17" cy="1770.48" r="2.6" fill="none" stroke="#000" stroke-width="0.85"/>
<circle cx="654.56" cy="1773.74" r="2.6" fill="none" stroke="#000" stroke-width="0.85"/>
<circle cx="657.83" cy="1774.17" r="2.6" fill="none" stroke="#000" stroke-width="0.85"/>
<circle cx="661.09" cy="1774.83" r="2.6" fill="none" stroke="#000" stroke-width="0.85"/>
<circle cx="650.87" cy="1780.26" r="2.6" fill="none" stroke="#000" stroke-width="0.85"/>
<circle cx="656.74" cy="1780.26" r="2.6" fill="none" stroke="#000" stroke-width="0.85"/>
<circle cx="661.09" cy="1780.69" r="2.6" fill="none" stroke="#000" stroke-width="0.85"/>
<circle cx="653.91" cy="1786.78" r="2.6" fill="none" stroke="#000" stroke-width="0.85"/>
<circle cx="657.39" cy="1787.21" r="2.6" fill="none" stroke="#000" stroke-width="0.85"/>
<circle cx="662.17" cy="1787.21" r="2.6" fill="none" stroke="#000" stroke-width="0.85"/>
<circle cx="651.3" cy="1780.26" r="2.6" fill="none" stroke="#000" stroke-width="0.85"/>
<circle cx="728.04" cy="1478.22" r="2.8" fill="#000"/>
<circle cx="735.65" cy="1486.26" r="2.8" fill="#000"/>
<circle cx="729.13" cy="1604.69" r="2.8" fill="#000"/>
<circle cx="735" cy="1622.07" r="2.8" fill="#000"/>
<circle cx="725.65" cy="1631.41" r="2.8" fill="#000"/>
<circle cx="734.56" cy="1630.76" r="2.8" fill="#000"/>
<circle cx="726.96" cy="1637.28" r="2.8" fill="#000"/>
<circle cx="732.39" cy="1639.67" r="2.8" fill="#000"/>
<circle cx="728.04" cy="1647.71" r="2.8" fill="#000"/>
<circle cx="730.65" cy="1652.49" r="2.8" fill="#000"/>
<circle cx="726.3" cy="1664.66" r="2.8" fill="#000"/>
<circle cx="725.65" cy="1670.53" r="2.8" fill="#000"/>
<circle cx="738.26" cy="1690.08" r="2.8" fill="#000"/>
<circle cx="736.09" cy="1735.71" r="2.8" fill="#000"/>
<circle cx="727.39" cy="1764.61" r="2.8" fill="#000"/>
<circle cx="734.56" cy="1768.31" r="2.8" fill="#000"/>
<rect x="1343.7" y="1433" width="163.5" height="400.5" fill="none" stroke="#333333" stroke-width="1.1"/>
<line x1="1335.7" y1="1799.4" x2="1343.7" y2="1799.4" stroke="#333" stroke-width="1"/>
<text x="1325.6" y="1799.4" font-size="12" text-anchor="middle" fill="#111" font-family="Liberation Sans, Arial, sans-serif" transform="rotate(-90 1325.6 1799.4)">0e+00</text>
<line x1="1335.7" y1="1714.9" x2="1343.7" y2="1714.9" stroke="#333" stroke-width="1"/>
<text x="1325.6" y="1714.9" font-size="12" text-anchor="middle" fill="#111" font-family="Liberation Sans, Arial, sans-serif" transform="rotate(-90 1325.6 1714.9)">1e+05</text>
<line x1="1335.7" y1="1630.4" x2="1343.7" y2="1630.4" stroke="#333" stroke-width="1"/>
<text x="1325.6" y="1630.4" font-size="12" text-anchor="middle" fill="#111" font-family="Liberation Sans, Arial, sans-serif" transform="rotate(-90 1325.6 1630.4)">2e+05</text>
<line x1="1335.7" y1="1545.9" x2="1343.7" y2="1545.9" stroke="#333" stroke-width="1"/>
<text x="1325.6" y="1545.9" font-size="12" text-anchor="middle" fill="#111" font-family="Liberation Sans, Arial, sans-serif" transform="rotate(-90 1325.6 1545.9)">3e+05</text>
<line x1="1335.7" y1="1461.4" x2="1343.7" y2="1461.4" stroke="#333" stroke-width="1"/>
<text x="1325.6" y="1461.4" font-size="12" text-anchor="middle" fill="#111" font-family="Liberation Sans, Arial, sans-serif" transform="rotate(-90 1325.6 1461.4)">4e+05</text>
<line x1="1387.2" y1="1833.5" x2="1387.2" y2="1840.5" stroke="#333" stroke-width="1"/>
<text x="1387.2" y="1860.6" font-size="12" text-anchor="middle" fill="#111" font-family="Liberation Sans, Arial, sans-serif">F1</text>
<line x1="1463.3" y1="1833.5" x2="1463.3" y2="1840.5" stroke="#333" stroke-width="1"/>
<text x="1463.3" y="1860.6" font-size="12" text-anchor="middle" fill="#111" font-family="Liberation Sans, Arial, sans-serif">T1</text>
<line x1="1387.2" y1="1726.6" x2="1387.2" y2="1672.7" stroke="#000" stroke-width="0.9" stroke-dasharray="2.6,2.2"/>
<line x1="1387.2" y1="1777.5" x2="1387.2" y2="1792.3" stroke="#000" stroke-width="0.9" stroke-dasharray="2.6,2.2"/>
<line x1="1377.7" y1="1672.7" x2="1396.7" y2="1672.7" stroke="#000" stroke-width="1"/>
<line x1="1377.7" y1="1792.3" x2="1396.7" y2="1792.3" stroke="#000" stroke-width="1"/>
<rect x="1368.7" y="1726.6" width="38" height="50.9" fill="#dcdcfd" stroke="#000" stroke-width="0.9"/>
<line x1="1368.7" y1="1755.8" x2="1406.7" y2="1755.8" stroke="#000" stroke-width="2.6"/>
<line x1="1463.3" y1="1614.5" x2="1463.3" y2="1474.3" stroke="#000" stroke-width="0.9" stroke-dasharray="2.6,2.2"/>
<line x1="1463.3" y1="1726.4" x2="1463.3" y2="1787.3" stroke="#000" stroke-width="0.9" stroke-dasharray="2.6,2.2"/>
<line x1="1453.8" y1="1474.3" x2="1472.8" y2="1474.3" stroke="#000" stroke-width="1"/>
<line x1="1453.8" y1="1787.3" x2="1472.8" y2="1787.3" stroke="#000" stroke-width="1"/>
<rect x="1444.6" y="1614.5" width="38" height="111.9" fill="#dcdcfd" stroke="#000" stroke-width="0.9"/>
<line x1="1444.6" y1="1672.3" x2="1482.6" y2="1672.3" stroke="#000" stroke-width="2.6"/>
<line x1="1314.2" y1="1713.6" x2="1532.7" y2="1713.6" stroke="#f03030" stroke-width="1.1" stroke-dasharray="3.4,3.3"/>
<circle cx="1386.53" cy="1571.66" r="2.6" fill="none" stroke="#000" stroke-width="0.85"/>
<circle cx="1387.61" cy="1583.61" r="2.6" fill="none" stroke="#000" stroke-width="0.85"/>
<circle cx="1386.96" cy="1596.21" r="2.6" fill="none" stroke="#000" stroke-width="0.85"/>
<circle cx="1384.35" cy="1614.03" r="2.6" fill="none" stroke="#000" stroke-width="0.85"/>
<circle cx="1385.87" cy="1629.68" r="2.6" fill="none" stroke="#000" stroke-width="0.85"/>
<circle cx="1382.61" cy="1632.5" r="2.6" fill="none" stroke="#000" stroke-width="0.85"/>
<circle cx="1385.44" cy="1647.06" r="2.6" fill="none" stroke="#000" stroke-width="0.85"/>
<circle cx="1387.18" cy="1672.7" r="2.6" fill="none" stroke="#000" stroke-width="0.85"/>
<circle cx="1381.74" cy="1679.87" r="2.6" fill="none" stroke="#000" stroke-width="0.85"/>
<circle cx="1386.09" cy="1693.78" r="2.6" fill="none" stroke="#000" stroke-width="0.85"/>
<circle cx="1387.61" cy="1714.64" r="2.6" fill="none" stroke="#000" stroke-width="0.85"/>
<circle cx="1393.05" cy="1714.64" r="2.6" fill="none" stroke="#000" stroke-width="0.85"/>
<circle cx="1389.79" cy="1723.33" r="2.6" fill="none" stroke="#000" stroke-width="0.85"/>
<circle cx="1392.61" cy="1725.28" r="2.6" fill="none" stroke="#000" stroke-width="0.85"/>
<circle cx="1380.66" cy="1726.37" r="2.6" fill="none" stroke="#000" stroke-width="0.85"/>
<circle cx="1393.05" cy="1727.67" r="2.6" fill="none" stroke="#000" stroke-width="0.85"/>
<circle cx="1383.92" cy="1735.71" r="2.6" fill="none" stroke="#000" stroke-width="0.85"/>
<circle cx="1389.79" cy="1738.97" r="2.6" fill="none" stroke="#000" stroke-width="0.85"/>
<circle cx="1394.79" cy="1739.41" r="2.6" fill="none" stroke="#000" stroke-width="0.85"/>
<circle cx="1382.18" cy="1742.88" r="2.6" fill="none" stroke="#000" stroke-width="0.85"/>
<circle cx="1384.35" cy="1745.06" r="2.6" fill="none" stroke="#000" stroke-width="0.85"/>
<circle cx="1386.96" cy="1747.66" r="2.6" fill="none" stroke="#000" stroke-width="0.85"/>
<circle cx="1388.7" cy="1748.75" r="2.6" fill="none" stroke="#000" stroke-width="0.85"/>
<circle cx="1390.87" cy="1749.84" r="2.6" fill="none" stroke="#000" stroke-width="0.85"/>
<circle cx="1395.22" cy="1753.75" r="2.6" fill="none" stroke="#000" stroke-width="0.85"/>
<circle cx="1385.44" cy="1754.18" r="2.6" fill="none" stroke="#000" stroke-width="0.85"/>
<circle cx="1391.96" cy="1756.36" r="2.6" fill="none" stroke="#000" stroke-width="0.85"/>
<circle cx="1386.53" cy="1759.61" r="2.6" fill="none" stroke="#000" stroke-width="0.85"/>
<circle cx="1382.18" cy="1762.87" r="2.6" fill="none" stroke="#000" stroke-width="0.85"/>
<circle cx="1386.09" cy="1762.22" r="2.6" fill="none" stroke="#000" stroke-width="0.85"/>
<circle cx="1391.96" cy="1762.44" r="2.6" fill="none" stroke="#000" stroke-width="0.85"/>
<circle cx="1388.7" cy="1767.22" r="2.6" fill="none" stroke="#000" stroke-width="0.85"/>
<circle cx="1380" cy="1771.57" r="2.6" fill="none" stroke="#000" stroke-width="0.85"/>
<circle cx="1383.92" cy="1772" r="2.6" fill="none" stroke="#000" stroke-width="0.85"/>
<circle cx="1389.79" cy="1772" r="2.6" fill="none" stroke="#000" stroke-width="0.85"/>
<circle cx="1393.05" cy="1774.17" r="2.6" fill="none" stroke="#000" stroke-width="0.85"/>
<circle cx="1380.44" cy="1778.52" r="2.6" fill="none" stroke="#000" stroke-width="0.85"/>
<circle cx="1384.35" cy="1779.17" r="2.6" fill="none" stroke="#000" stroke-width="0.85"/>
<circle cx="1388.7" cy="1780.69" r="2.6" fill="none" stroke="#000" stroke-width="0.85"/>
<circle cx="1391.96" cy="1781.34" r="2.6" fill="none" stroke="#000" stroke-width="0.85"/>
<circle cx="1386.96" cy="1783.52" r="2.6" fill="none" stroke="#000" stroke-width="0.85"/>
<circle cx="1394.79" cy="1784.6" r="2.6" fill="none" stroke="#000" stroke-width="0.85"/>
<circle cx="1390.87" cy="1787.43" r="2.6" fill="none" stroke="#000" stroke-width="0.85"/>
<circle cx="1380" cy="1791.12" r="2.6" fill="none" stroke="#000" stroke-width="0.85"/>
<circle cx="1382.18" cy="1792.21" r="2.6" fill="none" stroke="#000" stroke-width="0.85"/>
<circle cx="1386.53" cy="1790.04" r="2.6" fill="none" stroke="#000" stroke-width="0.85"/>
<circle cx="1457.83" cy="1474.31" r="2.8" fill="#000"/>
<circle cx="1462.18" cy="1485.83" r="2.8" fill="#000"/>
<circle cx="1457.18" cy="1566.23" r="2.8" fill="#000"/>
<circle cx="1468.27" cy="1609.68" r="2.8" fill="#000"/>
<circle cx="1468.27" cy="1619.9" r="2.8" fill="#000"/>
<circle cx="1463.7" cy="1643.36" r="2.8" fill="#000"/>
<circle cx="1464.79" cy="1654.23" r="2.8" fill="#000"/>
<circle cx="1465.88" cy="1655.32" r="2.8" fill="#000"/>
<circle cx="1463.27" cy="1690.08" r="2.8" fill="#000"/>
<circle cx="1456.09" cy="1702.47" r="2.8" fill="#000"/>
<circle cx="1456.53" cy="1711.16" r="2.8" fill="#000"/>
<circle cx="1469.57" cy="1712.46" r="2.8" fill="#000"/>
<circle cx="1469.14" cy="1740.71" r="2.8" fill="#000"/>
<circle cx="1470.22" cy="1742.88" r="2.8" fill="#000"/>
<circle cx="1461.96" cy="1763.53" r="2.8" fill="#000"/>
<circle cx="1467.4" cy="1787.43" r="2.8" fill="#000"/>
<rect x="606.1" y="1933.1" width="155.5" height="381.5" fill="none" stroke="#333333" stroke-width="1.1"/>
<line x1="598.1" y1="2297.2" x2="606.1" y2="2297.2" stroke="#333" stroke-width="1"/>
<text x="589.1" y="2297.2" font-size="12" text-anchor="middle" fill="#111" font-family="Liberation Sans, Arial, sans-serif" transform="rotate(-90 589.1 2297.2)">0</text>
<line x1="598.1" y1="2217.7" x2="606.1" y2="2217.7" stroke="#333" stroke-width="1"/>
<text x="589.1" y="2217.7" font-size="12" text-anchor="middle" fill="#111" font-family="Liberation Sans, Arial, sans-serif" transform="rotate(-90 589.1 2217.7)">50000</text>
<line x1="598.1" y1="2138.2" x2="606.1" y2="2138.2" stroke="#333" stroke-width="1"/>
<text x="589.1" y="2138.2" font-size="12" text-anchor="middle" fill="#111" font-family="Liberation Sans, Arial, sans-serif" transform="rotate(-90 589.1 2138.2)">100000</text>
<line x1="598.1" y1="2058.7" x2="606.1" y2="2058.7" stroke="#333" stroke-width="1"/>
<text x="589.1" y="2058.7" font-size="12" text-anchor="middle" fill="#111" font-family="Liberation Sans, Arial, sans-serif" transform="rotate(-90 589.1 2058.7)">150000</text>
<line x1="598.1" y1="1979.2" x2="606.1" y2="1979.2" stroke="#333" stroke-width="1"/>
<text x="589.1" y="1979.2" font-size="12" text-anchor="middle" fill="#111" font-family="Liberation Sans, Arial, sans-serif" transform="rotate(-90 589.1 1979.2)">200000</text>
<line x1="647.6" y1="2314.6" x2="647.6" y2="2321.6" stroke="#333" stroke-width="1"/>
<text x="647.6" y="2340.3" font-size="12" text-anchor="middle" fill="#111" font-family="Liberation Sans, Arial, sans-serif">F1</text>
<line x1="719.3" y1="2314.6" x2="719.3" y2="2321.6" stroke="#333" stroke-width="1"/>
<text x="719.3" y="2340.3" font-size="12" text-anchor="middle" fill="#111" font-family="Liberation Sans, Arial, sans-serif">T1</text>
<line x1="647.6" y1="2233.3" x2="647.6" y2="2184.4" stroke="#000" stroke-width="0.9" stroke-dasharray="2.6,2.2"/>
<line x1="647.6" y1="2266.4" x2="647.6" y2="2275.2" stroke="#000" stroke-width="0.9" stroke-dasharray="2.6,2.2"/>
<line x1="638.7" y1="2184.4" x2="656.5" y2="2184.4" stroke="#000" stroke-width="1"/>
<line x1="638.7" y1="2275.2" x2="656.5" y2="2275.2" stroke="#000" stroke-width="1"/>
<rect x="629.8" y="2233.3" width="35.6" height="33.1" fill="#dcdcfd" stroke="#000" stroke-width="0.9"/>
<line x1="629.8" y1="2255.7" x2="665.4" y2="2255.7" stroke="#000" stroke-width="2.6"/>
<line x1="719.3" y1="2101.8" x2="719.3" y2="1972.7" stroke="#000" stroke-width="0.9" stroke-dasharray="2.6,2.2"/>
<line x1="719.3" y1="2247.3" x2="719.3" y2="2271" stroke="#000" stroke-width="0.9" stroke-dasharray="2.6,2.2"/>
<line x1="710.4" y1="1972.7" x2="728.2" y2="1972.7" stroke="#000" stroke-width="1"/>
<line x1="710.4" y1="2271" x2="728.2" y2="2271" stroke="#000" stroke-width="1"/>
<rect x="701.7" y="2101.8" width="35.8" height="145.5" fill="#dcdcfd" stroke="#000" stroke-width="0.9"/>
<line x1="701.7" y1="2189.7" x2="737.5" y2="2189.7" stroke="#000" stroke-width="2.6"/>
<line x1="576.6" y1="2225.5" x2="787.1" y2="2225.5" stroke="#f03030" stroke-width="1.1" stroke-dasharray="3.4,3.3"/>
<circle cx="641.32" cy="2011.09" r="2.6" fill="none" stroke="#000" stroke-width="0.85"/>
<circle cx="646.56" cy="2007.32" r="2.6" fill="none" stroke="#000" stroke-width="0.85"/>
<circle cx="644.26" cy="2034.14" r="2.6" fill="none" stroke="#000" stroke-width="0.85"/>
<circle cx="641.32" cy="2170.38" r="2.6" fill="none" stroke="#000" stroke-width="0.85"/>
<circle cx="651.8" cy="2184.43" r="2.6" fill="none" stroke="#000" stroke-width="0.85"/>
<circle cx="643.42" cy="2197.63" r="2.6" fill="none" stroke="#000" stroke-width="0.85"/>
<circle cx="642.37" cy="2200.78" r="2.6" fill="none" stroke="#000" stroke-width="0.85"/>
<circle cx="648.66" cy="2199.73" r="2.6" fill="none" stroke="#000" stroke-width="0.85"/>
<circle cx="645.94" cy="2201.82" r="2.6" fill="none" stroke="#000" stroke-width="0.85"/>
<circle cx="653.69" cy="2202.87" r="2.6" fill="none" stroke="#000" stroke-width="0.85"/>
<circle cx="645.94" cy="2207.06" r="2.6" fill="none" stroke="#000" stroke-width="0.85"/>
<circle cx="650.13" cy="2216.08" r="2.6" fill="none" stroke="#000" stroke-width="0.85"/>
<circle cx="646.98" cy="2228.02" r="2.6" fill="none" stroke="#000" stroke-width="0.85"/>
<circle cx="648.66" cy="2230.12" r="2.6" fill="none" stroke="#000" stroke-width="0.85"/>
<circle cx="649.71" cy="2233.26" r="2.6" fill="none" stroke="#000" stroke-width="0.85"/>
<circle cx="654.32" cy="2235.36" r="2.6" fill="none" stroke="#000" stroke-width="0.85"/>
<circle cx="643.42" cy="2239.55" r="2.6" fill="none" stroke="#000" stroke-width="0.85"/>
<circle cx="645.94" cy="2242.7" r="2.6" fill="none" stroke="#000" stroke-width="0.85"/>
<circle cx="644.89" cy="2243.74" r="2.6" fill="none" stroke="#000" stroke-width="0.85"/>
<circle cx="654.32" cy="2241.23" r="2.6" fill="none" stroke="#000" stroke-width="0.85"/>
<circle cx="653.69" cy="2246.89" r="2.6" fill="none" stroke="#000" stroke-width="0.85"/>
<circle cx="649.08" cy="2250.03" r="2.6" fill="none" stroke="#000" stroke-width="0.85"/>
<circle cx="643.84" cy="2252.13" r="2.6" fill="none" stroke="#000" stroke-width="0.85"/>
<circle cx="645.94" cy="2254.22" r="2.6" fill="none" stroke="#000" stroke-width="0.85"/>
<circle cx="639.65" cy="2256.32" r="2.6" fill="none" stroke="#000" stroke-width="0.85"/>
<circle cx="642.79" cy="2256.32" r="2.6" fill="none" stroke="#000" stroke-width="0.85"/>
<circle cx="648.03" cy="2258.42" r="2.6" fill="none" stroke="#000" stroke-width="0.85"/>
<circle cx="652.22" cy="2259.46" r="2.6" fill="none" stroke="#000" stroke-width="0.85"/>
<circle cx="653.27" cy="2260.51" r="2.6" fill="none" stroke="#000" stroke-width="0.85"/>
<circle cx="640.7" cy="2260.51" r="2.6" fill="none" stroke="#000" stroke-width="0.85"/>
<circle cx="643.84" cy="2261.56" r="2.6" fill="none" stroke="#000" stroke-width="0.85"/>
<circle cx="646.98" cy="2263.66" r="2.6" fill="none" stroke="#000" stroke-width="0.85"/>
<circle cx="640.7" cy="2264.7" r="2.6" fill="none" stroke="#000" stroke-width="0.85"/>
<circle cx="643.42" cy="2264.7" r="2.6" fill="none" stroke="#000" stroke-width="0.85"/>
<circle cx="650.55" cy="2264.7" r="2.6" fill="none" stroke="#000" stroke-width="0.85"/>
<circle cx="653.27" cy="2265.75" r="2.6" fill="none" stroke="#000" stroke-width="0.85"/>
<circle cx="639.65" cy="2268.9" r="2.6" fill="none" stroke="#000" stroke-width="0.85"/>
<circle cx="643.84" cy="2269.94" r="2.6" fill="none" stroke="#000" stroke-width="0.85"/>
<circle cx="648.03" cy="2269.94" r="2.6" fill="none" stroke="#000" stroke-width="0.85"/>
<circle cx="652.22" cy="2270.99" r="2.6" fill="none" stroke="#000" stroke-width="0.85"/>
<circle cx="642.79" cy="2274.14" r="2.6" fill="none" stroke="#000" stroke-width="0.85"/>
<circle cx="651.6" cy="2273.09" r="2.6" fill="none" stroke="#000" stroke-width="0.85"/>
<circle cx="654.32" cy="2273.09" r="2.6" fill="none" stroke="#000" stroke-width="0.85"/>
<circle cx="643.42" cy="2276.23" r="2.6" fill="none" stroke="#000" stroke-width="0.85"/>
<circle cx="651.8" cy="2275.18" r="2.6" fill="none" stroke="#000" stroke-width="0.85"/>
<circle cx="715.52" cy="1972.73" r="2.8" fill="#000"/>
<circle cx="719.3" cy="2005.22" r="2.8" fill="#000"/>
<circle cx="718.67" cy="2020.52" r="2.8" fill="#000"/>
<circle cx="724.54" cy="2074.39" r="2.8" fill="#000"/>
<circle cx="713.01" cy="2129.51" r="2.8" fill="#000"/>
<circle cx="720.34" cy="2165.14" r="2.8" fill="#000"/>
<circle cx="714.68" cy="2185.48" r="2.8" fill="#000"/>
<circle cx="718.88" cy="2186.1" r="2.8" fill="#000"/>
<circle cx="718.25" cy="2194.49" r="2.8" fill="#000"/>
<circle cx="717.2" cy="2197.21" r="2.8" fill="#000"/>
<circle cx="717.2" cy="2223.2" r="2.8" fill="#000"/>
<circle cx="717.2" cy="2241.23" r="2.8" fill="#000"/>
<circle cx="721.81" cy="2252.76" r="2.8" fill="#000"/>
<circle cx="720.34" cy="2258.84" r="2.8" fill="#000"/>
<circle cx="718.67" cy="2268.9" r="2.8" fill="#000"/>
<circle cx="712.59" cy="2270.99" r="2.8" fill="#000"/>
<text x="2.5" y="51.4" font-size="42.5" fill="#000" font-family="Liberation Sans, Arial, sans-serif" font-weight="bold">A</text>
<text x="515.6" y="46.7" font-size="42.5" fill="#000" font-family="Liberation Sans, Arial, sans-serif" font-weight="bold">B</text>
<text x="1045.3" y="32.9" font-size="42.5" fill="#000" font-family="Liberation Sans, Arial, sans-serif" font-weight="bold">C</text>
<text x="2" y="580.2" font-size="42.5" fill="#000" font-family="Liberation Sans, Arial, sans-serif" font-weight="bold">D</text>
<text x="102.2" y="982.9" font-size="42.5" fill="#000" font-family="Liberation Sans, Arial, sans-serif" font-weight="bold">E</text></svg>
</body></html>
